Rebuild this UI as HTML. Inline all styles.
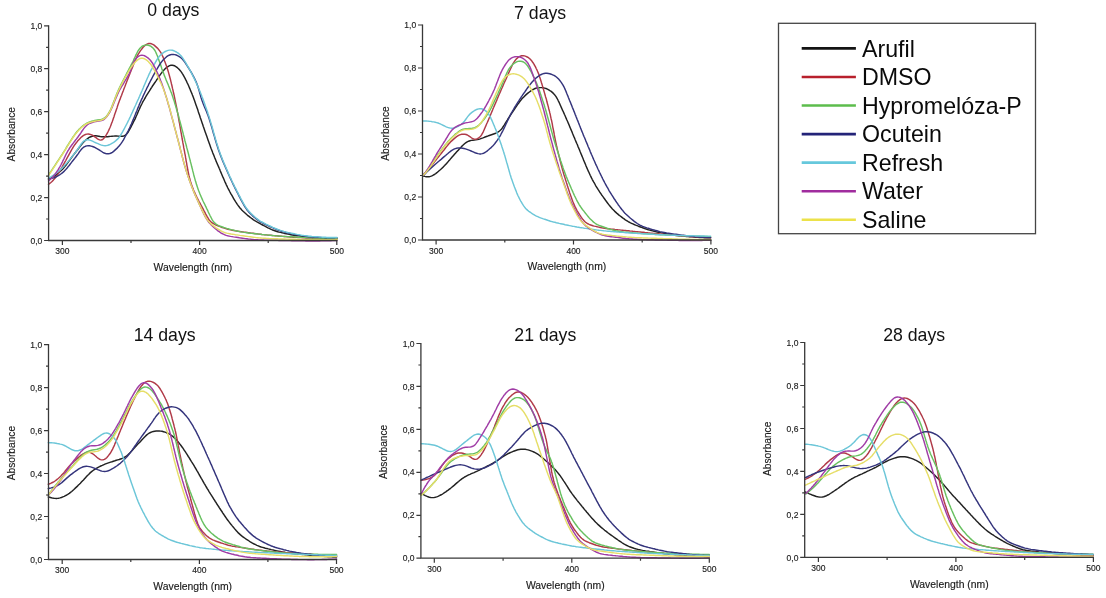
<!DOCTYPE html><html><head><meta charset="utf-8"><style>html,body{margin:0;padding:0;background:#fff;width:1106px;height:598px;overflow:hidden}svg{display:block;will-change:transform}text{font-family:"Liberation Sans", sans-serif}</style></head><body>
<svg width="1106" height="598" viewBox="0 0 1106 598">
<g><path d="M48.5,179.0 L49.9,178.4 L51.2,177.8 L52.6,177.1 L53.8,176.4 L55.1,175.5 L56.3,174.6 L57.5,173.7 L58.6,172.8 L59.8,171.8 L60.9,170.8 L62.0,169.7 L63.0,168.7 L64.0,167.6 L65.0,166.4 L65.9,165.2 L66.8,164.1 L67.7,162.9 L68.6,161.6 L69.5,160.4 L70.4,159.2 L71.2,158.0 L72.1,156.8 L73.0,155.6 L73.9,154.4 L74.8,153.2 L75.8,152.0 L76.7,150.8 L77.6,149.7 L78.5,148.5 L79.4,147.3 L80.4,146.1 L81.3,144.9 L82.2,143.7 L83.2,142.6 L84.2,141.5 L85.3,140.5 L86.4,139.5 L87.6,138.6 L88.8,137.7 L90.1,137.0 L91.5,136.5 L92.9,136.1 L94.3,135.8 L95.8,135.8 L97.2,136.0 L98.7,136.2 L100.2,136.5 L101.7,136.7 L103.1,136.8 L104.6,136.8 L106.1,136.8 L107.6,136.7 L109.1,136.5 L110.6,136.4 L112.1,136.2 L113.6,136.1 L115.1,136.0 L116.6,136.0 L118.1,136.1 L119.5,136.3 L121.0,136.3 L122.4,136.3 L123.8,136.0 L125.0,135.4 L126.1,134.6 L127.1,133.5 L128.0,132.3 L128.7,131.0 L129.5,129.7 L130.2,128.4 L130.9,127.1 L131.6,125.7 L132.3,124.4 L132.9,123.1 L133.6,121.7 L134.3,120.4 L135.0,119.1 L135.6,117.7 L136.2,116.3 L136.8,115.0 L137.4,113.6 L138.0,112.2 L138.6,110.8 L139.2,109.5 L139.8,108.1 L140.4,106.7 L141.1,105.4 L141.8,104.0 L142.4,102.7 L143.1,101.4 L143.9,100.1 L144.6,98.8 L145.4,97.5 L146.1,96.2 L146.9,94.9 L147.7,93.6 L148.5,92.3 L149.3,91.1 L150.1,89.8 L150.9,88.5 L151.7,87.3 L152.5,86.0 L153.4,84.8 L154.2,83.5 L155.1,82.3 L155.9,81.1 L156.7,79.8 L157.6,78.6 L158.4,77.3 L159.3,76.1 L160.1,74.9 L161.0,73.6 L161.9,72.5 L162.8,71.3 L163.8,70.2 L164.9,69.1 L165.9,68.1 L167.1,67.1 L168.3,66.3 L169.6,65.6 L170.9,65.3 L172.3,65.2 L173.7,65.5 L175.0,66.0 L176.2,66.8 L177.4,67.7 L178.5,68.7 L179.5,69.8 L180.5,70.9 L181.4,72.1 L182.2,73.4 L183.0,74.6 L183.7,75.9 L184.4,77.2 L185.2,78.6 L185.8,79.9 L186.5,81.2 L187.1,82.6 L187.8,84.0 L188.4,85.3 L189.0,86.7 L189.6,88.1 L190.2,89.5 L190.7,90.9 L191.3,92.2 L191.9,93.6 L192.4,95.0 L193.0,96.4 L193.5,97.8 L194.0,99.2 L194.5,100.6 L195.0,102.1 L195.5,103.5 L196.0,104.9 L196.5,106.3 L197.0,107.7 L197.5,109.1 L198.0,110.6 L198.4,112.0 L198.9,113.4 L199.4,114.8 L199.9,116.3 L200.3,117.7 L200.8,119.1 L201.3,120.5 L201.8,121.9 L202.3,123.4 L202.8,124.8 L203.2,126.2 L203.7,127.6 L204.2,129.0 L204.7,130.4 L205.2,131.9 L205.7,133.3 L206.2,134.7 L206.7,136.1 L207.2,137.5 L207.7,138.9 L208.2,140.4 L208.7,141.8 L209.2,143.2 L209.7,144.6 L210.2,146.0 L210.7,147.4 L211.2,148.8 L211.8,150.2 L212.3,151.6 L212.8,153.0 L213.4,154.4 L214.0,155.8 L214.5,157.2 L215.1,158.6 L215.7,160.0 L216.2,161.4 L216.8,162.7 L217.4,164.1 L218.0,165.5 L218.6,166.9 L219.2,168.3 L219.8,169.6 L220.3,171.0 L220.9,172.4 L221.5,173.8 L222.1,175.2 L222.7,176.6 L223.3,177.9 L223.9,179.3 L224.5,180.7 L225.1,182.1 L225.7,183.4 L226.3,184.8 L227.0,186.1 L227.6,187.5 L228.3,188.8 L229.0,190.1 L229.7,191.5 L230.4,192.8 L231.1,194.1 L231.9,195.4 L232.6,196.7 L233.3,198.0 L234.1,199.3 L234.9,200.6 L235.7,201.9 L236.5,203.1 L237.3,204.4 L238.2,205.6 L239.1,206.8 L240.0,208.0 L241.0,209.1 L242.0,210.2 L243.1,211.3 L244.2,212.3 L245.3,213.3 L246.4,214.3 L247.5,215.3 L248.7,216.2 L249.9,217.1 L251.1,218.0 L252.3,218.9 L253.5,219.8 L254.8,220.6 L256.1,221.3 L257.4,222.1 L258.7,222.8 L260.0,223.5 L261.3,224.3 L262.6,225.0 L263.9,225.7 L265.3,226.4 L266.6,227.1 L267.9,227.8 L269.3,228.4 L270.6,229.1 L272.0,229.7 L273.4,230.2 L274.8,230.7 L276.2,231.2 L277.7,231.7 L279.1,232.1 L280.6,232.4 L282.0,232.8 L283.5,233.1 L284.9,233.5 L286.4,233.8 L287.9,234.1 L289.3,234.4 L290.8,234.7 L292.3,235.0 L293.8,235.2 L295.2,235.5 L296.7,235.7 L298.2,235.9 L299.7,236.1 L301.2,236.3 L302.7,236.5 L304.2,236.6 L305.7,236.7 L307.2,236.9 L308.6,237.0 L310.1,237.1 L311.6,237.3 L313.1,237.4 L314.6,237.5 L316.1,237.6 L317.6,237.7 L319.1,237.8 L320.6,237.9 L322.1,238.0 L323.6,238.1 L325.1,238.2 L326.6,238.3 L328.1,238.4 L329.6,238.4 L331.1,238.5 L332.6,238.5 L334.1,238.6 L335.5,238.6 L337.0,238.6 L337.0,238.6" fill="none" stroke="#222222" stroke-width="1.45" stroke-linejoin="round" stroke-linecap="round"/><path d="M48.5,184.3 L49.7,183.4 L50.9,182.5 L52.0,181.5 L53.0,180.4 L54.0,179.3 L55.0,178.2 L55.9,177.0 L56.8,175.8 L57.6,174.6 L58.5,173.3 L59.2,172.0 L60.0,170.7 L60.7,169.4 L61.5,168.1 L62.2,166.8 L62.9,165.5 L63.7,164.2 L64.4,162.9 L65.1,161.6 L65.9,160.3 L66.6,158.9 L67.3,157.6 L68.0,156.3 L68.8,155.0 L69.5,153.7 L70.2,152.4 L70.9,151.1 L71.7,149.7 L72.4,148.5 L73.2,147.2 L74.0,145.9 L74.8,144.7 L75.7,143.5 L76.7,142.3 L77.6,141.1 L78.6,140.0 L79.6,138.9 L80.7,137.8 L81.7,136.8 L82.9,135.9 L84.1,135.1 L85.4,134.5 L86.8,134.1 L88.2,134.0 L89.6,134.2 L91.0,134.6 L92.3,135.2 L93.6,135.9 L94.8,136.8 L96.0,137.7 L97.2,138.6 L98.4,139.4 L99.6,139.9 L100.8,140.1 L102.0,139.8 L103.1,139.1 L104.1,138.1 L105.0,136.9 L105.8,135.7 L106.6,134.4 L107.3,133.1 L108.0,131.8 L108.7,130.4 L109.3,129.0 L109.9,127.7 L110.5,126.3 L111.0,124.9 L111.5,123.5 L112.1,122.1 L112.6,120.7 L113.1,119.3 L113.6,117.8 L114.1,116.4 L114.5,115.0 L115.0,113.6 L115.5,112.2 L116.0,110.7 L116.5,109.3 L117.0,107.9 L117.4,106.5 L117.9,105.1 L118.4,103.6 L118.9,102.2 L119.4,100.8 L120.0,99.4 L120.5,98.0 L121.0,96.6 L121.6,95.2 L122.1,93.8 L122.6,92.4 L123.2,91.0 L123.7,89.6 L124.2,88.2 L124.8,86.8 L125.3,85.4 L125.8,84.0 L126.4,82.6 L126.9,81.2 L127.5,79.8 L128.0,78.4 L128.6,77.0 L129.1,75.6 L129.7,74.2 L130.2,72.8 L130.8,71.4 L131.3,70.0 L131.9,68.7 L132.5,67.3 L133.0,65.9 L133.6,64.5 L134.1,63.1 L134.7,61.7 L135.3,60.3 L135.9,58.9 L136.5,57.6 L137.1,56.2 L137.8,54.9 L138.6,53.6 L139.4,52.3 L140.2,51.1 L141.1,49.9 L142.0,48.7 L142.9,47.5 L143.9,46.4 L145.0,45.4 L146.2,44.6 L147.5,43.9 L148.8,43.5 L150.2,43.5 L151.5,43.8 L152.8,44.4 L154.1,45.1 L155.2,46.1 L156.3,47.1 L157.4,48.1 L158.4,49.2 L159.3,50.4 L160.2,51.6 L161.0,52.9 L161.7,54.2 L162.3,55.5 L163.0,56.9 L163.5,58.3 L164.1,59.7 L164.6,61.1 L165.2,62.5 L165.7,63.9 L166.2,65.3 L166.7,66.7 L167.2,68.1 L167.6,69.6 L168.1,71.0 L168.5,72.4 L168.9,73.9 L169.3,75.3 L169.7,76.8 L170.1,78.2 L170.5,79.7 L170.8,81.1 L171.2,82.6 L171.5,84.0 L171.9,85.5 L172.2,87.0 L172.5,88.4 L172.9,89.9 L173.2,91.4 L173.5,92.8 L173.9,94.3 L174.2,95.7 L174.5,97.2 L174.8,98.7 L175.1,100.1 L175.4,101.6 L175.7,103.1 L176.0,104.6 L176.3,106.0 L176.6,107.5 L176.9,109.0 L177.2,110.4 L177.4,111.9 L177.7,113.4 L178.0,114.9 L178.3,116.3 L178.5,117.8 L178.8,119.3 L179.0,120.8 L179.3,122.3 L179.6,123.7 L179.8,125.2 L180.1,126.7 L180.3,128.2 L180.6,129.6 L180.8,131.1 L181.1,132.6 L181.4,134.1 L181.6,135.6 L181.9,137.0 L182.1,138.5 L182.4,140.0 L182.7,141.5 L182.9,142.9 L183.2,144.4 L183.5,145.9 L183.7,147.4 L184.0,148.8 L184.3,150.3 L184.6,151.8 L184.8,153.3 L185.1,154.7 L185.4,156.2 L185.6,157.7 L185.9,159.2 L186.1,160.6 L186.4,162.1 L186.7,163.6 L186.9,165.1 L187.2,166.6 L187.5,168.0 L187.7,169.5 L188.0,171.0 L188.3,172.4 L188.6,173.9 L188.9,175.4 L189.3,176.8 L189.6,178.3 L190.0,179.8 L190.4,181.2 L190.9,182.6 L191.3,184.1 L191.8,185.5 L192.3,186.9 L192.9,188.3 L193.4,189.7 L194.0,191.1 L194.6,192.4 L195.2,193.8 L195.8,195.2 L196.5,196.5 L197.1,197.9 L197.8,199.2 L198.5,200.5 L199.2,201.8 L200.0,203.2 L200.7,204.5 L201.4,205.8 L202.1,207.1 L202.8,208.4 L203.5,209.7 L204.2,211.1 L204.9,212.4 L205.6,213.8 L206.3,215.1 L207.0,216.4 L207.8,217.7 L208.5,219.0 L209.4,220.2 L210.4,221.3 L211.4,222.3 L212.6,223.2 L213.9,223.9 L215.2,224.6 L216.6,225.3 L217.9,225.8 L219.3,226.4 L220.7,226.9 L222.1,227.5 L223.6,227.9 L225.0,228.4 L226.4,228.8 L227.9,229.2 L229.3,229.6 L230.8,229.9 L232.2,230.3 L233.7,230.5 L235.2,230.8 L236.7,231.0 L238.2,231.3 L239.6,231.5 L241.1,231.7 L242.6,231.9 L244.1,232.1 L245.6,232.3 L247.1,232.5 L248.5,232.7 L250.0,232.9 L251.5,233.1 L253.0,233.3 L254.5,233.5 L256.0,233.7 L257.5,233.9 L259.0,234.1 L260.4,234.3 L261.9,234.5 L263.4,234.6 L264.9,234.8 L266.4,234.9 L267.9,235.1 L269.4,235.2 L270.9,235.3 L272.4,235.5 L273.9,235.6 L275.4,235.7 L276.9,235.9 L278.4,236.0 L279.9,236.1 L281.4,236.2 L282.9,236.4 L284.3,236.5 L285.8,236.6 L287.3,236.7 L288.8,236.8 L290.3,237.0 L291.8,237.1 L293.3,237.2 L294.8,237.3 L296.3,237.4 L297.8,237.5 L299.3,237.6 L300.8,237.6 L302.3,237.7 L303.8,237.8 L305.3,237.9 L306.8,237.9 L308.3,238.0 L309.8,238.1 L311.3,238.1 L312.8,238.2 L314.3,238.3 L315.8,238.3 L317.3,238.4 L318.8,238.5 L320.3,238.5 L321.8,238.6 L323.3,238.6 L324.8,238.7 L326.3,238.7 L327.8,238.8 L329.3,238.8 L330.8,238.9 L332.3,238.9 L333.7,238.9 L335.2,239.0 L336.5,239.0 L337.0,239.0" fill="none" stroke="#b03a48" stroke-width="1.45" stroke-linejoin="round" stroke-linecap="round"/><path d="M48.5,175.2 L49.3,173.9 L50.1,172.7 L51.0,171.4 L51.8,170.2 L52.6,168.9 L53.4,167.7 L54.3,166.4 L55.1,165.2 L55.9,163.9 L56.7,162.7 L57.5,161.4 L58.4,160.1 L59.2,158.9 L60.0,157.6 L60.8,156.4 L61.7,155.1 L62.5,153.9 L63.3,152.6 L64.1,151.3 L64.9,150.1 L65.7,148.8 L66.4,147.5 L67.2,146.2 L68.0,145.0 L68.8,143.7 L69.6,142.4 L70.4,141.1 L71.2,139.9 L72.0,138.6 L72.8,137.3 L73.7,136.1 L74.5,134.9 L75.4,133.7 L76.3,132.5 L77.3,131.3 L78.3,130.2 L79.3,129.1 L80.4,128.1 L81.5,127.0 L82.6,126.1 L83.8,125.1 L85.0,124.3 L86.3,123.5 L87.6,122.8 L89.0,122.2 L90.4,121.7 L91.8,121.3 L93.2,120.9 L94.7,120.5 L96.2,120.2 L97.6,120.0 L99.1,119.8 L100.6,119.6 L102.0,119.2 L103.3,118.7 L104.6,117.9 L105.7,117.0 L106.7,115.9 L107.6,114.7 L108.4,113.5 L109.2,112.2 L109.9,110.9 L110.6,109.6 L111.2,108.2 L111.8,106.8 L112.3,105.4 L112.9,104.0 L113.4,102.6 L113.9,101.2 L114.5,99.8 L115.0,98.4 L115.5,97.0 L116.1,95.6 L116.6,94.2 L117.2,92.8 L117.8,91.5 L118.4,90.1 L119.0,88.7 L119.7,87.4 L120.3,86.0 L121.0,84.7 L121.6,83.3 L122.3,82.0 L123.0,80.7 L123.7,79.3 L124.4,78.0 L125.1,76.7 L125.8,75.3 L126.4,74.0 L127.1,72.7 L127.8,71.3 L128.5,70.0 L129.2,68.7 L129.9,67.4 L130.6,66.0 L131.3,64.7 L132.0,63.4 L132.7,62.0 L133.3,60.7 L133.9,59.3 L134.6,57.9 L135.2,56.6 L135.8,55.2 L136.5,53.9 L137.2,52.5 L137.9,51.2 L138.7,50.0 L139.5,48.8 L140.5,47.7 L141.6,46.7 L142.8,45.9 L144.2,45.4 L145.6,45.1 L147.0,45.0 L148.4,45.3 L149.7,45.7 L151.0,46.4 L152.2,47.3 L153.2,48.3 L154.2,49.5 L155.0,50.7 L155.7,52.0 L156.3,53.4 L156.9,54.8 L157.5,56.1 L158.0,57.5 L158.5,59.0 L159.0,60.4 L159.5,61.8 L160.0,63.2 L160.5,64.6 L161.0,66.0 L161.5,67.5 L161.9,68.9 L162.4,70.3 L162.9,71.7 L163.5,73.1 L164.0,74.5 L164.5,75.9 L165.1,77.3 L165.7,78.7 L166.2,80.1 L166.8,81.5 L167.4,82.9 L168.0,84.2 L168.5,85.6 L169.1,87.0 L169.6,88.4 L170.2,89.8 L170.7,91.2 L171.3,92.6 L171.8,94.0 L172.3,95.4 L172.8,96.9 L173.2,98.3 L173.7,99.7 L174.2,101.1 L174.6,102.6 L175.0,104.0 L175.5,105.4 L175.9,106.9 L176.3,108.3 L176.7,109.8 L177.2,111.2 L177.6,112.6 L178.0,114.1 L178.4,115.5 L178.8,117.0 L179.1,118.4 L179.5,119.9 L179.9,121.3 L180.3,122.8 L180.7,124.2 L181.1,125.7 L181.5,127.1 L181.8,128.6 L182.2,130.0 L182.6,131.5 L183.0,132.9 L183.3,134.4 L183.7,135.8 L184.1,137.3 L184.5,138.7 L184.8,140.2 L185.2,141.6 L185.6,143.1 L186.0,144.5 L186.4,146.0 L186.7,147.4 L187.1,148.9 L187.5,150.3 L187.9,151.8 L188.3,153.2 L188.7,154.7 L189.0,156.1 L189.4,157.6 L189.8,159.1 L190.2,160.5 L190.5,162.0 L190.9,163.4 L191.3,164.9 L191.6,166.3 L192.0,167.8 L192.4,169.2 L192.7,170.7 L193.1,172.1 L193.5,173.6 L193.8,175.0 L194.2,176.5 L194.6,177.9 L195.0,179.4 L195.4,180.8 L195.9,182.3 L196.3,183.7 L196.7,185.1 L197.2,186.6 L197.7,188.0 L198.2,189.4 L198.7,190.8 L199.3,192.2 L199.8,193.6 L200.4,195.0 L201.0,196.4 L201.6,197.7 L202.2,199.1 L202.8,200.5 L203.4,201.8 L204.1,203.2 L204.8,204.5 L205.4,205.9 L206.1,207.2 L206.7,208.6 L207.4,209.9 L208.0,211.3 L208.6,212.6 L209.3,214.0 L209.9,215.3 L210.6,216.7 L211.3,218.0 L212.0,219.3 L212.8,220.6 L213.6,221.8 L214.6,222.9 L215.7,223.9 L216.9,224.7 L218.2,225.4 L219.6,226.0 L221.0,226.5 L222.4,227.0 L223.8,227.5 L225.2,227.9 L226.7,228.4 L228.1,228.8 L229.5,229.2 L231.0,229.6 L232.4,229.9 L233.9,230.3 L235.4,230.6 L236.8,231.0 L238.3,231.3 L239.8,231.6 L241.2,231.9 L242.7,232.1 L244.2,232.4 L245.7,232.6 L247.2,232.8 L248.6,233.0 L250.1,233.2 L251.6,233.4 L253.1,233.5 L254.6,233.7 L256.1,233.8 L257.6,234.0 L259.1,234.1 L260.6,234.3 L262.1,234.5 L263.6,234.6 L265.0,234.8 L266.5,234.9 L268.0,235.1 L269.5,235.2 L271.0,235.4 L272.5,235.5 L274.0,235.6 L275.5,235.8 L277.0,235.9 L278.5,236.0 L280.0,236.1 L281.5,236.3 L283.0,236.4 L284.5,236.5 L286.0,236.5 L287.5,236.6 L289.0,236.7 L290.5,236.8 L292.0,236.8 L293.5,236.9 L295.0,237.0 L296.5,237.1 L298.0,237.2 L299.5,237.2 L301.0,237.3 L302.5,237.4 L303.9,237.5 L305.4,237.5 L306.9,237.6 L308.4,237.7 L309.9,237.7 L311.4,237.8 L312.9,237.9 L314.4,237.9 L315.9,238.0 L317.4,238.1 L318.9,238.1 L320.4,238.2 L321.9,238.2 L323.4,238.3 L324.9,238.3 L326.4,238.4 L327.9,238.4 L329.4,238.5 L330.9,238.5 L332.4,238.5 L333.9,238.6 L335.2,238.6 L336.6,238.6 L337.0,238.6" fill="none" stroke="#68c060" stroke-width="1.45" stroke-linejoin="round" stroke-linecap="round"/><path d="M48.5,179.0 L50.0,178.7 L51.4,178.4 L52.9,178.1 L54.3,177.6 L55.7,177.0 L57.0,176.3 L58.3,175.6 L59.6,174.8 L60.8,174.0 L62.0,173.1 L63.2,172.1 L64.3,171.1 L65.3,170.1 L66.3,168.9 L67.3,167.8 L68.2,166.6 L69.2,165.5 L70.1,164.3 L71.0,163.1 L71.9,161.9 L72.8,160.7 L73.8,159.5 L74.7,158.4 L75.6,157.2 L76.5,156.0 L77.4,154.8 L78.3,153.6 L79.1,152.3 L80.0,151.1 L80.9,149.9 L81.9,148.8 L83.0,147.8 L84.1,146.9 L85.4,146.3 L86.7,145.9 L88.2,145.7 L89.6,145.8 L91.1,146.1 L92.5,146.5 L93.9,147.0 L95.2,147.6 L96.5,148.4 L97.8,149.1 L99.1,149.9 L100.3,150.7 L101.6,151.5 L102.9,152.3 L104.2,153.0 L105.6,153.5 L107.0,153.8 L108.4,153.8 L109.8,153.5 L111.1,153.0 L112.4,152.3 L113.6,151.4 L114.7,150.4 L115.8,149.4 L116.9,148.4 L117.9,147.3 L118.9,146.2 L119.9,145.1 L120.8,143.9 L121.7,142.6 L122.5,141.4 L123.3,140.1 L124.0,138.8 L124.7,137.5 L125.4,136.2 L126.1,134.8 L126.8,133.5 L127.5,132.2 L128.2,130.8 L128.8,129.5 L129.5,128.1 L130.1,126.8 L130.7,125.4 L131.4,124.0 L131.9,122.7 L132.5,121.3 L133.1,119.9 L133.7,118.5 L134.3,117.1 L134.8,115.7 L135.4,114.3 L135.9,112.9 L136.5,111.6 L137.1,110.2 L137.6,108.8 L138.2,107.4 L138.8,106.0 L139.3,104.6 L139.9,103.2 L140.5,101.9 L141.1,100.5 L141.7,99.1 L142.4,97.8 L143.0,96.4 L143.6,95.0 L144.3,93.7 L144.9,92.3 L145.5,91.0 L146.2,89.6 L146.8,88.3 L147.5,86.9 L148.2,85.6 L148.8,84.2 L149.5,82.9 L150.2,81.5 L150.9,80.2 L151.6,78.9 L152.3,77.5 L153.0,76.2 L153.7,74.9 L154.4,73.6 L155.1,72.3 L155.9,71.0 L156.6,69.7 L157.4,68.4 L158.1,67.1 L158.9,65.8 L159.7,64.5 L160.5,63.3 L161.4,62.1 L162.3,60.9 L163.3,59.8 L164.4,58.7 L165.5,57.7 L166.6,56.7 L167.8,55.9 L169.1,55.2 L170.5,54.7 L171.9,54.4 L173.3,54.4 L174.8,54.6 L176.2,55.0 L177.5,55.6 L178.8,56.3 L180.1,57.1 L181.2,58.0 L182.3,59.1 L183.3,60.2 L184.2,61.3 L185.1,62.6 L185.9,63.8 L186.7,65.1 L187.5,66.3 L188.3,67.6 L189.1,68.9 L189.9,70.2 L190.7,71.4 L191.4,72.7 L192.2,74.0 L192.9,75.3 L193.6,76.7 L194.3,78.0 L195.0,79.4 L195.6,80.7 L196.2,82.1 L196.8,83.5 L197.3,84.9 L197.8,86.3 L198.2,87.7 L198.7,89.2 L199.1,90.6 L199.5,92.0 L199.9,93.5 L200.3,94.9 L200.7,96.4 L201.1,97.8 L201.6,99.2 L202.1,100.7 L202.6,102.1 L203.1,103.5 L203.7,104.9 L204.2,106.2 L204.8,107.6 L205.4,109.0 L206.0,110.4 L206.6,111.8 L207.1,113.2 L207.7,114.6 L208.2,116.0 L208.7,117.4 L209.2,118.8 L209.6,120.2 L210.1,121.7 L210.5,123.1 L210.9,124.5 L211.4,126.0 L211.8,127.4 L212.2,128.9 L212.6,130.3 L213.0,131.7 L213.4,133.2 L213.8,134.6 L214.3,136.1 L214.7,137.5 L215.1,139.0 L215.5,140.4 L215.9,141.8 L216.4,143.3 L216.8,144.7 L217.3,146.1 L217.7,147.6 L218.2,149.0 L218.7,150.4 L219.2,151.8 L219.7,153.2 L220.2,154.6 L220.8,156.0 L221.3,157.4 L221.9,158.8 L222.4,160.2 L223.0,161.6 L223.6,163.0 L224.2,164.4 L224.8,165.7 L225.4,167.1 L226.0,168.5 L226.6,169.9 L227.2,171.2 L227.8,172.6 L228.4,174.0 L229.0,175.3 L229.6,176.7 L230.3,178.1 L230.9,179.4 L231.5,180.8 L232.2,182.2 L232.8,183.5 L233.4,184.9 L234.1,186.2 L234.8,187.6 L235.4,188.9 L236.1,190.2 L236.8,191.6 L237.5,192.9 L238.2,194.2 L238.8,195.6 L239.5,196.9 L240.2,198.2 L240.9,199.6 L241.6,200.9 L242.3,202.2 L243.0,203.5 L243.8,204.9 L244.5,206.1 L245.3,207.4 L246.2,208.7 L247.0,209.9 L248.0,211.0 L249.0,212.2 L250.0,213.3 L251.0,214.3 L252.1,215.3 L253.2,216.4 L254.4,217.3 L255.5,218.3 L256.7,219.2 L257.9,220.1 L259.1,221.0 L260.4,221.8 L261.7,222.5 L263.0,223.2 L264.3,223.9 L265.7,224.6 L267.0,225.2 L268.4,225.8 L269.8,226.5 L271.1,227.1 L272.5,227.7 L273.9,228.3 L275.3,228.9 L276.6,229.5 L278.0,230.0 L279.4,230.5 L280.9,231.0 L282.3,231.5 L283.7,231.9 L285.2,232.3 L286.6,232.7 L288.1,233.0 L289.5,233.3 L291.0,233.6 L292.5,234.0 L293.9,234.3 L295.4,234.6 L296.9,234.8 L298.4,235.1 L299.8,235.4 L301.3,235.6 L302.8,235.9 L304.3,236.1 L305.8,236.3 L307.3,236.5 L308.7,236.7 L310.2,236.8 L311.7,237.0 L313.2,237.1 L314.7,237.2 L316.2,237.3 L317.7,237.3 L319.2,237.4 L320.7,237.5 L322.2,237.6 L323.7,237.6 L325.2,237.7 L326.7,237.7 L328.2,237.8 L329.7,237.8 L331.2,237.8 L332.7,237.8 L334.2,237.8 L335.6,237.8 L337.0,237.8 L337.0,237.8" fill="none" stroke="#34347c" stroke-width="1.45" stroke-linejoin="round" stroke-linecap="round"/><path d="M48.5,178.0 L49.8,177.3 L51.2,176.6 L52.4,175.9 L53.7,175.0 L54.9,174.2 L56.1,173.3 L57.3,172.3 L58.4,171.4 L59.6,170.4 L60.7,169.4 L61.8,168.4 L62.8,167.3 L63.9,166.2 L64.9,165.1 L65.9,164.0 L66.9,162.9 L67.9,161.7 L68.8,160.6 L69.8,159.4 L70.7,158.3 L71.6,157.1 L72.6,155.9 L73.5,154.8 L74.5,153.6 L75.4,152.4 L76.3,151.2 L77.2,150.0 L78.0,148.8 L78.8,147.5 L79.7,146.3 L80.5,145.0 L81.4,143.8 L82.3,142.7 L83.3,141.6 L84.5,140.7 L85.7,140.1 L87.0,139.8 L88.4,139.8 L89.8,140.1 L91.2,140.6 L92.5,141.2 L93.9,141.9 L95.2,142.5 L96.6,143.1 L98.0,143.7 L99.4,144.3 L100.8,144.9 L102.2,145.3 L103.6,145.6 L105.1,145.7 L106.5,145.6 L107.9,145.3 L109.3,144.8 L110.6,144.2 L111.9,143.4 L113.2,142.6 L114.4,141.8 L115.6,140.9 L116.7,139.9 L117.8,138.9 L118.8,137.8 L119.7,136.6 L120.5,135.3 L121.3,134.0 L122.0,132.8 L122.8,131.4 L123.5,130.1 L124.2,128.8 L124.9,127.5 L125.6,126.2 L126.3,124.8 L127.0,123.5 L127.7,122.2 L128.3,120.8 L129.0,119.5 L129.6,118.1 L130.3,116.7 L130.9,115.4 L131.5,114.0 L132.2,112.7 L132.8,111.3 L133.4,109.9 L134.0,108.6 L134.6,107.2 L135.3,105.8 L135.9,104.5 L136.5,103.1 L137.1,101.7 L137.7,100.4 L138.4,99.0 L139.0,97.6 L139.6,96.3 L140.2,94.9 L140.8,93.5 L141.4,92.1 L142.0,90.8 L142.6,89.4 L143.2,88.0 L143.7,86.6 L144.3,85.2 L144.9,83.9 L145.5,82.5 L146.1,81.1 L146.7,79.7 L147.3,78.3 L147.9,77.0 L148.5,75.6 L149.1,74.2 L149.8,72.9 L150.4,71.5 L151.1,70.2 L151.8,68.9 L152.5,67.5 L153.2,66.2 L153.9,64.9 L154.7,63.6 L155.4,62.3 L156.2,61.0 L157.0,59.7 L157.8,58.5 L158.6,57.3 L159.6,56.1 L160.6,55.0 L161.7,54.0 L162.8,53.1 L164.1,52.2 L165.3,51.5 L166.7,50.9 L168.1,50.4 L169.5,50.1 L170.9,50.1 L172.4,50.3 L173.8,50.7 L175.1,51.3 L176.4,52.0 L177.7,52.8 L178.9,53.7 L179.9,54.7 L181.0,55.8 L181.9,56.9 L182.8,58.2 L183.6,59.4 L184.4,60.7 L185.2,61.9 L186.0,63.2 L186.7,64.5 L187.5,65.8 L188.3,67.1 L189.0,68.4 L189.7,69.7 L190.4,71.0 L191.1,72.4 L191.8,73.7 L192.5,75.1 L193.1,76.4 L193.8,77.7 L194.5,79.1 L195.1,80.4 L195.7,81.8 L196.4,83.2 L197.0,84.5 L197.6,85.9 L198.2,87.3 L198.8,88.6 L199.4,90.0 L199.9,91.4 L200.5,92.8 L201.1,94.2 L201.6,95.6 L202.1,97.0 L202.7,98.4 L203.2,99.8 L203.7,101.2 L204.2,102.6 L204.7,104.0 L205.2,105.4 L205.7,106.9 L206.2,108.3 L206.7,109.7 L207.2,111.1 L207.7,112.5 L208.1,114.0 L208.6,115.4 L209.1,116.8 L209.5,118.3 L210.0,119.7 L210.4,121.1 L210.8,122.6 L211.2,124.0 L211.7,125.4 L212.1,126.9 L212.5,128.3 L212.9,129.8 L213.3,131.2 L213.7,132.7 L214.1,134.1 L214.5,135.5 L214.9,137.0 L215.3,138.4 L215.8,139.9 L216.2,141.3 L216.6,142.7 L217.1,144.2 L217.5,145.6 L218.0,147.0 L218.4,148.5 L218.9,149.9 L219.4,151.3 L219.9,152.7 L220.4,154.1 L221.0,155.5 L221.5,156.9 L222.0,158.3 L222.6,159.7 L223.2,161.1 L223.7,162.5 L224.3,163.9 L224.9,165.3 L225.5,166.6 L226.1,168.0 L226.7,169.4 L227.3,170.8 L227.9,172.1 L228.5,173.5 L229.1,174.9 L229.7,176.2 L230.4,177.6 L231.0,179.0 L231.6,180.3 L232.3,181.7 L232.9,183.0 L233.6,184.4 L234.2,185.7 L234.9,187.1 L235.6,188.4 L236.3,189.7 L236.9,191.1 L237.6,192.4 L238.3,193.7 L239.0,195.1 L239.7,196.4 L240.4,197.7 L241.1,199.1 L241.8,200.4 L242.5,201.7 L243.2,203.0 L244.0,204.3 L244.8,205.6 L245.6,206.9 L246.4,208.1 L247.3,209.3 L248.2,210.5 L249.2,211.6 L250.3,212.7 L251.3,213.7 L252.4,214.8 L253.5,215.8 L254.6,216.8 L255.8,217.8 L256.9,218.7 L258.1,219.6 L259.4,220.5 L260.6,221.3 L261.9,222.0 L263.2,222.7 L264.6,223.4 L265.9,224.1 L267.2,224.7 L268.6,225.4 L270.0,226.0 L271.3,226.6 L272.7,227.3 L274.1,227.9 L275.4,228.5 L276.8,229.0 L278.2,229.6 L279.6,230.1 L281.0,230.6 L282.5,231.0 L283.9,231.5 L285.4,231.9 L286.8,232.2 L288.3,232.6 L289.7,232.9 L291.2,233.2 L292.7,233.5 L294.1,233.8 L295.6,234.1 L297.1,234.4 L298.6,234.6 L300.0,234.9 L301.5,235.2 L303.0,235.4 L304.5,235.6 L306.0,235.8 L307.5,236.0 L308.9,236.2 L310.4,236.3 L311.9,236.5 L313.4,236.6 L314.9,236.7 L316.4,236.8 L317.9,236.9 L319.4,237.0 L320.9,237.1 L322.4,237.2 L323.9,237.2 L325.4,237.3 L326.9,237.4 L328.4,237.4 L329.9,237.5 L331.4,237.5 L332.9,237.5 L334.3,237.5 L335.7,237.5 L337.0,237.5 L337.0,237.5" fill="none" stroke="#6cc6d8" stroke-width="1.45" stroke-linejoin="round" stroke-linecap="round"/><path d="M48.5,181.0 L49.6,180.0 L50.8,179.0 L51.8,178.0 L52.8,176.9 L53.8,175.7 L54.7,174.6 L55.6,173.4 L56.5,172.1 L57.3,170.9 L58.2,169.7 L58.9,168.4 L59.7,167.1 L60.4,165.8 L61.1,164.5 L61.8,163.1 L62.5,161.8 L63.1,160.4 L63.8,159.1 L64.4,157.7 L65.1,156.4 L65.7,155.0 L66.4,153.7 L67.1,152.4 L67.8,151.0 L68.6,149.8 L69.4,148.5 L70.2,147.2 L71.1,146.0 L72.0,144.8 L72.9,143.6 L73.8,142.4 L74.7,141.2 L75.6,140.0 L76.5,138.9 L77.4,137.7 L78.3,136.5 L79.2,135.2 L80.1,134.0 L80.9,132.8 L81.7,131.5 L82.6,130.3 L83.4,129.1 L84.3,127.9 L85.3,126.7 L86.3,125.7 L87.5,124.7 L88.7,123.9 L90.0,123.2 L91.4,122.7 L92.8,122.2 L94.2,121.8 L95.7,121.5 L97.2,121.3 L98.7,121.0 L100.1,120.8 L101.5,120.5 L102.9,120.0 L104.2,119.3 L105.3,118.3 L106.3,117.3 L107.2,116.1 L108.1,114.9 L108.9,113.7 L109.7,112.4 L110.4,111.0 L111.0,109.7 L111.7,108.3 L112.3,107.0 L112.8,105.6 L113.4,104.2 L114.0,102.8 L114.5,101.4 L115.1,100.0 L115.7,98.6 L116.3,97.3 L116.9,95.9 L117.5,94.5 L118.1,93.2 L118.7,91.8 L119.4,90.5 L120.1,89.2 L120.9,87.8 L121.6,86.5 L122.4,85.3 L123.2,84.0 L124.0,82.7 L124.7,81.4 L125.5,80.1 L126.3,78.9 L127.0,77.6 L127.8,76.2 L128.5,74.9 L129.2,73.6 L129.8,72.2 L130.4,70.9 L130.9,69.5 L131.4,68.0 L131.9,66.6 L132.4,65.2 L132.9,63.8 L133.5,62.4 L134.2,61.1 L135.0,59.9 L135.9,58.7 L136.9,57.6 L138.0,56.7 L139.2,55.9 L140.5,55.4 L141.9,55.2 L143.3,55.4 L144.6,55.8 L145.9,56.5 L147.1,57.3 L148.3,58.2 L149.4,59.3 L150.4,60.3 L151.3,61.5 L152.2,62.7 L153.0,64.0 L153.7,65.3 L154.4,66.6 L155.1,67.9 L155.8,69.3 L156.4,70.7 L157.0,72.0 L157.6,73.4 L158.2,74.8 L158.8,76.1 L159.4,77.5 L160.0,78.9 L160.5,80.3 L161.1,81.7 L161.6,83.1 L162.1,84.5 L162.6,85.9 L163.1,87.3 L163.6,88.8 L164.0,90.2 L164.5,91.6 L165.0,93.0 L165.4,94.5 L165.9,95.9 L166.3,97.3 L166.8,98.8 L167.2,100.2 L167.6,101.6 L168.0,103.1 L168.4,104.5 L168.9,106.0 L169.3,107.4 L169.7,108.9 L170.1,110.3 L170.5,111.8 L170.8,113.2 L171.2,114.6 L171.6,116.1 L172.0,117.5 L172.4,119.0 L172.8,120.4 L173.2,121.9 L173.6,123.3 L173.9,124.8 L174.3,126.2 L174.7,127.7 L175.1,129.1 L175.5,130.6 L175.9,132.0 L176.3,133.5 L176.6,134.9 L177.0,136.4 L177.4,137.8 L177.8,139.3 L178.2,140.7 L178.6,142.2 L179.0,143.6 L179.3,145.1 L179.7,146.5 L180.1,148.0 L180.4,149.5 L180.8,150.9 L181.2,152.4 L181.6,153.8 L181.9,155.3 L182.3,156.7 L182.7,158.2 L183.1,159.6 L183.4,161.1 L183.8,162.5 L184.2,164.0 L184.6,165.4 L185.1,166.8 L185.5,168.3 L185.9,169.7 L186.4,171.2 L186.8,172.6 L187.3,174.0 L187.8,175.4 L188.2,176.8 L188.7,178.3 L189.2,179.7 L189.7,181.1 L190.2,182.5 L190.8,183.9 L191.3,185.3 L191.8,186.7 L192.4,188.1 L192.9,189.5 L193.5,190.9 L194.0,192.3 L194.6,193.7 L195.2,195.1 L195.8,196.4 L196.4,197.8 L197.0,199.2 L197.7,200.5 L198.3,201.9 L198.9,203.3 L199.5,204.6 L200.1,206.0 L200.8,207.4 L201.4,208.7 L202.0,210.1 L202.6,211.5 L203.3,212.8 L203.9,214.2 L204.6,215.5 L205.3,216.8 L206.1,218.1 L206.8,219.4 L207.7,220.7 L208.5,221.9 L209.5,223.0 L210.5,224.1 L211.5,225.2 L212.6,226.2 L213.7,227.2 L214.8,228.2 L216.0,229.2 L217.2,230.1 L218.3,231.1 L219.6,231.9 L220.8,232.8 L222.1,233.5 L223.4,234.2 L224.8,234.8 L226.2,235.4 L227.6,235.8 L229.0,236.1 L230.5,236.4 L232.0,236.6 L233.5,236.9 L235.0,237.1 L236.4,237.3 L237.9,237.5 L239.4,237.8 L240.9,238.0 L242.4,238.2 L243.9,238.4 L245.3,238.6 L246.8,238.8 L248.3,239.0 L249.8,239.1 L251.3,239.3 L252.8,239.4 L254.3,239.6 L255.8,239.7 L257.3,239.8 L258.8,239.9 L260.3,239.9 L261.8,240.0 L263.3,240.0 L264.8,240.1 L266.3,240.1 L267.8,240.1 L269.3,240.2 L270.8,240.2 L272.3,240.2 L273.8,240.3 L275.3,240.3 L276.8,240.3 L278.3,240.4 L279.8,240.4 L281.3,240.5 L282.8,240.5 L284.3,240.5 L285.8,240.6 L287.3,240.6 L288.8,240.6 L290.3,240.6 L291.8,240.7 L293.3,240.7 L294.8,240.7 L296.3,240.8 L297.8,240.8 L299.3,240.8 L300.8,240.8 L302.3,240.8 L303.8,240.8 L305.3,240.9 L306.8,240.9 L308.3,240.9 L309.8,240.9 L311.3,240.9 L312.8,240.9 L314.3,240.9 L315.8,240.9 L317.3,240.9 L318.8,240.9 L320.3,240.9 L321.8,240.8 L323.3,240.8 L324.8,240.8 L326.3,240.8 L327.8,240.8 L329.3,240.7 L330.8,240.7 L332.3,240.6 L333.7,240.6 L335.2,240.6 L336.5,240.5 L337.0,240.5" fill="none" stroke="#a03ca6" stroke-width="1.45" stroke-linejoin="round" stroke-linecap="round"/><path d="M48.5,175.6 L49.3,174.3 L50.1,173.1 L51.0,171.8 L51.8,170.6 L52.6,169.3 L53.4,168.1 L54.2,166.8 L55.1,165.6 L55.9,164.3 L56.7,163.1 L57.5,161.8 L58.4,160.5 L59.2,159.3 L60.0,158.0 L60.8,156.8 L61.7,155.5 L62.5,154.3 L63.3,153.0 L64.1,151.7 L64.9,150.5 L65.7,149.2 L66.5,147.9 L67.2,146.6 L68.0,145.4 L68.8,144.1 L69.6,142.8 L70.4,141.5 L71.2,140.3 L72.0,139.0 L72.9,137.8 L73.7,136.5 L74.6,135.3 L75.5,134.1 L76.4,132.9 L77.4,131.8 L78.3,130.7 L79.4,129.6 L80.4,128.5 L81.5,127.5 L82.6,126.5 L83.8,125.6 L85.0,124.7 L86.3,124.0 L87.7,123.3 L89.0,122.8 L90.5,122.3 L91.9,121.9 L93.3,121.5 L94.8,121.2 L96.3,120.9 L97.8,120.7 L99.2,120.4 L100.7,120.2 L102.1,119.8 L103.4,119.2 L104.6,118.4 L105.7,117.5 L106.7,116.4 L107.6,115.2 L108.4,113.9 L109.2,112.7 L109.9,111.3 L110.6,110.0 L111.2,108.6 L111.8,107.2 L112.3,105.9 L112.9,104.5 L113.4,103.1 L114.0,101.7 L114.5,100.3 L115.0,98.9 L115.6,97.5 L116.1,96.1 L116.7,94.7 L117.3,93.3 L117.9,91.9 L118.5,90.6 L119.2,89.2 L119.8,87.9 L120.5,86.5 L121.2,85.2 L121.9,83.9 L122.5,82.5 L123.2,81.2 L123.9,79.9 L124.6,78.5 L125.3,77.2 L126.1,75.9 L126.8,74.6 L127.5,73.3 L128.3,72.0 L129.0,70.7 L129.8,69.4 L130.6,68.2 L131.5,66.9 L132.3,65.7 L133.2,64.5 L134.1,63.3 L135.1,62.2 L136.2,61.1 L137.3,60.1 L138.5,59.3 L139.7,58.6 L141.1,58.2 L142.4,58.2 L143.8,58.5 L145.1,59.1 L146.3,59.9 L147.4,60.8 L148.5,61.8 L149.5,62.9 L150.5,64.0 L151.4,65.2 L152.2,66.5 L153.0,67.8 L153.7,69.1 L154.5,70.4 L155.2,71.7 L155.9,73.0 L156.6,74.4 L157.3,75.7 L157.9,77.0 L158.6,78.4 L159.3,79.7 L159.9,81.1 L160.6,82.4 L161.2,83.8 L161.8,85.2 L162.4,86.5 L163.0,87.9 L163.5,89.3 L164.0,90.7 L164.6,92.1 L165.1,93.5 L165.6,95.0 L166.0,96.4 L166.5,97.8 L167.0,99.2 L167.4,100.7 L167.8,102.1 L168.3,103.5 L168.7,105.0 L169.1,106.4 L169.5,107.9 L169.9,109.3 L170.3,110.8 L170.7,112.2 L171.1,113.6 L171.5,115.1 L171.8,116.5 L172.2,118.0 L172.6,119.5 L173.0,120.9 L173.4,122.4 L173.7,123.8 L174.1,125.3 L174.5,126.7 L174.9,128.2 L175.2,129.6 L175.6,131.1 L176.0,132.5 L176.4,134.0 L176.8,135.4 L177.2,136.9 L177.5,138.3 L177.9,139.8 L178.3,141.2 L178.7,142.7 L179.1,144.1 L179.5,145.6 L179.8,147.0 L180.2,148.5 L180.6,149.9 L180.9,151.4 L181.3,152.8 L181.7,154.3 L182.1,155.7 L182.4,157.2 L182.8,158.6 L183.2,160.1 L183.6,161.5 L184.0,163.0 L184.4,164.4 L184.8,165.9 L185.2,167.3 L185.6,168.8 L186.1,170.2 L186.5,171.6 L187.0,173.0 L187.4,174.5 L187.9,175.9 L188.4,177.3 L188.9,178.7 L189.4,180.2 L189.9,181.6 L190.4,183.0 L190.9,184.4 L191.4,185.8 L192.0,187.2 L192.5,188.6 L193.1,190.0 L193.6,191.4 L194.2,192.8 L194.8,194.1 L195.4,195.5 L196.0,196.9 L196.6,198.2 L197.2,199.6 L197.9,201.0 L198.5,202.3 L199.1,203.7 L199.7,205.1 L200.4,206.4 L201.0,207.8 L201.6,209.2 L202.3,210.5 L202.9,211.9 L203.6,213.2 L204.3,214.5 L205.0,215.9 L205.7,217.2 L206.5,218.5 L207.3,219.7 L208.2,220.9 L209.2,222.0 L210.2,223.1 L211.3,224.1 L212.4,225.1 L213.6,226.0 L214.8,226.9 L216.0,227.8 L217.3,228.6 L218.5,229.4 L219.8,230.2 L221.1,230.9 L222.5,231.6 L223.9,232.2 L225.3,232.7 L226.7,233.1 L228.1,233.4 L229.6,233.7 L231.1,234.0 L232.6,234.2 L234.0,234.4 L235.5,234.7 L237.0,234.9 L238.5,235.1 L240.0,235.4 L241.5,235.6 L242.9,235.8 L244.4,236.0 L245.9,236.2 L247.4,236.4 L248.9,236.6 L250.4,236.8 L251.9,237.0 L253.3,237.2 L254.8,237.4 L256.3,237.6 L257.8,237.7 L259.3,237.9 L260.8,238.0 L262.3,238.1 L263.8,238.2 L265.3,238.3 L266.8,238.4 L268.3,238.5 L269.8,238.6 L271.3,238.6 L272.8,238.7 L274.3,238.7 L275.8,238.8 L277.3,238.8 L278.8,238.9 L280.3,238.9 L281.8,239.0 L283.3,239.0 L284.8,239.0 L286.3,239.1 L287.8,239.1 L289.3,239.2 L290.8,239.2 L292.3,239.3 L293.8,239.3 L295.3,239.3 L296.8,239.4 L298.3,239.4 L299.8,239.5 L301.3,239.5 L302.8,239.5 L304.3,239.6 L305.8,239.6 L307.3,239.6 L308.8,239.6 L310.3,239.7 L311.8,239.7 L313.3,239.7 L314.8,239.7 L316.3,239.7 L317.8,239.7 L319.3,239.7 L320.8,239.7 L322.3,239.7 L323.8,239.7 L325.3,239.7 L326.8,239.7 L328.3,239.7 L329.8,239.7 L331.3,239.6 L332.8,239.6 L334.3,239.6 L335.7,239.5 L337.2,239.5 L337.2,239.5" fill="none" stroke="#e6de68" stroke-width="1.45" stroke-linejoin="round" stroke-linecap="round"/><path d="M48.6,25.2 V240.5 H337.4" fill="none" stroke="#383838" stroke-width="1.3"/><path d="M44.1,240.5 h4.5 M46.1,219.0 h2.5 M44.1,197.6 h4.5 M46.1,176.1 h2.5 M44.1,154.6 h4.5 M46.1,133.2 h2.5 M44.1,111.7 h4.5 M46.1,90.2 h2.5 M44.1,68.7 h4.5 M46.1,47.3 h2.5 M44.1,25.8 h4.5 M62.4,240.5 v4.5 M131.0,240.5 v2.5 M199.6,240.5 v4.5 M268.2,240.5 v2.5 M336.8,240.5 v4.5" stroke="#383838" stroke-width="1.2" fill="none"/><text x="42.3" y="243.6" font-size="8.5" fill="#222" stroke="#222" stroke-width="0.15" text-anchor="end">0,0</text><text x="42.3" y="200.7" font-size="8.5" fill="#222" stroke="#222" stroke-width="0.15" text-anchor="end">0,2</text><text x="42.3" y="157.7" font-size="8.5" fill="#222" stroke="#222" stroke-width="0.15" text-anchor="end">0,4</text><text x="42.3" y="114.8" font-size="8.5" fill="#222" stroke="#222" stroke-width="0.15" text-anchor="end">0,6</text><text x="42.3" y="71.8" font-size="8.5" fill="#222" stroke="#222" stroke-width="0.15" text-anchor="end">0,8</text><text x="42.3" y="28.9" font-size="8.5" fill="#222" stroke="#222" stroke-width="0.15" text-anchor="end">1,0</text><text x="62.4" y="254.1" font-size="8.5" fill="#222" stroke="#222" stroke-width="0.15" text-anchor="middle">300</text><text x="199.6" y="254.1" font-size="8.5" fill="#222" stroke="#222" stroke-width="0.15" text-anchor="middle">400</text><text x="336.8" y="254.1" font-size="8.5" fill="#222" stroke="#222" stroke-width="0.15" text-anchor="middle">500</text><text x="192.9" y="270.8" font-size="10.4" fill="#1a1a1a" stroke="#1a1a1a" stroke-width="0.15" text-anchor="middle">Wavelength (nm)</text><text transform="translate(14.7,134.2) rotate(-90)" font-size="10.2" fill="#1a1a1a" stroke="#1a1a1a" stroke-width="0.15" text-anchor="middle">Absorbance</text></g>
<g><path d="M423.3,176.0 L424.7,176.4 L426.2,176.7 L427.6,176.8 L429.1,176.7 L430.5,176.4 L431.9,175.9 L433.2,175.2 L434.4,174.5 L435.7,173.6 L436.9,172.7 L438.0,171.7 L439.1,170.8 L440.3,169.8 L441.4,168.8 L442.5,167.7 L443.5,166.7 L444.6,165.6 L445.6,164.5 L446.6,163.4 L447.6,162.3 L448.6,161.1 L449.6,160.0 L450.5,158.9 L451.5,157.7 L452.5,156.6 L453.5,155.5 L454.5,154.3 L455.5,153.2 L456.5,152.1 L457.5,151.0 L458.5,149.9 L459.5,148.8 L460.6,147.7 L461.6,146.6 L462.6,145.5 L463.7,144.5 L464.8,143.5 L466.0,142.6 L467.2,141.8 L468.6,141.2 L470.0,140.7 L471.4,140.4 L472.9,140.2 L474.4,140.1 L475.8,139.9 L477.3,139.6 L478.8,139.3 L480.2,138.9 L481.6,138.4 L483.0,137.9 L484.4,137.3 L485.8,136.8 L487.2,136.3 L488.6,135.7 L490.0,135.2 L491.5,134.7 L492.9,134.2 L494.3,133.7 L495.7,133.2 L497.0,132.6 L498.3,131.9 L499.5,131.0 L500.6,130.0 L501.6,128.9 L502.5,127.7 L503.3,126.5 L504.2,125.2 L504.9,124.0 L505.7,122.7 L506.5,121.4 L507.3,120.1 L508.0,118.8 L508.8,117.6 L509.7,116.3 L510.5,115.0 L511.3,113.8 L512.2,112.6 L513.0,111.3 L513.9,110.1 L514.7,108.8 L515.5,107.6 L516.4,106.3 L517.2,105.1 L518.1,103.9 L519.0,102.7 L519.8,101.5 L520.8,100.3 L521.7,99.1 L522.7,98.0 L523.8,96.9 L524.8,95.9 L525.9,94.9 L527.0,93.9 L528.2,92.9 L529.4,92.0 L530.6,91.1 L531.8,90.2 L533.1,89.5 L534.4,88.8 L535.8,88.3 L537.2,87.9 L538.7,87.7 L540.2,87.6 L541.6,87.6 L543.1,87.8 L544.6,88.1 L546.0,88.5 L547.4,89.1 L548.7,89.8 L549.9,90.6 L551.2,91.4 L552.3,92.4 L553.4,93.4 L554.4,94.5 L555.3,95.6 L556.2,96.9 L556.9,98.1 L557.7,99.5 L558.3,100.8 L559.0,102.1 L559.6,103.5 L560.2,104.9 L560.8,106.2 L561.4,107.6 L562.0,109.0 L562.6,110.4 L563.3,111.7 L563.9,113.1 L564.5,114.5 L565.1,115.8 L565.7,117.2 L566.3,118.6 L566.9,120.0 L567.5,121.3 L568.1,122.7 L568.7,124.1 L569.3,125.5 L569.8,126.9 L570.4,128.2 L571.0,129.6 L571.6,131.0 L572.2,132.4 L572.7,133.8 L573.3,135.2 L573.9,136.6 L574.5,137.9 L575.0,139.3 L575.6,140.7 L576.2,142.1 L576.8,143.5 L577.4,144.8 L577.9,146.2 L578.5,147.6 L579.1,149.0 L579.7,150.4 L580.2,151.8 L580.8,153.2 L581.4,154.6 L581.9,155.9 L582.5,157.3 L583.1,158.7 L583.6,160.1 L584.2,161.5 L584.8,162.9 L585.4,164.3 L585.9,165.6 L586.5,167.0 L587.1,168.4 L587.7,169.8 L588.3,171.2 L589.0,172.5 L589.6,173.9 L590.2,175.2 L590.9,176.6 L591.5,177.9 L592.2,179.3 L592.9,180.6 L593.6,181.9 L594.4,183.2 L595.1,184.5 L595.8,185.8 L596.6,187.1 L597.4,188.4 L598.2,189.7 L599.0,190.9 L599.8,192.2 L600.7,193.4 L601.5,194.7 L602.4,195.9 L603.3,197.1 L604.1,198.3 L605.0,199.5 L605.9,200.8 L606.8,202.0 L607.7,203.2 L608.6,204.4 L609.5,205.5 L610.5,206.7 L611.4,207.8 L612.4,209.0 L613.5,210.0 L614.5,211.1 L615.6,212.1 L616.7,213.1 L617.9,214.1 L619.0,215.1 L620.2,216.0 L621.4,216.9 L622.6,217.9 L623.8,218.7 L625.0,219.6 L626.2,220.4 L627.5,221.2 L628.8,222.0 L630.1,222.7 L631.5,223.3 L632.9,223.9 L634.2,224.5 L635.6,225.1 L637.0,225.6 L638.4,226.2 L639.8,226.7 L641.2,227.2 L642.6,227.8 L644.0,228.3 L645.4,228.8 L646.9,229.2 L648.3,229.7 L649.7,230.1 L651.2,230.5 L652.6,230.9 L654.1,231.3 L655.5,231.6 L657.0,232.0 L658.5,232.3 L659.9,232.6 L661.4,232.9 L662.9,233.1 L664.4,233.4 L665.8,233.7 L667.3,234.0 L668.8,234.3 L670.3,234.5 L671.7,234.8 L673.2,235.0 L674.7,235.2 L676.2,235.4 L677.7,235.6 L679.2,235.8 L680.7,235.9 L682.1,236.1 L683.6,236.2 L685.1,236.3 L686.6,236.5 L688.1,236.6 L689.6,236.7 L691.1,236.8 L692.6,236.9 L694.1,237.1 L695.6,237.2 L697.1,237.3 L698.6,237.4 L700.1,237.4 L701.6,237.5 L703.1,237.6 L704.6,237.7 L706.1,237.7 L707.5,237.7 L708.9,237.8 L710.2,237.8 L710.6,237.8" fill="none" stroke="#222222" stroke-width="1.45" stroke-linejoin="round" stroke-linecap="round"/><path d="M423.3,175.2 L424.3,174.1 L425.3,173.0 L426.3,171.9 L427.3,170.8 L428.3,169.6 L429.3,168.5 L430.2,167.3 L431.2,166.1 L432.1,165.0 L433.0,163.8 L434.0,162.6 L434.9,161.4 L435.8,160.3 L436.7,159.1 L437.7,157.9 L438.6,156.7 L439.5,155.6 L440.5,154.4 L441.4,153.2 L442.3,152.0 L443.3,150.8 L444.2,149.7 L445.1,148.5 L446.0,147.3 L447.0,146.1 L447.9,145.0 L448.9,143.8 L449.9,142.7 L450.9,141.6 L452.0,140.6 L453.1,139.6 L454.2,138.6 L455.4,137.6 L456.6,136.7 L457.8,135.9 L459.1,135.2 L460.4,134.6 L461.8,134.2 L463.3,134.1 L464.7,134.2 L466.1,134.5 L467.4,135.0 L468.7,135.8 L469.9,136.6 L471.1,137.5 L472.3,138.3 L473.6,138.9 L474.9,139.2 L476.2,139.1 L477.5,138.7 L478.7,137.9 L479.8,137.0 L480.8,135.9 L481.7,134.7 L482.4,133.4 L483.1,132.1 L483.7,130.7 L484.3,129.4 L484.9,128.0 L485.5,126.6 L486.1,125.2 L486.7,123.8 L487.3,122.5 L487.9,121.1 L488.5,119.7 L489.1,118.3 L489.7,117.0 L490.3,115.6 L490.8,114.2 L491.4,112.8 L492.0,111.4 L492.6,110.0 L493.1,108.6 L493.7,107.3 L494.3,105.9 L494.9,104.5 L495.5,103.1 L496.1,101.7 L496.7,100.4 L497.2,99.0 L497.8,97.6 L498.4,96.2 L499.0,94.8 L499.6,93.5 L500.2,92.1 L500.8,90.7 L501.4,89.3 L502.0,88.0 L502.6,86.6 L503.2,85.2 L503.8,83.8 L504.4,82.5 L505.0,81.1 L505.7,79.7 L506.3,78.4 L506.9,77.0 L507.5,75.6 L508.1,74.3 L508.7,72.9 L509.3,71.5 L509.9,70.2 L510.6,68.8 L511.2,67.4 L511.8,66.1 L512.5,64.7 L513.2,63.4 L514.0,62.1 L514.8,60.9 L515.7,59.7 L516.7,58.6 L517.8,57.6 L519.0,56.8 L520.3,56.2 L521.6,55.8 L523.1,55.7 L524.5,55.9 L525.9,56.4 L527.2,57.0 L528.5,57.7 L529.6,58.6 L530.7,59.7 L531.7,60.8 L532.5,62.0 L533.4,63.2 L534.1,64.5 L534.9,65.8 L535.6,67.1 L536.2,68.5 L536.9,69.8 L537.5,71.2 L538.1,72.6 L538.7,74.0 L539.2,75.4 L539.6,76.8 L540.1,78.2 L540.6,79.7 L541.0,81.1 L541.4,82.5 L541.9,84.0 L542.3,85.4 L542.7,86.8 L543.1,88.3 L543.6,89.7 L544.0,91.2 L544.4,92.6 L544.8,94.0 L545.2,95.5 L545.6,96.9 L546.1,98.4 L546.5,99.8 L546.8,101.3 L547.2,102.7 L547.6,104.2 L548.0,105.6 L548.4,107.1 L548.7,108.5 L549.1,110.0 L549.5,111.4 L549.8,112.9 L550.2,114.3 L550.5,115.8 L550.8,117.3 L551.1,118.7 L551.5,120.2 L551.8,121.7 L552.1,123.1 L552.4,124.6 L552.6,126.1 L552.9,127.6 L553.2,129.0 L553.5,130.5 L553.8,132.0 L554.1,133.5 L554.3,134.9 L554.6,136.4 L554.9,137.9 L555.2,139.3 L555.5,140.8 L555.8,142.3 L556.1,143.7 L556.4,145.2 L556.8,146.7 L557.1,148.1 L557.4,149.6 L557.8,151.1 L558.1,152.5 L558.5,154.0 L558.8,155.4 L559.2,156.9 L559.6,158.3 L559.9,159.8 L560.3,161.3 L560.7,162.7 L561.0,164.2 L561.4,165.6 L561.8,167.1 L562.2,168.5 L562.6,170.0 L563.0,171.4 L563.4,172.8 L563.8,174.3 L564.3,175.7 L564.7,177.1 L565.2,178.6 L565.6,180.0 L566.1,181.4 L566.5,182.9 L567.0,184.3 L567.4,185.7 L567.9,187.2 L568.3,188.6 L568.8,190.0 L569.3,191.4 L569.7,192.9 L570.2,194.3 L570.7,195.7 L571.2,197.1 L571.7,198.5 L572.2,199.9 L572.7,201.3 L573.3,202.7 L573.9,204.1 L574.5,205.5 L575.1,206.9 L575.8,208.2 L576.5,209.5 L577.2,210.8 L578.0,212.1 L578.8,213.4 L579.6,214.7 L580.4,215.9 L581.2,217.2 L582.1,218.4 L583.0,219.6 L584.0,220.7 L585.0,221.8 L586.1,222.7 L587.3,223.5 L588.7,224.2 L590.0,224.8 L591.4,225.2 L592.9,225.7 L594.3,226.1 L595.8,226.4 L597.2,226.8 L598.7,227.1 L600.2,227.5 L601.6,227.8 L603.1,228.0 L604.6,228.3 L606.1,228.5 L607.6,228.7 L609.0,228.8 L610.5,229.0 L612.0,229.1 L613.5,229.3 L615.0,229.5 L616.5,229.6 L618.0,229.8 L619.5,229.9 L621.0,230.1 L622.5,230.2 L624.0,230.4 L625.5,230.5 L626.9,230.7 L628.4,230.8 L629.9,231.0 L631.4,231.1 L632.9,231.3 L634.4,231.4 L635.9,231.6 L637.4,231.7 L638.9,231.9 L640.4,232.0 L641.9,232.2 L643.4,232.3 L644.9,232.5 L646.4,232.6 L647.8,232.8 L649.3,232.9 L650.8,233.1 L652.3,233.2 L653.8,233.4 L655.3,233.5 L656.8,233.7 L658.3,233.8 L659.8,234.0 L661.3,234.1 L662.8,234.3 L664.3,234.4 L665.8,234.6 L667.2,234.7 L668.7,234.9 L670.2,235.0 L671.7,235.1 L673.2,235.2 L674.7,235.4 L676.2,235.5 L677.7,235.6 L679.2,235.7 L680.7,235.9 L682.2,236.0 L683.7,236.1 L685.2,236.2 L686.7,236.3 L688.2,236.4 L689.7,236.5 L691.2,236.6 L692.7,236.7 L694.2,236.8 L695.7,236.9 L697.2,237.0 L698.7,237.1 L700.1,237.2 L701.6,237.3 L703.1,237.4 L704.6,237.5 L706.1,237.6 L707.6,237.6 L709.1,237.7 L710.6,237.8 L710.6,237.8" fill="none" stroke="#b03a48" stroke-width="1.45" stroke-linejoin="round" stroke-linecap="round"/><path d="M423.3,175.0 L424.3,173.9 L425.3,172.8 L426.3,171.6 L427.2,170.5 L428.1,169.3 L429.0,168.1 L429.9,166.8 L430.7,165.6 L431.6,164.4 L432.4,163.1 L433.2,161.9 L434.0,160.6 L434.9,159.3 L435.7,158.1 L436.5,156.9 L437.4,155.6 L438.2,154.4 L439.1,153.2 L440.0,152.0 L440.9,150.7 L441.8,149.5 L442.7,148.3 L443.6,147.1 L444.5,145.9 L445.4,144.8 L446.4,143.6 L447.3,142.5 L448.3,141.3 L449.3,140.2 L450.4,139.1 L451.4,138.1 L452.5,137.0 L453.5,136.0 L454.6,134.9 L455.7,133.9 L456.9,133.0 L458.1,132.0 L459.3,131.2 L460.5,130.4 L461.9,129.7 L463.2,129.2 L464.7,128.9 L466.1,128.7 L467.6,128.6 L469.1,128.5 L470.6,128.5 L472.1,128.3 L473.5,128.0 L474.9,127.6 L476.2,127.0 L477.5,126.2 L478.7,125.3 L479.7,124.3 L480.8,123.2 L481.8,122.1 L482.7,120.9 L483.7,119.7 L484.6,118.5 L485.4,117.3 L486.3,116.1 L487.1,114.8 L488.0,113.6 L488.7,112.3 L489.5,111.0 L490.2,109.7 L490.9,108.4 L491.6,107.0 L492.3,105.7 L492.9,104.3 L493.6,103.0 L494.2,101.6 L494.8,100.3 L495.5,98.9 L496.1,97.6 L496.7,96.2 L497.4,94.8 L498.0,93.5 L498.6,92.1 L499.2,90.7 L499.9,89.4 L500.5,88.0 L501.1,86.7 L501.7,85.3 L502.3,83.9 L502.9,82.5 L503.4,81.1 L504.0,79.7 L504.6,78.3 L505.1,77.0 L505.7,75.6 L506.3,74.2 L506.9,72.8 L507.6,71.5 L508.3,70.2 L509.0,68.9 L509.9,67.6 L510.8,66.5 L511.8,65.4 L512.9,64.3 L514.0,63.4 L515.3,62.6 L516.6,61.9 L517.9,61.4 L519.3,61.2 L520.8,61.2 L522.2,61.5 L523.5,62.0 L524.7,62.8 L525.8,63.8 L526.8,64.9 L527.7,66.0 L528.5,67.3 L529.3,68.6 L530.0,69.9 L530.8,71.2 L531.5,72.5 L532.2,73.8 L532.8,75.2 L533.5,76.5 L534.2,77.8 L534.8,79.2 L535.4,80.6 L536.0,81.9 L536.6,83.3 L537.2,84.7 L537.7,86.1 L538.2,87.5 L538.8,88.9 L539.3,90.3 L539.8,91.8 L540.3,93.2 L540.7,94.6 L541.2,96.0 L541.7,97.4 L542.2,98.9 L542.6,100.3 L543.1,101.7 L543.6,103.1 L544.0,104.6 L544.5,106.0 L544.9,107.4 L545.4,108.9 L545.8,110.3 L546.2,111.7 L546.6,113.2 L547.0,114.6 L547.4,116.1 L547.8,117.5 L548.2,119.0 L548.6,120.4 L549.0,121.9 L549.4,123.3 L549.8,124.8 L550.2,126.2 L550.6,127.7 L551.0,129.1 L551.4,130.6 L551.8,132.0 L552.2,133.4 L552.6,134.9 L553.0,136.3 L553.4,137.8 L553.8,139.2 L554.2,140.6 L554.7,142.1 L555.1,143.5 L555.6,144.9 L556.0,146.4 L556.5,147.8 L556.9,149.2 L557.4,150.7 L557.8,152.1 L558.3,153.5 L558.8,155.0 L559.2,156.4 L559.7,157.8 L560.2,159.2 L560.6,160.7 L561.1,162.1 L561.6,163.5 L562.1,164.9 L562.6,166.3 L563.0,167.7 L563.5,169.2 L564.1,170.6 L564.6,172.0 L565.1,173.4 L565.6,174.8 L566.1,176.2 L566.7,177.6 L567.3,179.0 L567.8,180.4 L568.4,181.8 L569.0,183.1 L569.6,184.5 L570.2,185.9 L570.8,187.3 L571.4,188.7 L572.0,190.0 L572.6,191.4 L573.2,192.8 L573.8,194.1 L574.4,195.5 L575.1,196.8 L575.8,198.2 L576.4,199.5 L577.1,200.9 L577.8,202.2 L578.6,203.5 L579.3,204.8 L580.1,206.0 L581.0,207.3 L581.8,208.5 L582.7,209.7 L583.7,210.9 L584.6,212.1 L585.5,213.3 L586.4,214.4 L587.4,215.6 L588.3,216.7 L589.3,217.9 L590.3,219.0 L591.4,220.0 L592.5,221.1 L593.6,222.1 L594.8,223.0 L596.0,223.8 L597.3,224.6 L598.6,225.2 L600.0,225.8 L601.4,226.3 L602.8,226.8 L604.2,227.3 L605.6,227.8 L607.1,228.3 L608.5,228.7 L609.9,229.2 L611.4,229.6 L612.8,230.0 L614.3,230.3 L615.7,230.7 L617.2,231.0 L618.7,231.3 L620.2,231.5 L621.6,231.7 L623.1,231.9 L624.6,232.1 L626.1,232.2 L627.6,232.3 L629.1,232.5 L630.6,232.6 L632.1,232.7 L633.6,232.9 L635.1,233.0 L636.6,233.1 L638.1,233.2 L639.6,233.4 L641.1,233.5 L642.5,233.6 L644.0,233.7 L645.5,233.8 L647.0,233.9 L648.5,234.0 L650.0,234.1 L651.5,234.2 L653.0,234.3 L654.5,234.4 L656.0,234.4 L657.5,234.5 L659.0,234.6 L660.5,234.7 L662.0,234.7 L663.5,234.8 L665.0,234.9 L666.5,234.9 L668.0,235.0 L669.5,235.1 L671.0,235.1 L672.5,235.2 L674.0,235.3 L675.5,235.4 L677.0,235.4 L678.5,235.5 L680.0,235.6 L681.5,235.6 L683.0,235.7 L684.5,235.8 L686.0,235.8 L687.5,235.9 L689.0,236.0 L690.5,236.0 L692.0,236.1 L693.5,236.1 L695.0,236.2 L696.5,236.2 L698.0,236.3 L699.5,236.3 L701.0,236.4 L702.5,236.4 L704.0,236.5 L705.5,236.5 L706.9,236.5 L708.4,236.6 L709.7,236.6 L710.6,236.6" fill="none" stroke="#68c060" stroke-width="1.45" stroke-linejoin="round" stroke-linecap="round"/><path d="M423.3,175.5 L424.4,174.4 L425.4,173.4 L426.5,172.3 L427.6,171.3 L428.7,170.3 L429.8,169.2 L430.9,168.2 L432.0,167.2 L433.1,166.2 L434.2,165.2 L435.3,164.2 L436.5,163.2 L437.6,162.3 L438.8,161.3 L439.9,160.3 L441.1,159.4 L442.2,158.4 L443.3,157.4 L444.5,156.4 L445.6,155.5 L446.7,154.5 L447.9,153.5 L449.0,152.5 L450.2,151.6 L451.4,150.7 L452.7,149.9 L454.0,149.2 L455.3,148.6 L456.7,148.2 L458.2,147.9 L459.6,147.9 L461.1,148.0 L462.6,148.2 L464.0,148.5 L465.5,148.9 L466.9,149.4 L468.3,149.9 L469.7,150.4 L471.1,151.0 L472.5,151.6 L473.9,152.2 L475.2,152.7 L476.6,153.2 L478.1,153.6 L479.5,153.9 L480.9,153.9 L482.3,153.6 L483.7,153.2 L485.0,152.5 L486.2,151.7 L487.4,150.8 L488.6,149.8 L489.7,148.8 L490.8,147.9 L491.9,146.8 L493.0,145.8 L494.0,144.6 L494.9,143.5 L495.8,142.3 L496.7,141.1 L497.6,139.9 L498.4,138.6 L499.2,137.3 L500.0,136.1 L500.7,134.8 L501.4,133.4 L502.1,132.1 L502.8,130.8 L503.5,129.4 L504.1,128.1 L504.8,126.7 L505.4,125.4 L506.0,124.0 L506.7,122.6 L507.3,121.3 L508.0,119.9 L508.6,118.6 L509.3,117.2 L509.9,115.9 L510.6,114.6 L511.3,113.2 L512.1,111.9 L512.8,110.6 L513.6,109.3 L514.3,108.0 L515.1,106.7 L515.9,105.5 L516.7,104.2 L517.5,102.9 L518.3,101.6 L519.1,100.4 L519.9,99.1 L520.7,97.9 L521.5,96.6 L522.4,95.4 L523.2,94.2 L524.1,92.9 L525.0,91.7 L525.8,90.5 L526.7,89.2 L527.5,88.0 L528.4,86.8 L529.3,85.6 L530.2,84.4 L531.1,83.2 L532.1,82.0 L533.1,80.9 L534.1,79.8 L535.2,78.8 L536.3,77.8 L537.5,76.9 L538.7,76.0 L539.9,75.2 L541.3,74.5 L542.6,73.9 L544.0,73.5 L545.5,73.3 L546.9,73.3 L548.4,73.5 L549.8,73.8 L551.2,74.2 L552.6,74.8 L554.0,75.4 L555.2,76.2 L556.4,77.0 L557.5,78.0 L558.6,79.1 L559.6,80.2 L560.5,81.4 L561.4,82.6 L562.2,83.8 L563.0,85.1 L563.7,86.4 L564.4,87.8 L565.0,89.1 L565.6,90.5 L566.2,91.9 L566.7,93.3 L567.3,94.7 L567.9,96.1 L568.4,97.5 L569.0,98.9 L569.5,100.3 L570.1,101.6 L570.7,103.0 L571.2,104.4 L571.8,105.8 L572.3,107.2 L572.9,108.6 L573.5,110.0 L574.0,111.4 L574.6,112.8 L575.1,114.2 L575.7,115.6 L576.2,117.0 L576.8,118.4 L577.3,119.7 L577.9,121.1 L578.4,122.5 L579.0,123.9 L579.5,125.3 L580.1,126.7 L580.6,128.1 L581.2,129.5 L581.7,130.9 L582.3,132.3 L582.9,133.7 L583.4,135.1 L584.0,136.5 L584.6,137.8 L585.2,139.2 L585.7,140.6 L586.3,142.0 L586.9,143.4 L587.5,144.8 L588.0,146.2 L588.6,147.5 L589.2,148.9 L589.8,150.3 L590.3,151.7 L590.9,153.1 L591.5,154.5 L592.1,155.8 L592.7,157.2 L593.3,158.6 L593.9,160.0 L594.5,161.3 L595.1,162.7 L595.7,164.1 L596.3,165.4 L597.0,166.8 L597.6,168.2 L598.2,169.5 L598.9,170.9 L599.5,172.2 L600.2,173.6 L600.8,174.9 L601.5,176.3 L602.2,177.6 L602.8,179.0 L603.5,180.3 L604.2,181.6 L604.9,183.0 L605.6,184.3 L606.3,185.6 L607.0,186.9 L607.8,188.2 L608.5,189.5 L609.2,190.8 L610.0,192.1 L610.8,193.4 L611.6,194.7 L612.4,195.9 L613.2,197.2 L614.0,198.5 L614.9,199.7 L615.7,201.0 L616.5,202.2 L617.4,203.4 L618.2,204.7 L619.1,205.9 L620.0,207.1 L620.9,208.3 L621.8,209.5 L622.8,210.6 L623.7,211.8 L624.7,212.9 L625.8,214.0 L626.9,215.0 L628.0,216.0 L629.1,217.0 L630.2,218.0 L631.4,219.0 L632.5,219.9 L633.7,220.9 L634.9,221.8 L636.1,222.7 L637.3,223.5 L638.6,224.3 L639.9,225.1 L641.2,225.7 L642.6,226.4 L644.0,226.9 L645.4,227.4 L646.8,227.9 L648.2,228.3 L649.7,228.8 L651.1,229.2 L652.5,229.6 L654.0,230.0 L655.4,230.4 L656.9,230.8 L658.3,231.2 L659.8,231.6 L661.2,231.9 L662.7,232.2 L664.2,232.5 L665.6,232.8 L667.1,233.1 L668.6,233.3 L670.1,233.5 L671.6,233.7 L673.0,233.9 L674.5,234.1 L676.0,234.3 L677.5,234.5 L679.0,234.7 L680.5,234.9 L682.0,235.1 L683.5,235.3 L684.9,235.5 L686.4,235.7 L687.9,235.9 L689.4,236.1 L690.9,236.3 L692.4,236.4 L693.9,236.6 L695.4,236.8 L696.9,236.9 L698.4,237.0 L699.9,237.2 L701.3,237.3 L702.8,237.4 L704.3,237.5 L705.8,237.6 L707.3,237.7 L708.7,237.7 L710.1,237.8 L710.6,237.8" fill="none" stroke="#34347c" stroke-width="1.45" stroke-linejoin="round" stroke-linecap="round"/><path d="M423.3,120.9 L424.8,120.9 L426.3,121.0 L427.8,121.1 L429.3,121.3 L430.8,121.4 L432.2,121.7 L433.7,121.9 L435.2,122.2 L436.6,122.6 L438.1,123.0 L439.5,123.6 L440.8,124.2 L442.2,124.8 L443.5,125.5 L444.9,126.2 L446.2,126.8 L447.6,127.4 L449.0,127.8 L450.4,128.1 L451.9,128.2 L453.3,128.1 L454.7,127.8 L456.1,127.3 L457.5,126.7 L458.8,126.0 L460.1,125.2 L461.3,124.4 L462.4,123.4 L463.4,122.3 L464.4,121.2 L465.3,120.0 L466.2,118.8 L467.0,117.6 L467.9,116.4 L468.9,115.2 L469.9,114.1 L471.0,113.1 L472.2,112.2 L473.4,111.3 L474.6,110.5 L475.9,109.8 L477.3,109.3 L478.7,108.9 L480.1,108.7 L481.5,108.8 L482.9,109.2 L484.2,109.8 L485.4,110.6 L486.5,111.6 L487.5,112.7 L488.4,113.8 L489.2,115.1 L490.0,116.4 L490.7,117.7 L491.3,119.1 L491.9,120.4 L492.5,121.8 L493.1,123.2 L493.7,124.6 L494.3,125.9 L494.8,127.3 L495.4,128.7 L496.0,130.1 L496.5,131.5 L497.1,132.9 L497.6,134.3 L498.1,135.7 L498.6,137.1 L499.2,138.5 L499.6,139.9 L500.1,141.4 L500.6,142.8 L501.1,144.2 L501.6,145.6 L502.0,147.0 L502.5,148.5 L503.0,149.9 L503.4,151.3 L503.9,152.8 L504.3,154.2 L504.8,155.6 L505.2,157.1 L505.6,158.5 L506.0,159.9 L506.4,161.4 L506.8,162.8 L507.3,164.3 L507.7,165.7 L508.1,167.2 L508.5,168.6 L508.9,170.0 L509.3,171.5 L509.7,172.9 L510.1,174.4 L510.6,175.8 L511.0,177.2 L511.5,178.7 L512.0,180.1 L512.5,181.5 L513.0,182.9 L513.5,184.3 L514.0,185.7 L514.5,187.1 L515.1,188.5 L515.6,189.9 L516.2,191.3 L516.7,192.7 L517.3,194.1 L517.9,195.5 L518.6,196.8 L519.2,198.2 L519.9,199.5 L520.6,200.8 L521.4,202.1 L522.1,203.4 L522.9,204.7 L523.7,205.9 L524.6,207.1 L525.5,208.3 L526.6,209.4 L527.7,210.4 L528.8,211.3 L530.1,212.2 L531.3,213.0 L532.5,213.9 L533.8,214.6 L535.1,215.4 L536.4,216.1 L537.8,216.7 L539.2,217.3 L540.6,217.9 L542.0,218.4 L543.4,218.9 L544.8,219.3 L546.2,219.8 L547.7,220.3 L549.1,220.7 L550.5,221.2 L552.0,221.6 L553.4,222.0 L554.9,222.3 L556.3,222.7 L557.8,223.0 L559.3,223.4 L560.7,223.7 L562.2,224.0 L563.6,224.3 L565.1,224.7 L566.6,225.0 L568.0,225.3 L569.5,225.6 L571.0,225.9 L572.5,226.2 L573.9,226.4 L575.4,226.7 L576.9,227.0 L578.4,227.2 L579.8,227.5 L581.3,227.7 L582.8,227.9 L584.3,228.2 L585.8,228.4 L587.3,228.6 L588.7,228.8 L590.2,229.1 L591.7,229.3 L593.2,229.5 L594.7,229.7 L596.2,229.9 L597.7,230.1 L599.1,230.3 L600.6,230.4 L602.1,230.6 L603.6,230.8 L605.1,230.9 L606.6,231.1 L608.1,231.2 L609.6,231.3 L611.1,231.5 L612.6,231.6 L614.1,231.7 L615.6,231.8 L617.1,232.0 L618.6,232.1 L620.0,232.2 L621.5,232.3 L623.0,232.4 L624.5,232.6 L626.0,232.7 L627.5,232.8 L629.0,232.9 L630.5,233.0 L632.0,233.1 L633.5,233.2 L635.0,233.3 L636.5,233.4 L638.0,233.5 L639.5,233.6 L641.0,233.6 L642.5,233.7 L644.0,233.8 L645.5,233.9 L647.0,234.0 L648.5,234.1 L650.0,234.2 L651.5,234.3 L653.0,234.3 L654.5,234.4 L656.0,234.5 L657.5,234.6 L659.0,234.7 L660.5,234.7 L662.0,234.8 L663.5,234.9 L665.0,235.0 L666.5,235.0 L668.0,235.1 L669.5,235.1 L671.0,235.2 L672.5,235.3 L674.0,235.3 L675.5,235.3 L677.0,235.4 L678.5,235.4 L680.0,235.5 L681.5,235.5 L683.0,235.6 L684.4,235.6 L685.9,235.7 L687.4,235.7 L688.9,235.7 L690.4,235.8 L691.9,235.8 L693.4,235.8 L694.9,235.9 L696.4,235.9 L697.9,235.9 L699.4,236.0 L700.9,236.0 L702.4,236.0 L703.9,236.0 L705.4,236.1 L706.9,236.1 L708.3,236.1 L709.7,236.1 L710.6,236.1" fill="none" stroke="#6cc6d8" stroke-width="1.45" stroke-linejoin="round" stroke-linecap="round"/><path d="M423.3,175.0 L424.2,173.8 L425.2,172.7 L426.1,171.5 L426.9,170.2 L427.8,169.0 L428.6,167.7 L429.4,166.5 L430.1,165.2 L430.9,163.9 L431.6,162.6 L432.4,161.3 L433.1,160.0 L433.9,158.7 L434.6,157.4 L435.4,156.1 L436.1,154.8 L436.9,153.5 L437.7,152.2 L438.5,150.9 L439.3,149.7 L440.1,148.4 L440.9,147.1 L441.7,145.8 L442.5,144.6 L443.3,143.3 L444.1,142.0 L444.9,140.8 L445.7,139.5 L446.5,138.2 L447.3,137.0 L448.0,135.7 L448.8,134.4 L449.6,133.1 L450.5,131.9 L451.4,130.7 L452.4,129.6 L453.5,128.6 L454.6,127.7 L455.9,126.9 L457.2,126.2 L458.5,125.5 L459.9,124.9 L461.3,124.3 L462.7,123.8 L464.1,123.3 L465.5,122.9 L467.0,122.6 L468.5,122.4 L469.9,122.1 L471.4,121.8 L472.8,121.4 L474.1,120.8 L475.3,120.0 L476.5,119.0 L477.5,118.0 L478.5,116.8 L479.4,115.7 L480.3,114.5 L481.2,113.3 L482.1,112.1 L482.9,110.8 L483.7,109.6 L484.5,108.3 L485.3,107.0 L486.1,105.7 L486.8,104.4 L487.5,103.1 L488.2,101.8 L488.9,100.5 L489.6,99.1 L490.3,97.8 L491.0,96.5 L491.7,95.1 L492.3,93.8 L493.0,92.4 L493.6,91.0 L494.2,89.7 L494.8,88.3 L495.3,86.9 L495.9,85.5 L496.4,84.1 L496.9,82.7 L497.5,81.3 L498.0,79.9 L498.5,78.5 L499.1,77.1 L499.6,75.7 L500.2,74.3 L500.8,72.9 L501.4,71.6 L502.1,70.2 L502.8,68.9 L503.5,67.6 L504.3,66.3 L505.1,65.0 L505.9,63.8 L506.8,62.6 L507.7,61.4 L508.6,60.3 L509.7,59.3 L510.9,58.4 L512.2,57.7 L513.5,57.1 L515.0,56.8 L516.4,56.6 L517.9,56.6 L519.3,56.8 L520.7,57.3 L522.0,57.9 L523.3,58.7 L524.5,59.5 L525.6,60.5 L526.6,61.6 L527.6,62.7 L528.4,64.0 L529.1,65.3 L529.8,66.6 L530.4,68.0 L531.0,69.4 L531.5,70.7 L532.0,72.2 L532.5,73.6 L533.0,75.0 L533.5,76.4 L534.0,77.8 L534.5,79.2 L535.0,80.7 L535.5,82.1 L536.0,83.5 L536.4,84.9 L536.9,86.3 L537.4,87.8 L537.8,89.2 L538.2,90.6 L538.7,92.1 L539.1,93.5 L539.5,95.0 L539.9,96.4 L540.3,97.8 L540.7,99.3 L541.1,100.7 L541.5,102.2 L541.9,103.6 L542.3,105.1 L542.7,106.5 L543.1,108.0 L543.5,109.4 L543.9,110.9 L544.3,112.3 L544.6,113.8 L545.0,115.2 L545.4,116.7 L545.7,118.1 L546.1,119.6 L546.5,121.0 L546.8,122.5 L547.2,124.0 L547.5,125.4 L547.9,126.9 L548.3,128.3 L548.6,129.8 L549.0,131.2 L549.3,132.7 L549.7,134.2 L550.1,135.6 L550.4,137.1 L550.8,138.5 L551.2,140.0 L551.6,141.4 L552.0,142.9 L552.4,144.3 L552.7,145.8 L553.1,147.2 L553.5,148.7 L553.9,150.1 L554.3,151.5 L554.7,153.0 L555.1,154.4 L555.5,155.9 L555.9,157.3 L556.3,158.8 L556.7,160.2 L557.1,161.7 L557.6,163.1 L558.0,164.5 L558.4,166.0 L558.8,167.4 L559.2,168.9 L559.7,170.3 L560.1,171.7 L560.6,173.2 L561.0,174.6 L561.5,176.0 L561.9,177.4 L562.4,178.9 L562.9,180.3 L563.4,181.7 L563.9,183.1 L564.4,184.5 L564.9,186.0 L565.4,187.4 L565.9,188.8 L566.4,190.2 L566.9,191.6 L567.5,193.0 L568.0,194.4 L568.6,195.8 L569.1,197.2 L569.7,198.6 L570.2,200.0 L570.8,201.3 L571.4,202.7 L572.1,204.1 L572.7,205.4 L573.3,206.8 L574.0,208.1 L574.7,209.4 L575.4,210.8 L576.2,212.1 L576.9,213.4 L577.7,214.7 L578.4,216.0 L579.2,217.3 L580.0,218.5 L580.8,219.8 L581.6,221.1 L582.5,222.3 L583.4,223.4 L584.4,224.6 L585.4,225.6 L586.6,226.5 L587.8,227.4 L589.0,228.3 L590.3,229.1 L591.6,229.8 L592.9,230.6 L594.2,231.3 L595.5,232.0 L596.9,232.7 L598.2,233.3 L599.6,233.9 L601.0,234.5 L602.4,235.0 L603.8,235.4 L605.3,235.7 L606.8,236.0 L608.2,236.2 L609.7,236.5 L611.2,236.7 L612.7,236.9 L614.2,237.0 L615.7,237.2 L617.2,237.4 L618.6,237.6 L620.1,237.8 L621.6,238.0 L623.1,238.2 L624.6,238.3 L626.1,238.5 L627.6,238.6 L629.1,238.8 L630.6,238.9 L632.1,239.0 L633.6,239.2 L635.1,239.2 L636.6,239.3 L638.0,239.4 L639.5,239.5 L641.0,239.5 L642.5,239.6 L644.0,239.6 L645.5,239.6 L647.0,239.7 L648.5,239.7 L650.0,239.8 L651.5,239.8 L653.0,239.8 L654.5,239.9 L656.0,239.9 L657.5,239.9 L659.0,240.0 L660.5,240.0 L662.0,240.0 L663.5,240.1 L665.0,240.1 L666.5,240.1 L668.0,240.2 L669.5,240.2 L671.0,240.2 L672.5,240.3 L674.0,240.3 L675.5,240.3 L677.0,240.3 L678.5,240.4 L680.0,240.4 L681.5,240.4 L683.0,240.4 L684.5,240.4 L686.0,240.4 L687.5,240.4 L689.0,240.4 L690.5,240.4 L692.0,240.4 L693.5,240.4 L695.0,240.4 L696.5,240.4 L698.0,240.4 L699.5,240.4 L701.0,240.4 L702.5,240.4 L704.0,240.3 L705.5,240.3 L707.0,240.3 L708.4,240.3 L709.7,240.2 L710.6,240.2" fill="none" stroke="#a03ca6" stroke-width="1.45" stroke-linejoin="round" stroke-linecap="round"/><path d="M423.3,175.0 L424.4,174.0 L425.4,172.9 L426.4,171.8 L427.4,170.6 L428.3,169.5 L429.2,168.3 L430.1,167.1 L431.0,165.8 L431.8,164.6 L432.6,163.3 L433.5,162.1 L434.3,160.8 L435.1,159.6 L435.9,158.3 L436.7,157.1 L437.6,155.8 L438.5,154.6 L439.3,153.4 L440.2,152.2 L441.1,150.9 L442.0,149.7 L442.9,148.5 L443.8,147.3 L444.7,146.2 L445.6,145.0 L446.6,143.8 L447.6,142.7 L448.6,141.6 L449.6,140.5 L450.6,139.4 L451.7,138.3 L452.8,137.3 L453.9,136.3 L455.0,135.3 L456.1,134.3 L457.3,133.4 L458.5,132.5 L459.7,131.7 L461.0,130.9 L462.4,130.3 L463.8,129.9 L465.2,129.6 L466.7,129.5 L468.2,129.4 L469.7,129.4 L471.2,129.3 L472.6,129.1 L474.0,128.7 L475.4,128.1 L476.6,127.4 L477.8,126.5 L478.8,125.4 L479.8,124.3 L480.7,123.2 L481.6,121.9 L482.5,120.7 L483.3,119.5 L484.1,118.2 L484.9,116.9 L485.7,115.6 L486.4,114.3 L487.2,113.0 L487.9,111.7 L488.6,110.4 L489.2,109.0 L489.9,107.7 L490.5,106.3 L491.1,104.9 L491.7,103.6 L492.2,102.2 L492.8,100.8 L493.4,99.4 L494.0,98.0 L494.6,96.6 L495.2,95.3 L495.8,93.9 L496.4,92.5 L497.0,91.2 L497.7,89.8 L498.3,88.5 L499.0,87.1 L499.6,85.8 L500.3,84.4 L501.0,83.1 L501.7,81.8 L502.5,80.5 L503.3,79.3 L504.2,78.1 L505.3,77.1 L506.4,76.2 L507.7,75.4 L509.0,74.7 L510.4,74.2 L511.8,73.9 L513.3,73.8 L514.7,73.9 L516.2,74.2 L517.6,74.6 L519.0,75.2 L520.3,75.8 L521.6,76.6 L522.7,77.5 L523.8,78.5 L524.9,79.6 L525.8,80.7 L526.7,81.9 L527.6,83.2 L528.4,84.4 L529.2,85.7 L529.9,87.0 L530.7,88.3 L531.5,89.6 L532.2,90.9 L532.9,92.2 L533.6,93.5 L534.3,94.8 L535.0,96.2 L535.6,97.5 L536.2,98.9 L536.8,100.3 L537.4,101.7 L537.9,103.1 L538.5,104.5 L539.0,105.9 L539.5,107.3 L540.0,108.7 L540.5,110.1 L540.9,111.5 L541.4,113.0 L541.9,114.4 L542.3,115.8 L542.8,117.2 L543.3,118.7 L543.7,120.1 L544.1,121.5 L544.6,123.0 L545.0,124.4 L545.4,125.9 L545.8,127.3 L546.2,128.8 L546.5,130.2 L546.9,131.7 L547.3,133.1 L547.7,134.6 L548.0,136.0 L548.4,137.5 L548.8,138.9 L549.2,140.4 L549.6,141.8 L550.0,143.2 L550.5,144.7 L550.9,146.1 L551.3,147.6 L551.8,149.0 L552.2,150.4 L552.7,151.9 L553.1,153.3 L553.6,154.7 L554.1,156.1 L554.5,157.6 L555.0,159.0 L555.5,160.4 L555.9,161.8 L556.4,163.3 L556.9,164.7 L557.4,166.1 L557.9,167.5 L558.4,168.9 L558.8,170.4 L559.3,171.8 L559.8,173.2 L560.3,174.6 L560.8,176.0 L561.3,177.4 L561.9,178.8 L562.4,180.2 L562.9,181.7 L563.4,183.1 L563.9,184.5 L564.4,185.9 L564.9,187.3 L565.4,188.7 L565.9,190.1 L566.4,191.5 L566.9,193.0 L567.4,194.4 L568.0,195.8 L568.5,197.2 L569.0,198.6 L569.6,200.0 L570.2,201.4 L570.7,202.7 L571.3,204.1 L572.0,205.5 L572.6,206.8 L573.3,208.2 L574.0,209.5 L574.7,210.8 L575.4,212.2 L576.1,213.5 L576.8,214.8 L577.6,216.1 L578.4,217.3 L579.2,218.6 L580.1,219.8 L581.0,220.9 L582.0,222.0 L583.1,223.1 L584.2,224.1 L585.4,225.0 L586.6,225.9 L587.8,226.8 L589.1,227.6 L590.3,228.5 L591.5,229.3 L592.8,230.1 L594.1,230.9 L595.4,231.6 L596.7,232.3 L598.1,232.9 L599.5,233.4 L600.9,233.8 L602.4,234.2 L603.8,234.5 L605.3,234.7 L606.8,234.9 L608.3,235.1 L609.8,235.2 L611.3,235.4 L612.8,235.6 L614.3,235.7 L615.8,235.9 L617.2,236.1 L618.7,236.2 L620.2,236.4 L621.7,236.5 L623.2,236.7 L624.7,236.8 L626.2,236.9 L627.7,237.1 L629.2,237.2 L630.7,237.3 L632.2,237.4 L633.7,237.5 L635.2,237.6 L636.7,237.6 L638.2,237.7 L639.7,237.8 L641.2,237.8 L642.7,237.9 L644.2,237.9 L645.7,238.0 L647.2,238.0 L648.7,238.1 L650.2,238.1 L651.7,238.2 L653.2,238.2 L654.7,238.3 L656.2,238.3 L657.7,238.4 L659.2,238.4 L660.7,238.5 L662.2,238.5 L663.7,238.6 L665.2,238.6 L666.7,238.7 L668.2,238.7 L669.7,238.8 L671.2,238.8 L672.7,238.9 L674.2,238.9 L675.7,239.0 L677.2,239.0 L678.7,239.1 L680.2,239.1 L681.7,239.1 L683.2,239.2 L684.7,239.2 L686.2,239.3 L687.7,239.3 L689.2,239.3 L690.7,239.4 L692.2,239.4 L693.7,239.4 L695.2,239.4 L696.7,239.4 L698.2,239.5 L699.7,239.5 L701.2,239.5 L702.7,239.5 L704.2,239.5 L705.6,239.5 L707.1,239.5 L708.6,239.5 L710.1,239.5 L710.6,239.5" fill="none" stroke="#e6de68" stroke-width="1.45" stroke-linejoin="round" stroke-linecap="round"/><path d="M422.5,24.4 V240.0 H711.5" fill="none" stroke="#383838" stroke-width="1.3"/><path d="M418.0,240.0 h4.5 M420.0,218.5 h2.5 M418.0,197.0 h4.5 M420.0,175.5 h2.5 M418.0,154.0 h4.5 M420.0,132.5 h2.5 M418.0,111.0 h4.5 M420.0,89.5 h2.5 M418.0,68.0 h4.5 M420.0,46.5 h2.5 M418.0,25.0 h4.5 M436.1,240.0 v4.5 M504.8,240.0 v2.5 M573.5,240.0 v4.5 M642.2,240.0 v2.5 M710.9,240.0 v4.5" stroke="#383838" stroke-width="1.2" fill="none"/><text x="416.2" y="243.1" font-size="8.5" fill="#222" stroke="#222" stroke-width="0.15" text-anchor="end">0,0</text><text x="416.2" y="200.1" font-size="8.5" fill="#222" stroke="#222" stroke-width="0.15" text-anchor="end">0,2</text><text x="416.2" y="157.1" font-size="8.5" fill="#222" stroke="#222" stroke-width="0.15" text-anchor="end">0,4</text><text x="416.2" y="114.1" font-size="8.5" fill="#222" stroke="#222" stroke-width="0.15" text-anchor="end">0,6</text><text x="416.2" y="71.1" font-size="8.5" fill="#222" stroke="#222" stroke-width="0.15" text-anchor="end">0,8</text><text x="416.2" y="28.1" font-size="8.5" fill="#222" stroke="#222" stroke-width="0.15" text-anchor="end">1,0</text><text x="436.1" y="253.6" font-size="8.5" fill="#222" stroke="#222" stroke-width="0.15" text-anchor="middle">300</text><text x="573.5" y="253.6" font-size="8.5" fill="#222" stroke="#222" stroke-width="0.15" text-anchor="middle">400</text><text x="710.9" y="253.6" font-size="8.5" fill="#222" stroke="#222" stroke-width="0.15" text-anchor="middle">500</text><text x="566.9" y="270.3" font-size="10.4" fill="#1a1a1a" stroke="#1a1a1a" stroke-width="0.15" text-anchor="middle">Wavelength (nm)</text><text transform="translate(388.6,133.5) rotate(-90)" font-size="10.2" fill="#1a1a1a" stroke="#1a1a1a" stroke-width="0.15" text-anchor="middle">Absorbance</text></g>
<g><path d="M48.3,496.9 L49.7,497.3 L51.2,497.7 L52.6,498.1 L54.1,498.3 L55.6,498.4 L57.1,498.4 L58.5,498.2 L60.0,497.9 L61.4,497.5 L62.8,496.9 L64.2,496.4 L65.5,495.7 L66.8,495.0 L68.1,494.2 L69.3,493.4 L70.5,492.4 L71.7,491.5 L72.8,490.5 L73.9,489.5 L75.0,488.4 L76.1,487.4 L77.2,486.4 L78.2,485.3 L79.3,484.3 L80.4,483.2 L81.4,482.1 L82.4,481.0 L83.5,479.9 L84.5,478.8 L85.5,477.7 L86.5,476.6 L87.5,475.5 L88.6,474.5 L89.6,473.4 L90.7,472.4 L91.9,471.4 L93.1,470.5 L94.3,469.7 L95.6,468.9 L96.8,468.1 L98.1,467.4 L99.5,466.7 L100.8,466.0 L102.2,465.4 L103.5,464.8 L104.9,464.2 L106.3,463.6 L107.7,463.1 L109.2,462.6 L110.6,462.1 L112.0,461.7 L113.4,461.2 L114.9,460.8 L116.3,460.3 L117.7,459.9 L119.2,459.5 L120.6,459.0 L122.0,458.5 L123.3,457.9 L124.6,457.2 L125.9,456.4 L127.1,455.5 L128.2,454.5 L129.3,453.4 L130.3,452.4 L131.4,451.3 L132.4,450.2 L133.4,449.1 L134.4,447.9 L135.4,446.8 L136.4,445.7 L137.4,444.6 L138.4,443.6 L139.5,442.5 L140.5,441.4 L141.5,440.3 L142.5,439.2 L143.6,438.1 L144.6,437.0 L145.7,435.9 L146.8,434.9 L147.9,434.0 L149.2,433.2 L150.5,432.5 L151.9,431.9 L153.3,431.5 L154.7,431.2 L156.2,431.0 L157.7,430.9 L159.2,430.9 L160.6,431.1 L162.1,431.3 L163.5,431.7 L165.0,432.1 L166.4,432.7 L167.7,433.2 L169.1,433.9 L170.4,434.7 L171.6,435.5 L172.8,436.4 L173.9,437.4 L175.0,438.4 L176.1,439.5 L177.1,440.6 L178.0,441.7 L179.0,442.9 L179.9,444.1 L180.8,445.3 L181.7,446.5 L182.6,447.7 L183.4,448.9 L184.2,450.2 L185.1,451.4 L185.9,452.7 L186.7,453.9 L187.5,455.2 L188.3,456.5 L189.1,457.7 L189.9,459.0 L190.7,460.3 L191.5,461.6 L192.3,462.8 L193.1,464.1 L193.9,465.4 L194.6,466.7 L195.4,468.0 L196.2,469.3 L196.9,470.6 L197.7,471.9 L198.4,473.2 L199.1,474.5 L199.9,475.8 L200.6,477.1 L201.3,478.4 L202.1,479.7 L202.8,481.0 L203.6,482.3 L204.3,483.6 L205.1,484.9 L205.8,486.2 L206.6,487.5 L207.4,488.8 L208.2,490.0 L208.9,491.3 L209.7,492.6 L210.5,493.9 L211.3,495.1 L212.1,496.4 L212.9,497.7 L213.7,499.0 L214.5,500.2 L215.3,501.5 L216.1,502.7 L216.9,504.0 L217.8,505.3 L218.6,506.5 L219.4,507.8 L220.2,509.0 L221.0,510.3 L221.9,511.5 L222.7,512.8 L223.5,514.0 L224.4,515.3 L225.2,516.5 L226.1,517.8 L226.9,519.0 L227.8,520.2 L228.7,521.4 L229.6,522.6 L230.5,523.8 L231.5,524.9 L232.4,526.1 L233.4,527.3 L234.3,528.4 L235.3,529.6 L236.3,530.7 L237.3,531.8 L238.3,532.9 L239.4,533.9 L240.5,534.9 L241.7,535.9 L242.9,536.8 L244.1,537.7 L245.3,538.5 L246.5,539.4 L247.8,540.2 L249.1,541.0 L250.3,541.8 L251.6,542.6 L252.9,543.3 L254.2,544.0 L255.6,544.7 L256.9,545.3 L258.3,545.9 L259.7,546.5 L261.1,547.0 L262.5,547.4 L264.0,547.8 L265.4,548.2 L266.9,548.5 L268.4,548.9 L269.8,549.2 L271.3,549.6 L272.7,549.9 L274.2,550.3 L275.7,550.6 L277.1,550.9 L278.6,551.2 L280.1,551.5 L281.5,551.8 L283.0,552.1 L284.5,552.3 L286.0,552.6 L287.4,552.8 L288.9,553.0 L290.4,553.2 L291.9,553.4 L293.4,553.5 L294.9,553.7 L296.4,553.9 L297.9,554.0 L299.4,554.2 L300.9,554.3 L302.4,554.5 L303.8,554.6 L305.3,554.8 L306.8,554.9 L308.3,555.1 L309.8,555.2 L311.3,555.4 L312.8,555.5 L314.3,555.7 L315.8,555.8 L317.3,555.9 L318.8,556.1 L320.3,556.2 L321.8,556.3 L323.3,556.4 L324.8,556.5 L326.3,556.6 L327.8,556.7 L329.3,556.7 L330.7,556.8 L332.2,556.9 L333.7,556.9 L335.2,557.0 L336.6,557.0 L336.6,557.0" fill="none" stroke="#222222" stroke-width="1.45" stroke-linejoin="round" stroke-linecap="round"/><path d="M48.3,484.3 L49.7,483.8 L51.1,483.2 L52.4,482.5 L53.7,481.8 L55.0,481.0 L56.2,480.1 L57.4,479.2 L58.5,478.3 L59.6,477.3 L60.7,476.2 L61.7,475.1 L62.7,474.0 L63.7,472.9 L64.7,471.7 L65.6,470.5 L66.5,469.4 L67.5,468.2 L68.5,467.1 L69.4,465.9 L70.5,464.8 L71.5,463.8 L72.6,462.7 L73.7,461.7 L74.8,460.6 L75.9,459.6 L77.0,458.6 L78.1,457.6 L79.2,456.7 L80.4,455.7 L81.6,454.8 L82.9,454.0 L84.2,453.3 L85.5,452.7 L86.9,452.3 L88.3,452.2 L89.7,452.3 L91.0,452.8 L92.3,453.5 L93.5,454.3 L94.6,455.3 L95.8,456.3 L96.9,457.3 L98.0,458.2 L99.2,459.0 L100.5,459.6 L101.8,459.9 L103.1,459.8 L104.4,459.4 L105.6,458.6 L106.7,457.7 L107.7,456.6 L108.6,455.4 L109.5,454.2 L110.4,453.0 L111.2,451.7 L111.9,450.4 L112.6,449.1 L113.2,447.7 L113.9,446.4 L114.5,445.0 L115.0,443.6 L115.6,442.2 L116.2,440.8 L116.8,439.5 L117.3,438.1 L117.9,436.7 L118.5,435.3 L119.0,433.9 L119.6,432.5 L120.2,431.1 L120.7,429.7 L121.3,428.4 L121.9,427.0 L122.5,425.6 L123.0,424.2 L123.6,422.8 L124.2,421.4 L124.8,420.0 L125.4,418.7 L125.9,417.3 L126.5,415.9 L127.1,414.5 L127.7,413.1 L128.3,411.8 L128.9,410.4 L129.5,409.0 L130.1,407.6 L130.7,406.3 L131.3,404.9 L132.0,403.5 L132.6,402.2 L133.3,400.8 L133.9,399.5 L134.6,398.1 L135.2,396.8 L135.9,395.5 L136.6,394.1 L137.3,392.8 L138.0,391.5 L138.7,390.2 L139.5,388.9 L140.3,387.6 L141.1,386.4 L142.1,385.2 L143.1,384.1 L144.1,383.1 L145.3,382.2 L146.6,381.6 L147.9,381.2 L149.3,381.2 L150.7,381.4 L152.1,381.9 L153.5,382.5 L154.7,383.2 L155.9,384.1 L157.0,385.0 L158.1,386.1 L159.0,387.3 L159.9,388.5 L160.7,389.8 L161.4,391.0 L162.2,392.3 L162.9,393.7 L163.6,395.0 L164.3,396.3 L165.0,397.7 L165.6,399.0 L166.3,400.4 L166.8,401.7 L167.4,403.1 L167.9,404.5 L168.4,406.0 L168.9,407.4 L169.3,408.8 L169.8,410.2 L170.2,411.7 L170.6,413.1 L171.1,414.6 L171.5,416.0 L171.9,417.5 L172.2,418.9 L172.6,420.4 L173.0,421.8 L173.4,423.3 L173.8,424.7 L174.1,426.2 L174.5,427.6 L174.9,429.1 L175.2,430.5 L175.6,432.0 L175.9,433.5 L176.2,434.9 L176.5,436.4 L176.8,437.9 L177.1,439.3 L177.4,440.8 L177.7,442.3 L178.0,443.7 L178.2,445.2 L178.5,446.7 L178.8,448.2 L179.1,449.6 L179.3,451.1 L179.6,452.6 L179.9,454.1 L180.2,455.5 L180.5,457.0 L180.8,458.5 L181.1,459.9 L181.4,461.4 L181.7,462.9 L182.0,464.3 L182.4,465.8 L182.7,467.3 L183.0,468.7 L183.4,470.2 L183.7,471.7 L184.0,473.1 L184.4,474.6 L184.7,476.0 L185.1,477.5 L185.4,479.0 L185.8,480.4 L186.1,481.9 L186.5,483.3 L186.9,484.8 L187.2,486.2 L187.6,487.7 L188.0,489.1 L188.4,490.6 L188.8,492.0 L189.2,493.5 L189.6,494.9 L190.0,496.4 L190.4,497.8 L190.7,499.3 L191.1,500.7 L191.5,502.2 L191.9,503.6 L192.3,505.1 L192.7,506.5 L193.1,508.0 L193.5,509.4 L193.9,510.9 L194.2,512.3 L194.6,513.8 L195.1,515.2 L195.5,516.6 L195.9,518.1 L196.3,519.5 L196.8,520.9 L197.3,522.3 L197.8,523.7 L198.4,525.1 L199.1,526.5 L199.8,527.8 L200.6,529.0 L201.5,530.2 L202.4,531.4 L203.4,532.5 L204.4,533.6 L205.5,534.7 L206.6,535.7 L207.7,536.7 L208.9,537.6 L210.1,538.4 L211.4,539.2 L212.7,539.8 L214.1,540.4 L215.5,541.0 L216.9,541.5 L218.3,542.0 L219.8,542.5 L221.2,543.0 L222.6,543.4 L224.0,543.9 L225.5,544.3 L226.9,544.8 L228.3,545.2 L229.8,545.5 L231.3,545.9 L232.7,546.2 L234.2,546.4 L235.7,546.7 L237.2,546.9 L238.6,547.1 L240.1,547.4 L241.6,547.6 L243.1,547.8 L244.6,548.0 L246.1,548.3 L247.5,548.5 L249.0,548.7 L250.5,548.9 L252.0,549.1 L253.5,549.3 L255.0,549.6 L256.4,549.8 L257.9,549.9 L259.4,550.1 L260.9,550.3 L262.4,550.5 L263.9,550.7 L265.4,550.8 L266.9,551.0 L268.4,551.1 L269.9,551.3 L271.4,551.4 L272.9,551.5 L274.3,551.6 L275.8,551.8 L277.3,551.9 L278.8,552.0 L280.3,552.1 L281.8,552.2 L283.3,552.3 L284.8,552.5 L286.3,552.6 L287.8,552.7 L289.3,552.8 L290.8,552.9 L292.3,553.0 L293.8,553.2 L295.3,553.3 L296.8,553.4 L298.3,553.5 L299.8,553.6 L301.3,553.7 L302.8,553.8 L304.3,553.9 L305.8,554.0 L307.3,554.1 L308.7,554.2 L310.2,554.3 L311.7,554.4 L313.2,554.5 L314.7,554.6 L316.2,554.7 L317.7,554.8 L319.2,554.8 L320.7,554.9 L322.2,555.0 L323.7,555.1 L325.2,555.1 L326.7,555.2 L328.2,555.2 L329.7,555.3 L331.2,555.4 L332.7,555.4 L334.2,555.4 L335.6,555.5 L336.6,555.5" fill="none" stroke="#b03a48" stroke-width="1.45" stroke-linejoin="round" stroke-linecap="round"/><path d="M48.3,495.2 L49.2,494.0 L50.0,492.8 L50.9,491.5 L51.8,490.3 L52.7,489.1 L53.6,487.9 L54.5,486.7 L55.4,485.5 L56.3,484.4 L57.3,483.2 L58.2,482.0 L59.2,480.9 L60.2,479.7 L61.1,478.6 L62.1,477.5 L63.1,476.3 L64.1,475.2 L65.1,474.1 L66.1,473.0 L67.1,471.9 L68.1,470.8 L69.1,469.7 L70.2,468.6 L71.2,467.5 L72.2,466.4 L73.2,465.2 L74.2,464.1 L75.2,463.0 L76.2,461.9 L77.2,460.8 L78.2,459.7 L79.2,458.5 L80.3,457.5 L81.3,456.4 L82.4,455.3 L83.5,454.3 L84.6,453.4 L85.9,452.5 L87.1,451.8 L88.5,451.1 L89.8,450.6 L91.3,450.3 L92.7,450.0 L94.2,449.7 L95.7,449.5 L97.2,449.2 L98.6,448.8 L100.0,448.3 L101.3,447.6 L102.6,446.9 L103.8,446.0 L105.0,445.1 L106.1,444.1 L107.2,443.1 L108.3,442.0 L109.3,440.9 L110.3,439.8 L111.2,438.6 L112.1,437.4 L112.9,436.2 L113.8,434.9 L114.5,433.7 L115.3,432.4 L116.1,431.1 L116.8,429.8 L117.5,428.5 L118.3,427.2 L119.0,425.8 L119.7,424.5 L120.4,423.2 L121.2,421.9 L121.9,420.6 L122.6,419.3 L123.3,417.9 L123.9,416.6 L124.6,415.2 L125.3,413.9 L126.0,412.6 L126.6,411.2 L127.3,409.9 L128.0,408.5 L128.6,407.2 L129.3,405.9 L130.0,404.5 L130.8,403.2 L131.5,401.9 L132.3,400.6 L133.0,399.3 L133.8,398.1 L134.7,396.8 L135.5,395.6 L136.4,394.4 L137.2,393.1 L138.1,391.9 L139.1,390.8 L140.1,389.7 L141.2,388.7 L142.4,387.9 L143.6,387.3 L145.0,387.0 L146.3,387.1 L147.7,387.5 L148.9,388.1 L150.1,389.0 L151.2,390.0 L152.2,391.1 L153.2,392.2 L154.1,393.4 L155.0,394.6 L155.8,395.8 L156.7,397.1 L157.5,398.3 L158.3,399.6 L159.2,400.8 L159.9,402.1 L160.7,403.4 L161.5,404.7 L162.2,406.0 L162.9,407.3 L163.6,408.7 L164.3,410.0 L164.9,411.3 L165.6,412.7 L166.2,414.1 L166.8,415.4 L167.4,416.8 L168.0,418.2 L168.6,419.6 L169.2,421.0 L169.7,422.4 L170.3,423.8 L170.8,425.2 L171.3,426.6 L171.8,428.0 L172.3,429.4 L172.8,430.8 L173.3,432.2 L173.7,433.6 L174.2,435.1 L174.6,436.5 L175.0,438.0 L175.4,439.4 L175.7,440.9 L176.1,442.3 L176.5,443.8 L176.8,445.2 L177.2,446.7 L177.5,448.2 L177.8,449.6 L178.2,451.1 L178.5,452.5 L178.9,454.0 L179.2,455.5 L179.5,456.9 L179.9,458.4 L180.2,459.8 L180.6,461.3 L181.0,462.8 L181.3,464.2 L181.7,465.7 L182.1,467.1 L182.5,468.6 L182.9,470.0 L183.3,471.4 L183.8,472.9 L184.2,474.3 L184.6,475.7 L185.1,477.2 L185.6,478.6 L186.0,480.0 L186.5,481.4 L187.0,482.9 L187.5,484.3 L188.0,485.7 L188.5,487.1 L189.0,488.5 L189.5,489.9 L190.0,491.3 L190.6,492.7 L191.1,494.1 L191.6,495.5 L192.2,496.9 L192.7,498.3 L193.3,499.7 L193.9,501.1 L194.4,502.5 L195.0,503.9 L195.6,505.3 L196.1,506.7 L196.7,508.1 L197.2,509.5 L197.8,510.9 L198.4,512.2 L198.9,513.6 L199.5,515.0 L200.1,516.4 L200.7,517.8 L201.3,519.1 L201.9,520.5 L202.6,521.8 L203.3,523.2 L204.0,524.5 L204.8,525.7 L205.7,527.0 L206.6,528.1 L207.6,529.3 L208.6,530.4 L209.7,531.4 L210.7,532.5 L211.8,533.5 L213.0,534.4 L214.1,535.4 L215.3,536.3 L216.5,537.2 L217.7,538.1 L219.0,538.9 L220.3,539.7 L221.6,540.4 L222.9,541.1 L224.3,541.7 L225.7,542.2 L227.1,542.7 L228.5,543.2 L229.9,543.6 L231.4,544.1 L232.8,544.6 L234.2,545.0 L235.7,545.5 L237.1,545.9 L238.5,546.3 L240.0,546.8 L241.4,547.2 L242.9,547.5 L244.3,547.9 L245.8,548.2 L247.3,548.5 L248.7,548.8 L250.2,549.1 L251.7,549.3 L253.2,549.5 L254.7,549.7 L256.1,549.9 L257.6,550.1 L259.1,550.3 L260.6,550.4 L262.1,550.6 L263.6,550.8 L265.1,551.0 L266.6,551.2 L268.1,551.4 L269.5,551.5 L271.0,551.7 L272.5,551.9 L274.0,552.0 L275.5,552.2 L277.0,552.3 L278.5,552.5 L280.0,552.6 L281.5,552.8 L283.0,552.9 L284.5,553.0 L286.0,553.1 L287.5,553.2 L289.0,553.3 L290.5,553.4 L292.0,553.4 L293.5,553.5 L295.0,553.6 L296.5,553.6 L298.0,553.7 L299.5,553.8 L301.0,553.8 L302.4,553.9 L303.9,553.9 L305.4,554.0 L306.9,554.0 L308.4,554.1 L309.9,554.1 L311.4,554.2 L312.9,554.2 L314.4,554.3 L315.9,554.3 L317.4,554.3 L318.9,554.4 L320.4,554.4 L321.9,554.4 L323.4,554.5 L324.9,554.5 L326.4,554.5 L327.9,554.5 L329.4,554.5 L330.9,554.5 L332.4,554.5 L333.9,554.5 L335.3,554.5 L336.6,554.5 L336.6,554.5" fill="none" stroke="#68c060" stroke-width="1.45" stroke-linejoin="round" stroke-linecap="round"/><path d="M48.3,488.5 L49.8,488.2 L51.2,487.9 L52.7,487.5 L54.1,487.1 L55.5,486.5 L56.8,485.9 L58.1,485.2 L59.4,484.4 L60.6,483.5 L61.8,482.6 L62.9,481.6 L64.0,480.6 L65.1,479.6 L66.2,478.6 L67.3,477.6 L68.5,476.6 L69.6,475.6 L70.8,474.7 L72.0,473.8 L73.2,472.9 L74.4,472.0 L75.6,471.1 L76.8,470.3 L78.1,469.4 L79.3,468.6 L80.7,467.9 L82.0,467.3 L83.4,466.8 L84.8,466.5 L86.3,466.3 L87.7,466.4 L89.2,466.6 L90.6,466.9 L92.1,467.4 L93.5,467.9 L94.9,468.4 L96.3,469.0 L97.6,469.6 L99.0,470.1 L100.4,470.7 L101.8,471.1 L103.2,471.4 L104.7,471.5 L106.1,471.4 L107.6,471.0 L108.9,470.5 L110.3,469.8 L111.6,469.1 L112.9,468.4 L114.2,467.6 L115.4,466.8 L116.7,466.0 L117.9,465.1 L119.1,464.2 L120.3,463.3 L121.4,462.3 L122.5,461.3 L123.6,460.2 L124.6,459.2 L125.7,458.1 L126.7,457.0 L127.7,455.9 L128.6,454.7 L129.6,453.5 L130.5,452.4 L131.4,451.1 L132.3,449.9 L133.1,448.7 L134.0,447.5 L134.8,446.2 L135.7,445.0 L136.5,443.8 L137.4,442.5 L138.2,441.3 L139.1,440.1 L140.0,438.9 L140.9,437.6 L141.7,436.4 L142.6,435.2 L143.5,434.0 L144.4,432.8 L145.3,431.6 L146.1,430.4 L147.0,429.2 L147.9,427.9 L148.8,426.7 L149.7,425.5 L150.5,424.3 L151.4,423.1 L152.3,421.8 L153.1,420.6 L153.9,419.3 L154.8,418.1 L155.6,416.9 L156.5,415.7 L157.5,414.5 L158.5,413.4 L159.5,412.3 L160.6,411.4 L161.8,410.5 L163.1,409.6 L164.4,408.9 L165.7,408.2 L167.1,407.7 L168.5,407.2 L169.9,407.0 L171.4,406.8 L172.9,406.9 L174.3,407.1 L175.8,407.4 L177.1,407.9 L178.5,408.6 L179.7,409.4 L180.8,410.4 L181.9,411.4 L183.0,412.4 L184.0,413.5 L185.0,414.7 L186.0,415.8 L186.9,416.9 L187.9,418.1 L188.8,419.3 L189.6,420.6 L190.4,421.8 L191.2,423.1 L192.0,424.4 L192.8,425.7 L193.5,427.0 L194.2,428.3 L195.0,429.6 L195.7,430.9 L196.4,432.2 L197.1,433.6 L197.7,434.9 L198.4,436.2 L199.1,437.6 L199.7,439.0 L200.3,440.3 L201.0,441.7 L201.6,443.0 L202.2,444.4 L202.8,445.8 L203.5,447.1 L204.1,448.5 L204.7,449.9 L205.3,451.2 L205.9,452.6 L206.5,454.0 L207.1,455.3 L207.7,456.7 L208.4,458.1 L209.0,459.5 L209.6,460.8 L210.2,462.2 L210.8,463.6 L211.4,464.9 L212.0,466.3 L212.6,467.7 L213.2,469.1 L213.8,470.4 L214.4,471.8 L215.0,473.2 L215.6,474.6 L216.2,475.9 L216.8,477.3 L217.4,478.7 L218.0,480.1 L218.6,481.5 L219.2,482.8 L219.8,484.2 L220.4,485.6 L221.0,487.0 L221.5,488.3 L222.1,489.7 L222.7,491.1 L223.3,492.5 L223.9,493.9 L224.5,495.2 L225.1,496.6 L225.7,498.0 L226.3,499.4 L226.9,500.7 L227.5,502.1 L228.2,503.4 L228.8,504.8 L229.5,506.1 L230.2,507.4 L231.0,508.7 L231.7,510.0 L232.5,511.3 L233.3,512.6 L234.1,513.9 L234.9,515.1 L235.7,516.4 L236.6,517.6 L237.5,518.8 L238.4,520.0 L239.3,521.2 L240.3,522.3 L241.3,523.5 L242.2,524.6 L243.2,525.7 L244.2,526.9 L245.2,528.0 L246.2,529.1 L247.2,530.2 L248.2,531.3 L249.3,532.4 L250.4,533.4 L251.5,534.4 L252.6,535.4 L253.8,536.3 L255.0,537.2 L256.2,538.1 L257.5,538.9 L258.8,539.6 L260.1,540.4 L261.4,541.1 L262.7,541.8 L264.0,542.5 L265.4,543.2 L266.7,543.8 L268.1,544.5 L269.5,545.1 L270.8,545.7 L272.2,546.2 L273.6,546.8 L275.0,547.3 L276.5,547.7 L277.9,548.1 L279.3,548.5 L280.8,548.9 L282.3,549.3 L283.7,549.7 L285.2,550.0 L286.6,550.4 L288.1,550.7 L289.5,551.1 L291.0,551.4 L292.5,551.7 L293.9,552.0 L295.4,552.3 L296.9,552.6 L298.4,552.8 L299.8,553.0 L301.3,553.3 L302.8,553.4 L304.3,553.6 L305.8,553.8 L307.3,554.0 L308.8,554.2 L310.3,554.3 L311.8,554.5 L313.2,554.7 L314.7,554.8 L316.2,555.0 L317.7,555.2 L319.2,555.3 L320.7,555.5 L322.2,555.6 L323.7,555.7 L325.2,555.9 L326.7,556.0 L328.2,556.1 L329.7,556.2 L331.2,556.3 L332.7,556.3 L334.1,556.4 L335.6,556.5 L336.6,556.5" fill="none" stroke="#34347c" stroke-width="1.45" stroke-linejoin="round" stroke-linecap="round"/><path d="M48.3,442.6 L49.8,442.7 L51.3,442.7 L52.8,442.9 L54.3,443.0 L55.8,443.2 L57.2,443.5 L58.7,443.7 L60.2,444.1 L61.6,444.4 L63.0,444.9 L64.4,445.5 L65.7,446.1 L67.0,446.9 L68.3,447.6 L69.6,448.4 L70.9,449.1 L72.2,449.8 L73.6,450.3 L75.0,450.7 L76.5,450.8 L77.9,450.7 L79.3,450.3 L80.7,449.8 L82.0,449.1 L83.2,448.3 L84.4,447.4 L85.6,446.5 L86.8,445.6 L88.0,444.7 L89.2,443.8 L90.4,442.9 L91.6,442.0 L92.8,441.1 L94.0,440.2 L95.2,439.3 L96.4,438.4 L97.6,437.5 L98.8,436.6 L100.0,435.8 L101.3,434.9 L102.6,434.2 L103.9,433.5 L105.2,433.1 L106.6,433.0 L107.9,433.2 L109.2,433.7 L110.5,434.5 L111.6,435.4 L112.7,436.4 L113.7,437.5 L114.6,438.7 L115.5,439.9 L116.2,441.2 L116.9,442.5 L117.6,443.9 L118.2,445.2 L118.8,446.6 L119.4,448.0 L120.0,449.4 L120.6,450.8 L121.2,452.1 L121.7,453.5 L122.2,454.9 L122.7,456.4 L123.2,457.8 L123.7,459.2 L124.2,460.6 L124.7,462.0 L125.1,463.5 L125.6,464.9 L126.0,466.3 L126.5,467.8 L126.9,469.2 L127.4,470.6 L127.8,472.1 L128.3,473.5 L128.7,474.9 L129.2,476.3 L129.7,477.8 L130.2,479.2 L130.6,480.6 L131.1,482.0 L131.6,483.4 L132.1,484.8 L132.6,486.3 L133.1,487.7 L133.6,489.1 L134.1,490.5 L134.6,491.9 L135.1,493.3 L135.6,494.8 L136.1,496.2 L136.6,497.6 L137.1,499.0 L137.7,500.4 L138.2,501.8 L138.8,503.1 L139.4,504.5 L140.1,505.9 L140.7,507.2 L141.4,508.6 L142.0,509.9 L142.7,511.3 L143.4,512.6 L144.1,513.9 L144.8,515.3 L145.5,516.6 L146.2,517.9 L146.9,519.2 L147.6,520.5 L148.4,521.8 L149.2,523.1 L150.0,524.4 L150.8,525.6 L151.7,526.8 L152.6,528.0 L153.6,529.1 L154.6,530.2 L155.7,531.2 L156.9,532.2 L158.1,533.0 L159.3,533.9 L160.6,534.7 L161.9,535.5 L163.2,536.2 L164.5,537.0 L165.8,537.7 L167.1,538.4 L168.4,539.1 L169.8,539.7 L171.2,540.3 L172.6,540.8 L174.0,541.3 L175.4,541.8 L176.8,542.2 L178.3,542.6 L179.7,543.0 L181.2,543.4 L182.7,543.7 L184.1,544.1 L185.6,544.5 L187.0,544.8 L188.5,545.2 L189.9,545.6 L191.4,545.9 L192.8,546.2 L194.3,546.5 L195.8,546.9 L197.3,547.1 L198.7,547.4 L200.2,547.7 L201.7,547.9 L203.2,548.1 L204.7,548.3 L206.2,548.5 L207.6,548.6 L209.1,548.8 L210.6,548.9 L212.1,549.1 L213.6,549.2 L215.1,549.4 L216.6,549.5 L218.1,549.7 L219.6,549.8 L221.1,549.9 L222.6,550.1 L224.1,550.2 L225.6,550.3 L227.1,550.4 L228.6,550.6 L230.0,550.7 L231.5,550.8 L233.0,550.9 L234.5,551.0 L236.0,551.1 L237.5,551.2 L239.0,551.3 L240.5,551.4 L242.0,551.5 L243.5,551.6 L245.0,551.7 L246.5,551.7 L248.0,551.8 L249.5,551.9 L251.0,552.0 L252.5,552.1 L254.0,552.1 L255.5,552.2 L257.0,552.3 L258.5,552.4 L260.0,552.5 L261.5,552.5 L263.0,552.6 L264.5,552.7 L266.0,552.8 L267.5,552.8 L269.0,552.9 L270.5,553.0 L272.0,553.0 L273.5,553.1 L275.0,553.2 L276.5,553.2 L278.0,553.3 L279.5,553.4 L281.0,553.4 L282.5,553.5 L284.0,553.6 L285.5,553.6 L287.0,553.7 L288.5,553.7 L290.0,553.8 L291.5,553.9 L293.0,553.9 L294.5,554.0 L296.0,554.0 L297.5,554.1 L299.0,554.2 L300.5,554.2 L302.0,554.3 L303.5,554.3 L305.0,554.4 L306.5,554.5 L308.0,554.5 L309.4,554.6 L310.9,554.6 L312.4,554.7 L313.9,554.7 L315.4,554.8 L316.9,554.8 L318.4,554.9 L319.9,555.0 L321.4,555.0 L322.9,555.1 L324.4,555.1 L325.9,555.2 L327.4,555.2 L328.9,555.3 L330.4,555.3 L331.9,555.4 L333.4,555.4 L334.8,555.4 L336.2,555.5 L336.6,555.5" fill="none" stroke="#6cc6d8" stroke-width="1.45" stroke-linejoin="round" stroke-linecap="round"/><path d="M48.3,495.2 L49.4,494.1 L50.4,493.0 L51.4,492.0 L52.4,490.8 L53.4,489.7 L54.4,488.6 L55.3,487.4 L56.3,486.2 L57.2,485.0 L58.1,483.9 L59.0,482.7 L59.9,481.4 L60.7,480.2 L61.6,479.0 L62.4,477.7 L63.2,476.4 L64.0,475.2 L64.8,473.9 L65.6,472.6 L66.4,471.4 L67.2,470.1 L68.0,468.9 L68.9,467.6 L69.7,466.4 L70.6,465.1 L71.4,463.9 L72.3,462.7 L73.2,461.5 L74.1,460.3 L75.0,459.1 L75.9,457.9 L76.8,456.7 L77.8,455.5 L78.7,454.4 L79.7,453.2 L80.6,452.1 L81.7,451.0 L82.7,449.9 L83.8,449.0 L85.0,448.1 L86.3,447.3 L87.6,446.7 L89.0,446.2 L90.4,445.9 L91.9,445.8 L93.4,445.7 L94.9,445.7 L96.4,445.6 L97.8,445.4 L99.3,445.0 L100.7,444.5 L102.0,443.9 L103.2,443.1 L104.4,442.2 L105.6,441.3 L106.7,440.3 L107.8,439.2 L108.8,438.1 L109.8,437.0 L110.7,435.8 L111.6,434.6 L112.5,433.4 L113.3,432.2 L114.1,430.9 L114.9,429.6 L115.7,428.3 L116.4,427.0 L117.2,425.7 L117.9,424.4 L118.7,423.1 L119.4,421.8 L120.1,420.5 L120.8,419.2 L121.5,417.9 L122.2,416.5 L122.9,415.2 L123.6,413.8 L124.2,412.5 L124.9,411.1 L125.5,409.8 L126.2,408.4 L126.8,407.1 L127.5,405.7 L128.1,404.4 L128.8,403.0 L129.4,401.7 L130.1,400.4 L130.8,399.0 L131.5,397.7 L132.3,396.4 L133.0,395.1 L133.7,393.8 L134.5,392.5 L135.3,391.2 L136.1,389.9 L136.9,388.7 L137.7,387.5 L138.7,386.3 L139.6,385.2 L140.7,384.2 L141.8,383.4 L143.1,382.8 L144.4,382.7 L145.7,383.0 L147.0,383.6 L148.1,384.4 L149.2,385.4 L150.3,386.5 L151.2,387.6 L152.2,388.8 L153.0,390.0 L153.8,391.3 L154.5,392.6 L155.2,393.9 L155.9,395.3 L156.5,396.6 L157.1,398.0 L157.7,399.4 L158.3,400.8 L158.9,402.1 L159.4,403.5 L160.0,404.9 L160.6,406.3 L161.1,407.7 L161.7,409.1 L162.3,410.5 L162.8,411.9 L163.4,413.3 L163.9,414.7 L164.5,416.1 L165.0,417.5 L165.5,418.9 L166.0,420.3 L166.5,421.7 L167.0,423.1 L167.5,424.5 L167.9,426.0 L168.4,427.4 L168.8,428.8 L169.3,430.3 L169.7,431.7 L170.1,433.2 L170.5,434.6 L170.9,436.0 L171.2,437.5 L171.6,439.0 L172.0,440.4 L172.3,441.9 L172.7,443.3 L173.0,444.8 L173.4,446.2 L173.7,447.7 L174.1,449.2 L174.4,450.6 L174.8,452.1 L175.1,453.5 L175.5,455.0 L175.8,456.5 L176.2,457.9 L176.5,459.4 L176.9,460.8 L177.3,462.3 L177.7,463.7 L178.1,465.2 L178.5,466.6 L178.9,468.1 L179.3,469.5 L179.7,470.9 L180.1,472.4 L180.5,473.8 L181.0,475.3 L181.4,476.7 L181.8,478.1 L182.2,479.6 L182.6,481.0 L183.1,482.5 L183.5,483.9 L183.9,485.3 L184.4,486.8 L184.8,488.2 L185.3,489.6 L185.7,491.1 L186.2,492.5 L186.6,493.9 L187.1,495.3 L187.6,496.8 L188.0,498.2 L188.5,499.6 L189.0,501.1 L189.4,502.5 L189.9,503.9 L190.3,505.3 L190.8,506.8 L191.3,508.2 L191.7,509.6 L192.2,511.0 L192.7,512.5 L193.2,513.9 L193.7,515.3 L194.2,516.7 L194.7,518.1 L195.2,519.5 L195.8,520.9 L196.3,522.3 L196.9,523.7 L197.6,525.0 L198.2,526.4 L198.9,527.7 L199.6,529.0 L200.4,530.3 L201.2,531.6 L201.9,532.9 L202.7,534.2 L203.6,535.4 L204.4,536.6 L205.3,537.8 L206.3,539.0 L207.3,540.1 L208.3,541.1 L209.5,542.1 L210.6,543.1 L211.8,544.1 L212.9,545.0 L214.1,545.9 L215.3,546.8 L216.6,547.6 L217.8,548.5 L219.1,549.3 L220.3,550.1 L221.7,550.8 L223.0,551.4 L224.4,551.9 L225.8,552.4 L227.3,552.8 L228.7,553.2 L230.2,553.6 L231.6,554.0 L233.1,554.3 L234.5,554.7 L236.0,555.0 L237.5,555.3 L238.9,555.7 L240.4,556.0 L241.9,556.2 L243.3,556.5 L244.8,556.8 L246.3,557.0 L247.8,557.2 L249.3,557.3 L250.8,557.5 L252.3,557.6 L253.8,557.7 L255.3,557.8 L256.8,557.9 L258.3,557.9 L259.8,558.0 L261.3,558.1 L262.8,558.2 L264.3,558.3 L265.7,558.3 L267.2,558.4 L268.7,558.5 L270.2,558.6 L271.7,558.6 L273.2,558.7 L274.7,558.8 L276.2,558.8 L277.7,558.9 L279.2,559.0 L280.7,559.0 L282.2,559.1 L283.7,559.1 L285.2,559.2 L286.7,559.2 L288.2,559.3 L289.7,559.3 L291.2,559.4 L292.7,559.4 L294.2,559.5 L295.7,559.5 L297.2,559.5 L298.7,559.6 L300.2,559.6 L301.7,559.6 L303.2,559.6 L304.7,559.6 L306.2,559.6 L307.7,559.7 L309.2,559.7 L310.7,559.7 L312.2,559.7 L313.7,559.7 L315.2,559.6 L316.7,559.6 L318.2,559.6 L319.7,559.6 L321.2,559.6 L322.7,559.5 L324.2,559.5 L325.7,559.4 L327.2,559.4 L328.7,559.3 L330.2,559.3 L331.7,559.2 L333.2,559.2 L334.7,559.1 L336.1,559.0 L336.6,559.0" fill="none" stroke="#a03ca6" stroke-width="1.45" stroke-linejoin="round" stroke-linecap="round"/><path d="M48.3,495.2 L49.2,494.0 L50.1,492.8 L51.0,491.6 L52.0,490.4 L52.9,489.3 L53.8,488.1 L54.8,486.9 L55.7,485.8 L56.7,484.6 L57.6,483.4 L58.6,482.3 L59.6,481.2 L60.5,480.0 L61.5,478.9 L62.5,477.7 L63.5,476.6 L64.5,475.5 L65.5,474.4 L66.5,473.3 L67.5,472.1 L68.5,471.0 L69.5,469.9 L70.5,468.8 L71.6,467.7 L72.6,466.6 L73.6,465.5 L74.6,464.4 L75.6,463.3 L76.6,462.2 L77.6,461.1 L78.7,460.0 L79.7,458.9 L80.8,457.9 L81.9,456.8 L83.0,455.9 L84.1,454.9 L85.4,454.1 L86.7,453.4 L88.0,452.8 L89.4,452.4 L90.9,452.1 L92.3,451.9 L93.8,451.8 L95.3,451.6 L96.8,451.4 L98.2,451.0 L99.6,450.4 L100.9,449.7 L102.1,448.9 L103.4,448.1 L104.5,447.2 L105.7,446.2 L106.8,445.2 L107.9,444.1 L108.9,443.1 L109.9,441.9 L110.8,440.8 L111.7,439.6 L112.6,438.3 L113.4,437.1 L114.2,435.8 L115.0,434.5 L115.7,433.2 L116.5,431.9 L117.2,430.6 L118.0,429.3 L118.7,428.0 L119.4,426.7 L120.2,425.4 L120.9,424.1 L121.6,422.8 L122.3,421.4 L122.9,420.1 L123.6,418.7 L124.2,417.4 L124.9,416.0 L125.5,414.7 L126.2,413.3 L126.8,412.0 L127.4,410.6 L128.1,409.3 L128.7,407.9 L129.4,406.6 L130.1,405.2 L130.8,403.9 L131.6,402.6 L132.3,401.3 L133.1,400.0 L133.9,398.7 L134.7,397.5 L135.5,396.2 L136.4,395.0 L137.3,393.9 L138.3,392.8 L139.4,392.0 L140.7,391.4 L142.0,391.2 L143.4,391.3 L144.7,391.8 L146.0,392.4 L147.2,393.3 L148.3,394.3 L149.3,395.4 L150.3,396.5 L151.2,397.6 L152.2,398.8 L153.0,400.0 L153.9,401.3 L154.7,402.5 L155.6,403.8 L156.4,405.0 L157.1,406.3 L157.8,407.6 L158.5,409.0 L159.2,410.3 L159.8,411.7 L160.4,413.1 L161.0,414.4 L161.6,415.8 L162.1,417.2 L162.7,418.6 L163.2,420.0 L163.7,421.4 L164.2,422.8 L164.7,424.2 L165.2,425.7 L165.7,427.1 L166.2,428.5 L166.6,429.9 L167.1,431.4 L167.5,432.8 L167.9,434.2 L168.3,435.7 L168.7,437.1 L169.1,438.6 L169.5,440.0 L169.8,441.5 L170.2,443.0 L170.5,444.4 L170.9,445.9 L171.2,447.3 L171.5,448.8 L171.9,450.3 L172.2,451.7 L172.6,453.2 L172.9,454.6 L173.3,456.1 L173.6,457.6 L174.0,459.0 L174.3,460.5 L174.7,461.9 L175.1,463.4 L175.5,464.8 L175.9,466.3 L176.3,467.7 L176.7,469.2 L177.1,470.6 L177.5,472.0 L177.9,473.5 L178.3,474.9 L178.8,476.4 L179.2,477.8 L179.6,479.2 L180.0,480.7 L180.4,482.1 L180.9,483.6 L181.3,485.0 L181.7,486.4 L182.2,487.9 L182.6,489.3 L183.1,490.7 L183.5,492.2 L184.0,493.6 L184.5,495.0 L184.9,496.4 L185.4,497.9 L185.9,499.3 L186.4,500.7 L186.9,502.1 L187.3,503.5 L187.8,505.0 L188.3,506.4 L188.8,507.8 L189.3,509.2 L189.8,510.6 L190.3,512.0 L190.8,513.5 L191.3,514.9 L191.9,516.3 L192.4,517.6 L193.0,519.0 L193.6,520.4 L194.3,521.7 L195.0,523.1 L195.7,524.4 L196.4,525.7 L197.2,527.0 L197.9,528.3 L198.7,529.6 L199.5,530.8 L200.3,532.1 L201.2,533.3 L202.0,534.5 L203.0,535.7 L203.9,536.9 L205.0,538.0 L206.0,539.0 L207.2,539.9 L208.4,540.8 L209.7,541.6 L210.9,542.4 L212.2,543.2 L213.5,543.9 L214.8,544.6 L216.2,545.3 L217.6,545.9 L218.9,546.4 L220.4,546.9 L221.8,547.4 L223.2,547.8 L224.7,548.1 L226.1,548.5 L227.6,548.8 L229.1,549.2 L230.5,549.6 L232.0,549.9 L233.4,550.3 L234.9,550.6 L236.4,550.9 L237.8,551.3 L239.3,551.6 L240.8,551.9 L242.2,552.1 L243.7,552.4 L245.2,552.6 L246.7,552.9 L248.2,553.1 L249.6,553.2 L251.1,553.4 L252.6,553.5 L254.1,553.6 L255.6,553.8 L257.1,553.9 L258.6,554.0 L260.1,554.1 L261.6,554.2 L263.1,554.3 L264.6,554.4 L266.1,554.5 L267.6,554.6 L269.1,554.7 L270.6,554.8 L272.1,554.9 L273.6,555.0 L275.1,555.1 L276.6,555.2 L278.1,555.3 L279.6,555.4 L281.1,555.5 L282.6,555.6 L284.1,555.7 L285.6,555.7 L287.1,555.8 L288.6,555.9 L290.1,556.0 L291.6,556.0 L293.0,556.1 L294.5,556.2 L296.0,556.2 L297.5,556.3 L299.0,556.4 L300.5,556.4 L302.0,556.5 L303.5,556.5 L305.0,556.5 L306.5,556.6 L308.0,556.6 L309.5,556.7 L311.0,556.7 L312.5,556.7 L314.0,556.7 L315.5,556.7 L317.0,556.8 L318.5,556.8 L320.0,556.8 L321.5,556.8 L323.0,556.8 L324.5,556.7 L326.0,556.7 L327.5,556.7 L329.0,556.7 L330.5,556.7 L332.0,556.6 L333.5,556.6 L334.9,556.6 L336.2,556.5 L336.6,556.5" fill="none" stroke="#e6de68" stroke-width="1.45" stroke-linejoin="round" stroke-linecap="round"/><path d="M48.5,344.0 V559.5 H337.1" fill="none" stroke="#383838" stroke-width="1.3"/><path d="M44.0,559.5 h4.5 M46.0,538.0 h2.5 M44.0,516.5 h4.5 M46.0,495.0 h2.5 M44.0,473.5 h4.5 M46.0,452.1 h2.5 M44.0,430.6 h4.5 M46.0,409.1 h2.5 M44.0,387.6 h4.5 M46.0,366.1 h2.5 M44.0,344.6 h4.5 M62.2,559.5 v4.5 M130.8,559.5 v2.5 M199.4,559.5 v4.5 M267.9,559.5 v2.5 M336.5,559.5 v4.5" stroke="#383838" stroke-width="1.2" fill="none"/><text x="42.2" y="562.6" font-size="8.5" fill="#222" stroke="#222" stroke-width="0.15" text-anchor="end">0,0</text><text x="42.2" y="519.6" font-size="8.5" fill="#222" stroke="#222" stroke-width="0.15" text-anchor="end">0,2</text><text x="42.2" y="476.6" font-size="8.5" fill="#222" stroke="#222" stroke-width="0.15" text-anchor="end">0,4</text><text x="42.2" y="433.7" font-size="8.5" fill="#222" stroke="#222" stroke-width="0.15" text-anchor="end">0,6</text><text x="42.2" y="390.7" font-size="8.5" fill="#222" stroke="#222" stroke-width="0.15" text-anchor="end">0,8</text><text x="42.2" y="347.7" font-size="8.5" fill="#222" stroke="#222" stroke-width="0.15" text-anchor="end">1,0</text><text x="62.2" y="573.1" font-size="8.5" fill="#222" stroke="#222" stroke-width="0.15" text-anchor="middle">300</text><text x="199.4" y="573.1" font-size="8.5" fill="#222" stroke="#222" stroke-width="0.15" text-anchor="middle">400</text><text x="336.5" y="573.1" font-size="8.5" fill="#222" stroke="#222" stroke-width="0.15" text-anchor="middle">500</text><text x="192.7" y="589.8" font-size="10.4" fill="#1a1a1a" stroke="#1a1a1a" stroke-width="0.15" text-anchor="middle">Wavelength (nm)</text><text transform="translate(14.6,453.1) rotate(-90)" font-size="10.2" fill="#1a1a1a" stroke="#1a1a1a" stroke-width="0.15" text-anchor="middle">Absorbance</text></g>
<g><path d="M421.3,493.5 L422.6,494.2 L423.9,494.9 L425.3,495.6 L426.6,496.2 L428.0,496.8 L429.4,497.2 L430.9,497.5 L432.3,497.6 L433.8,497.6 L435.2,497.3 L436.7,496.9 L438.0,496.4 L439.4,495.7 L440.7,495.0 L442.0,494.3 L443.3,493.5 L444.5,492.6 L445.8,491.8 L447.0,490.9 L448.2,490.1 L449.4,489.2 L450.6,488.3 L451.8,487.3 L452.9,486.4 L454.1,485.4 L455.2,484.4 L456.3,483.4 L457.5,482.4 L458.6,481.5 L459.7,480.5 L460.9,479.6 L462.1,478.7 L463.4,477.8 L464.6,477.0 L465.9,476.3 L467.2,475.6 L468.6,474.9 L470.0,474.3 L471.3,473.7 L472.7,473.1 L474.1,472.6 L475.5,471.9 L476.8,471.3 L478.2,470.7 L479.5,470.0 L480.9,469.4 L482.2,468.7 L483.6,468.1 L484.9,467.4 L486.3,466.7 L487.6,466.0 L488.9,465.3 L490.3,464.6 L491.6,463.9 L492.9,463.2 L494.2,462.4 L495.5,461.7 L496.7,460.8 L498.0,460.0 L499.2,459.2 L500.5,458.3 L501.7,457.5 L503.0,456.7 L504.2,455.9 L505.5,455.1 L506.8,454.4 L508.1,453.7 L509.5,453.0 L510.8,452.4 L512.2,451.8 L513.6,451.2 L515.0,450.7 L516.4,450.2 L517.8,449.8 L519.3,449.5 L520.8,449.3 L522.3,449.2 L523.7,449.2 L525.2,449.3 L526.7,449.6 L528.1,449.9 L529.6,450.4 L531.0,450.9 L532.4,451.4 L533.8,452.0 L535.1,452.6 L536.4,453.3 L537.7,454.1 L538.9,455.0 L540.1,455.9 L541.3,456.8 L542.4,457.8 L543.6,458.8 L544.7,459.7 L545.8,460.7 L547.0,461.7 L548.1,462.7 L549.2,463.7 L550.3,464.8 L551.3,465.8 L552.4,466.9 L553.5,467.9 L554.5,469.0 L555.5,470.1 L556.5,471.2 L557.5,472.4 L558.4,473.5 L559.4,474.7 L560.3,475.9 L561.1,477.1 L562.0,478.4 L562.8,479.6 L563.6,480.9 L564.5,482.1 L565.3,483.4 L566.1,484.7 L566.9,485.9 L567.7,487.2 L568.5,488.5 L569.3,489.7 L570.1,491.0 L571.0,492.2 L571.8,493.4 L572.7,494.6 L573.6,495.8 L574.5,497.0 L575.5,498.2 L576.4,499.4 L577.3,500.6 L578.2,501.7 L579.2,502.9 L580.1,504.1 L581.1,505.2 L582.0,506.4 L583.0,507.5 L583.9,508.7 L584.9,509.9 L585.9,511.0 L586.8,512.2 L587.8,513.3 L588.7,514.5 L589.7,515.6 L590.7,516.8 L591.7,517.9 L592.7,519.0 L593.7,520.1 L594.7,521.2 L595.7,522.3 L596.8,523.3 L597.9,524.4 L599.0,525.4 L600.1,526.4 L601.2,527.4 L602.4,528.3 L603.5,529.3 L604.7,530.3 L605.9,531.2 L607.1,532.1 L608.2,533.0 L609.4,533.9 L610.7,534.8 L611.9,535.7 L613.1,536.5 L614.3,537.4 L615.6,538.3 L616.8,539.1 L618.0,540.0 L619.2,540.8 L620.5,541.7 L621.7,542.5 L623.0,543.3 L624.3,544.1 L625.6,544.8 L626.9,545.5 L628.3,546.2 L629.6,546.8 L631.0,547.3 L632.4,547.8 L633.9,548.3 L635.3,548.7 L636.8,549.1 L638.2,549.5 L639.7,549.8 L641.1,550.1 L642.6,550.4 L644.1,550.6 L645.6,550.9 L647.0,551.1 L648.5,551.3 L650.0,551.6 L651.5,551.8 L653.0,552.0 L654.5,552.3 L655.9,552.5 L657.4,552.7 L658.9,552.9 L660.4,553.1 L661.9,553.3 L663.4,553.5 L664.9,553.7 L666.3,553.9 L667.8,554.0 L669.3,554.2 L670.8,554.3 L672.3,554.4 L673.8,554.5 L675.3,554.7 L676.8,554.8 L678.3,554.9 L679.8,555.0 L681.3,555.1 L682.8,555.2 L684.3,555.3 L685.8,555.4 L687.3,555.5 L688.8,555.6 L690.3,555.7 L691.8,555.8 L693.3,555.9 L694.8,556.0 L696.3,556.1 L697.8,556.1 L699.3,556.2 L700.8,556.3 L702.3,556.3 L703.8,556.4 L705.2,556.4 L706.7,556.4 L708.0,556.5 L709.3,556.5 L709.3,556.5" fill="none" stroke="#222222" stroke-width="1.45" stroke-linejoin="round" stroke-linecap="round"/><path d="M421.3,480.3 L422.8,480.1 L424.3,479.9 L425.7,479.5 L427.1,479.1 L428.6,478.7 L430.0,478.1 L431.3,477.5 L432.6,476.7 L433.8,475.9 L434.9,474.9 L436.0,473.9 L437.0,472.7 L437.9,471.6 L438.8,470.4 L439.7,469.2 L440.5,467.9 L441.4,466.7 L442.2,465.4 L443.1,464.2 L444.0,463.0 L444.9,461.9 L446.0,460.8 L447.0,459.8 L448.2,458.8 L449.3,457.8 L450.5,456.9 L451.7,456.0 L452.9,455.2 L454.2,454.5 L455.6,453.8 L457.0,453.3 L458.4,453.0 L459.8,452.9 L461.3,453.0 L462.8,453.3 L464.2,453.7 L465.6,454.2 L466.9,454.8 L468.2,455.5 L469.5,456.3 L470.7,457.2 L471.9,458.1 L473.1,458.8 L474.4,459.3 L475.6,459.4 L476.8,459.1 L478.0,458.3 L479.0,457.4 L480.0,456.3 L480.9,455.1 L481.7,453.8 L482.6,452.6 L483.3,451.3 L484.1,450.0 L484.8,448.7 L485.4,447.3 L486.1,446.0 L486.7,444.6 L487.3,443.2 L487.9,441.9 L488.5,440.5 L489.1,439.1 L489.7,437.8 L490.3,436.4 L490.9,435.0 L491.5,433.6 L492.1,432.3 L492.7,430.9 L493.3,429.5 L493.8,428.1 L494.4,426.7 L494.9,425.3 L495.5,423.9 L496.0,422.5 L496.6,421.1 L497.1,419.7 L497.7,418.3 L498.2,416.9 L498.8,415.5 L499.4,414.1 L500.0,412.8 L500.6,411.4 L501.2,410.0 L501.9,408.7 L502.6,407.4 L503.3,406.1 L504.1,404.8 L504.8,403.5 L505.7,402.2 L506.5,401.0 L507.4,399.8 L508.3,398.6 L509.3,397.5 L510.4,396.5 L511.5,395.4 L512.6,394.5 L513.8,393.6 L515.0,392.8 L516.4,392.3 L517.7,392.0 L519.1,392.0 L520.5,392.3 L521.8,392.8 L523.1,393.5 L524.4,394.4 L525.6,395.3 L526.7,396.2 L527.8,397.3 L528.8,398.4 L529.7,399.5 L530.6,400.7 L531.5,401.9 L532.3,403.2 L533.1,404.5 L533.9,405.7 L534.7,407.0 L535.4,408.3 L536.1,409.6 L536.8,411.0 L537.4,412.3 L538.1,413.7 L538.6,415.1 L539.2,416.5 L539.7,417.9 L540.2,419.3 L540.7,420.7 L541.2,422.1 L541.7,423.5 L542.1,425.0 L542.6,426.4 L543.0,427.8 L543.4,429.3 L543.8,430.7 L544.2,432.2 L544.6,433.6 L545.0,435.1 L545.4,436.5 L545.7,438.0 L546.1,439.4 L546.4,440.9 L546.7,442.4 L547.0,443.9 L547.2,445.3 L547.5,446.8 L547.7,448.3 L548.0,449.8 L548.2,451.2 L548.5,452.7 L548.7,454.2 L549.0,455.7 L549.2,457.2 L549.5,458.6 L549.7,460.1 L549.9,461.6 L550.2,463.1 L550.4,464.6 L550.7,466.0 L550.9,467.5 L551.2,469.0 L551.5,470.5 L551.7,471.9 L552.0,473.4 L552.3,474.9 L552.7,476.4 L553.0,477.8 L553.4,479.3 L553.7,480.7 L554.1,482.2 L554.6,483.6 L555.0,485.0 L555.5,486.5 L555.9,487.9 L556.4,489.3 L556.9,490.7 L557.4,492.1 L557.9,493.5 L558.5,494.9 L559.0,496.3 L559.6,497.7 L560.2,499.1 L560.7,500.5 L561.3,501.9 L561.9,503.3 L562.5,504.6 L563.0,506.0 L563.6,507.4 L564.2,508.8 L564.8,510.2 L565.3,511.6 L565.9,513.0 L566.5,514.3 L567.1,515.7 L567.7,517.1 L568.3,518.5 L568.9,519.8 L569.6,521.2 L570.2,522.5 L570.9,523.9 L571.7,525.2 L572.4,526.5 L573.2,527.7 L574.0,529.0 L574.9,530.2 L575.8,531.4 L576.7,532.6 L577.6,533.8 L578.5,535.0 L579.5,536.1 L580.5,537.2 L581.6,538.3 L582.7,539.2 L583.9,540.1 L585.2,540.9 L586.5,541.5 L587.9,542.1 L589.2,542.7 L590.7,543.2 L592.1,543.7 L593.5,544.2 L594.9,544.7 L596.3,545.2 L597.8,545.6 L599.2,546.0 L600.7,546.4 L602.1,546.7 L603.6,547.0 L605.1,547.2 L606.6,547.4 L608.0,547.7 L609.5,547.8 L611.0,548.0 L612.5,548.2 L614.0,548.4 L615.5,548.6 L617.0,548.8 L618.5,549.0 L619.9,549.1 L621.4,549.3 L622.9,549.5 L624.4,549.7 L625.9,549.8 L627.4,550.0 L628.9,550.2 L630.4,550.3 L631.9,550.5 L633.4,550.6 L634.9,550.8 L636.4,550.9 L637.8,551.1 L639.3,551.2 L640.8,551.3 L642.3,551.5 L643.8,551.6 L645.3,551.7 L646.8,551.8 L648.3,552.0 L649.8,552.1 L651.3,552.2 L652.8,552.4 L654.3,552.5 L655.8,552.6 L657.3,552.7 L658.8,552.9 L660.3,553.0 L661.8,553.1 L663.3,553.2 L664.7,553.4 L666.2,553.5 L667.7,553.6 L669.2,553.7 L670.7,553.9 L672.2,554.0 L673.7,554.1 L675.2,554.2 L676.7,554.3 L678.2,554.5 L679.7,554.6 L681.2,554.7 L682.7,554.8 L684.2,554.9 L685.7,555.0 L687.2,555.1 L688.7,555.2 L690.2,555.3 L691.7,555.4 L693.2,555.5 L694.7,555.6 L696.2,555.7 L697.7,555.8 L699.2,555.9 L700.6,556.0 L702.1,556.1 L703.6,556.2 L705.1,556.3 L706.6,556.4 L708.0,556.4 L709.3,556.5 L709.3,556.5" fill="none" stroke="#b03a48" stroke-width="1.45" stroke-linejoin="round" stroke-linecap="round"/><path d="M421.3,495.2 L422.4,494.2 L423.5,493.2 L424.6,492.2 L425.7,491.1 L426.8,490.1 L427.9,489.0 L428.9,488.0 L429.9,486.9 L431.0,485.8 L432.0,484.7 L433.0,483.6 L434.0,482.5 L435.0,481.4 L436.0,480.2 L436.9,479.1 L437.8,477.9 L438.7,476.7 L439.6,475.5 L440.5,474.2 L441.4,473.0 L442.2,471.8 L443.1,470.6 L444.0,469.4 L444.9,468.2 L445.8,467.0 L446.7,465.8 L447.7,464.7 L448.7,463.6 L449.8,462.5 L450.9,461.5 L452.1,460.6 L453.3,459.8 L454.6,458.9 L455.9,458.2 L457.2,457.5 L458.5,456.8 L459.9,456.2 L461.3,455.7 L462.7,455.2 L464.2,454.8 L465.6,454.5 L467.1,454.3 L468.6,454.1 L470.1,454.0 L471.6,453.9 L473.0,453.7 L474.5,453.4 L475.8,452.9 L477.1,452.3 L478.4,451.5 L479.5,450.5 L480.6,449.5 L481.7,448.5 L482.7,447.3 L483.7,446.2 L484.6,445.0 L485.5,443.8 L486.3,442.6 L487.1,441.3 L487.8,440.0 L488.6,438.7 L489.3,437.4 L490.1,436.1 L490.8,434.8 L491.5,433.5 L492.2,432.1 L492.9,430.8 L493.7,429.5 L494.4,428.2 L495.1,426.9 L495.8,425.5 L496.5,424.2 L497.1,422.9 L497.8,421.5 L498.5,420.2 L499.2,418.8 L499.8,417.5 L500.5,416.2 L501.2,414.8 L501.9,413.5 L502.7,412.2 L503.4,410.9 L504.2,409.7 L505.1,408.4 L505.9,407.2 L506.8,405.9 L507.7,404.7 L508.6,403.6 L509.5,402.4 L510.5,401.3 L511.6,400.2 L512.7,399.3 L514.0,398.5 L515.3,397.9 L516.6,397.6 L518.1,397.6 L519.5,397.8 L520.9,398.2 L522.2,398.8 L523.5,399.5 L524.7,400.4 L525.8,401.4 L526.8,402.5 L527.7,403.7 L528.6,404.9 L529.4,406.2 L530.2,407.4 L530.9,408.7 L531.6,410.0 L532.3,411.4 L533.0,412.7 L533.6,414.1 L534.2,415.4 L534.8,416.8 L535.3,418.2 L535.8,419.6 L536.3,421.1 L536.8,422.5 L537.2,423.9 L537.7,425.4 L538.1,426.8 L538.6,428.2 L539.0,429.7 L539.4,431.1 L539.8,432.5 L540.3,434.0 L540.7,435.4 L541.2,436.8 L541.6,438.3 L542.1,439.7 L542.6,441.1 L543.1,442.5 L543.6,443.9 L544.2,445.3 L544.8,446.7 L545.4,448.1 L546.0,449.4 L546.6,450.8 L547.3,452.1 L548.0,453.5 L548.6,454.8 L549.2,456.2 L549.9,457.5 L550.5,458.9 L551.0,460.3 L551.5,461.7 L552.1,463.1 L552.5,464.5 L553.0,466.0 L553.4,467.4 L553.9,468.8 L554.3,470.3 L554.7,471.7 L555.1,473.2 L555.5,474.6 L555.9,476.1 L556.3,477.5 L556.7,479.0 L557.1,480.4 L557.4,481.9 L557.8,483.3 L558.2,484.8 L558.6,486.2 L559.0,487.7 L559.4,489.1 L559.8,490.5 L560.2,492.0 L560.6,493.4 L561.1,494.9 L561.5,496.3 L562.0,497.7 L562.5,499.1 L563.0,500.6 L563.5,502.0 L564.1,503.3 L564.6,504.7 L565.2,506.1 L565.9,507.5 L566.5,508.8 L567.2,510.2 L567.8,511.5 L568.5,512.8 L569.2,514.2 L570.0,515.5 L570.8,516.7 L571.5,518.0 L572.3,519.3 L573.1,520.6 L573.9,521.8 L574.8,523.1 L575.6,524.3 L576.5,525.5 L577.4,526.7 L578.3,527.9 L579.3,529.1 L580.3,530.2 L581.3,531.3 L582.3,532.3 L583.4,533.4 L584.5,534.5 L585.5,535.5 L586.6,536.5 L587.7,537.6 L588.9,538.5 L590.0,539.5 L591.2,540.4 L592.4,541.3 L593.7,542.0 L595.0,542.7 L596.4,543.3 L597.8,543.8 L599.2,544.2 L600.7,544.7 L602.1,545.1 L603.6,545.5 L605.0,545.9 L606.5,546.2 L607.9,546.6 L609.4,547.0 L610.8,547.3 L612.3,547.7 L613.8,548.0 L615.2,548.3 L616.7,548.6 L618.2,548.9 L619.6,549.1 L621.1,549.4 L622.6,549.6 L624.1,549.8 L625.6,550.0 L627.1,550.2 L628.6,550.3 L630.0,550.5 L631.5,550.6 L633.0,550.7 L634.5,550.9 L636.0,551.0 L637.5,551.1 L639.0,551.2 L640.5,551.4 L642.0,551.5 L643.5,551.6 L645.0,551.7 L646.5,551.9 L648.0,552.0 L649.5,552.1 L651.0,552.2 L652.5,552.3 L654.0,552.4 L655.5,552.5 L657.0,552.6 L658.5,552.7 L660.0,552.8 L661.5,552.9 L662.9,553.0 L664.4,553.1 L665.9,553.2 L667.4,553.3 L668.9,553.3 L670.4,553.4 L671.9,553.5 L673.4,553.5 L674.9,553.6 L676.4,553.6 L677.9,553.7 L679.4,553.7 L680.9,553.8 L682.4,553.8 L683.9,553.9 L685.4,553.9 L686.9,554.0 L688.4,554.0 L689.9,554.1 L691.4,554.1 L692.9,554.2 L694.4,554.2 L695.9,554.3 L697.4,554.3 L698.9,554.3 L700.4,554.4 L701.9,554.4 L703.4,554.4 L704.9,554.5 L706.4,554.5 L707.9,554.5 L709.3,554.5 L709.3,554.5" fill="none" stroke="#68c060" stroke-width="1.45" stroke-linejoin="round" stroke-linecap="round"/><path d="M421.3,480.1 L422.7,479.4 L424.0,478.8 L425.4,478.2 L426.7,477.5 L428.1,476.9 L429.4,476.3 L430.8,475.6 L432.2,475.0 L433.5,474.4 L434.9,473.8 L436.3,473.2 L437.7,472.6 L439.1,472.1 L440.4,471.5 L441.8,470.9 L443.2,470.3 L444.6,469.7 L445.9,469.1 L447.3,468.5 L448.7,467.9 L450.1,467.3 L451.5,466.8 L452.9,466.3 L454.3,465.8 L455.8,465.4 L457.2,465.1 L458.7,464.9 L460.2,464.8 L461.6,464.9 L463.1,465.1 L464.5,465.4 L466.0,465.9 L467.4,466.4 L468.8,467.0 L470.1,467.5 L471.5,468.1 L473.0,468.5 L474.4,468.9 L475.9,469.1 L477.3,469.2 L478.8,469.1 L480.3,469.0 L481.7,468.6 L483.2,468.2 L484.6,467.7 L486.0,467.2 L487.3,466.6 L488.7,465.9 L490.0,465.2 L491.4,464.5 L492.7,463.8 L493.9,463.0 L495.2,462.2 L496.4,461.4 L497.6,460.5 L498.8,459.5 L499.9,458.5 L501.0,457.5 L502.1,456.5 L503.2,455.5 L504.3,454.4 L505.3,453.3 L506.4,452.3 L507.4,451.2 L508.5,450.1 L509.5,449.0 L510.5,448.0 L511.6,446.9 L512.6,445.8 L513.6,444.7 L514.6,443.6 L515.6,442.4 L516.6,441.3 L517.6,440.2 L518.5,439.0 L519.5,437.9 L520.5,436.7 L521.5,435.6 L522.5,434.5 L523.5,433.4 L524.5,432.3 L525.6,431.3 L526.8,430.3 L528.0,429.4 L529.2,428.6 L530.5,427.8 L531.8,427.1 L533.1,426.4 L534.5,425.7 L535.8,425.1 L537.2,424.5 L538.6,424.0 L540.0,423.6 L541.5,423.3 L542.9,423.2 L544.4,423.2 L545.8,423.5 L547.3,423.8 L548.7,424.3 L550.1,424.8 L551.4,425.5 L552.7,426.2 L554.0,427.0 L555.2,427.9 L556.3,428.9 L557.4,429.9 L558.4,431.0 L559.4,432.1 L560.3,433.3 L561.3,434.5 L562.1,435.7 L563.0,436.9 L563.8,438.2 L564.6,439.4 L565.3,440.7 L566.1,442.0 L566.8,443.4 L567.5,444.7 L568.2,446.0 L568.9,447.4 L569.5,448.7 L570.2,450.0 L570.9,451.4 L571.5,452.7 L572.2,454.1 L572.9,455.4 L573.5,456.8 L574.2,458.1 L574.9,459.4 L575.6,460.8 L576.3,462.1 L577.0,463.4 L577.7,464.7 L578.4,466.1 L579.1,467.4 L579.8,468.7 L580.5,470.0 L581.2,471.4 L581.9,472.7 L582.6,474.0 L583.3,475.4 L584.0,476.7 L584.7,478.0 L585.4,479.3 L586.1,480.7 L586.8,482.0 L587.5,483.3 L588.2,484.6 L588.9,485.9 L589.7,487.3 L590.4,488.6 L591.1,489.9 L591.7,491.2 L592.4,492.6 L593.1,493.9 L593.8,495.2 L594.5,496.6 L595.2,497.9 L595.9,499.2 L596.6,500.6 L597.3,501.9 L598.0,503.2 L598.7,504.5 L599.5,505.8 L600.2,507.1 L601.0,508.4 L601.7,509.7 L602.5,511.0 L603.3,512.2 L604.2,513.5 L605.0,514.7 L605.9,515.9 L606.8,517.2 L607.7,518.3 L608.6,519.5 L609.6,520.7 L610.6,521.8 L611.5,522.9 L612.5,524.1 L613.6,525.2 L614.6,526.3 L615.6,527.3 L616.7,528.4 L617.8,529.5 L618.8,530.5 L619.9,531.5 L621.0,532.6 L622.1,533.6 L623.2,534.6 L624.3,535.6 L625.5,536.6 L626.6,537.5 L627.8,538.4 L629.0,539.3 L630.3,540.1 L631.6,540.8 L632.9,541.5 L634.2,542.2 L635.6,542.9 L637.0,543.5 L638.3,544.1 L639.7,544.7 L641.1,545.2 L642.5,545.7 L644.0,546.2 L645.4,546.6 L646.8,547.0 L648.3,547.4 L649.7,547.7 L651.2,548.1 L652.7,548.5 L654.1,548.8 L655.6,549.2 L657.0,549.5 L658.5,549.9 L659.9,550.2 L661.4,550.5 L662.9,550.8 L664.4,551.1 L665.8,551.4 L667.3,551.7 L668.8,551.9 L670.3,552.1 L671.8,552.3 L673.2,552.5 L674.7,552.7 L676.2,552.8 L677.7,553.0 L679.2,553.2 L680.7,553.3 L682.2,553.5 L683.7,553.7 L685.2,553.8 L686.7,554.0 L688.2,554.1 L689.6,554.3 L691.1,554.4 L692.6,554.6 L694.1,554.7 L695.6,554.8 L697.1,554.9 L698.6,555.0 L700.1,555.1 L701.6,555.2 L703.1,555.3 L704.6,555.4 L706.1,555.4 L707.5,555.5 L708.8,555.5 L709.3,555.5" fill="none" stroke="#34347c" stroke-width="1.45" stroke-linejoin="round" stroke-linecap="round"/><path d="M421.3,443.8 L422.8,443.8 L424.3,443.9 L425.8,444.0 L427.3,444.1 L428.8,444.3 L430.3,444.5 L431.7,444.7 L433.2,445.0 L434.7,445.3 L436.1,445.7 L437.5,446.2 L438.9,446.8 L440.2,447.5 L441.6,448.2 L442.9,448.9 L444.2,449.5 L445.6,450.2 L446.9,450.7 L448.3,451.2 L449.8,451.4 L451.2,451.4 L452.6,451.1 L454.0,450.6 L455.3,450.0 L456.5,449.1 L457.7,448.2 L458.8,447.2 L459.9,446.3 L461.1,445.3 L462.2,444.3 L463.4,443.4 L464.6,442.4 L465.7,441.5 L466.9,440.6 L468.1,439.6 L469.2,438.7 L470.4,437.8 L471.6,436.9 L472.8,436.0 L474.1,435.2 L475.4,434.6 L476.8,434.2 L478.2,434.0 L479.6,434.2 L480.9,434.7 L482.2,435.3 L483.5,436.1 L484.7,437.0 L485.8,438.0 L486.8,439.1 L487.7,440.2 L488.5,441.5 L489.2,442.8 L490.0,444.1 L490.6,445.4 L491.2,446.8 L491.8,448.2 L492.4,449.6 L492.9,451.0 L493.4,452.4 L493.9,453.8 L494.4,455.2 L494.9,456.6 L495.4,458.1 L495.8,459.5 L496.3,460.9 L496.8,462.3 L497.3,463.7 L497.7,465.2 L498.2,466.6 L498.6,468.0 L499.1,469.5 L499.5,470.9 L500.0,472.3 L500.4,473.8 L500.9,475.2 L501.4,476.6 L501.8,478.0 L502.3,479.4 L502.8,480.9 L503.4,482.3 L503.9,483.7 L504.4,485.1 L505.0,486.5 L505.5,487.9 L506.1,489.2 L506.7,490.6 L507.2,492.0 L507.8,493.4 L508.3,494.8 L508.9,496.2 L509.4,497.6 L510.0,499.0 L510.5,500.4 L511.1,501.8 L511.7,503.2 L512.3,504.5 L512.9,505.9 L513.6,507.3 L514.2,508.6 L514.9,509.9 L515.6,511.3 L516.3,512.6 L517.1,513.9 L517.8,515.2 L518.6,516.4 L519.4,517.7 L520.2,519.0 L521.0,520.2 L521.9,521.5 L522.8,522.7 L523.8,523.8 L524.7,524.9 L525.8,526.0 L526.9,527.0 L528.0,528.0 L529.2,528.9 L530.4,529.9 L531.6,530.7 L532.8,531.6 L534.0,532.4 L535.3,533.3 L536.6,534.1 L537.9,534.8 L539.2,535.6 L540.5,536.3 L541.8,537.0 L543.1,537.7 L544.4,538.4 L545.8,539.1 L547.1,539.7 L548.5,540.3 L549.9,540.8 L551.3,541.3 L552.8,541.7 L554.2,542.1 L555.7,542.5 L557.1,542.8 L558.6,543.2 L560.0,543.5 L561.5,543.9 L563.0,544.2 L564.4,544.5 L565.9,544.8 L567.4,545.1 L568.8,545.4 L570.3,545.7 L571.8,546.0 L573.3,546.2 L574.8,546.4 L576.2,546.7 L577.7,546.9 L579.2,547.1 L580.7,547.3 L582.2,547.5 L583.7,547.7 L585.2,547.8 L586.7,548.0 L588.1,548.2 L589.6,548.3 L591.1,548.5 L592.6,548.7 L594.1,548.9 L595.6,549.0 L597.1,549.2 L598.6,549.3 L600.1,549.5 L601.6,549.7 L603.1,549.8 L604.5,550.0 L606.0,550.1 L607.5,550.3 L609.0,550.4 L610.5,550.6 L612.0,550.7 L613.5,550.8 L615.0,550.9 L616.5,551.1 L618.0,551.2 L619.5,551.3 L621.0,551.4 L622.5,551.5 L624.0,551.6 L625.5,551.7 L627.0,551.8 L628.5,551.9 L630.0,552.0 L631.5,552.1 L633.0,552.2 L634.5,552.3 L635.9,552.4 L637.4,552.5 L638.9,552.6 L640.4,552.7 L641.9,552.8 L643.4,552.9 L644.9,553.0 L646.4,553.1 L647.9,553.2 L649.4,553.2 L650.9,553.3 L652.4,553.4 L653.9,553.5 L655.4,553.6 L656.9,553.6 L658.4,553.7 L659.9,553.8 L661.4,553.8 L662.9,553.9 L664.4,554.0 L665.9,554.0 L667.4,554.1 L668.9,554.1 L670.4,554.2 L671.9,554.3 L673.4,554.3 L674.9,554.4 L676.4,554.5 L677.9,554.5 L679.4,554.6 L680.9,554.6 L682.4,554.7 L683.9,554.8 L685.4,554.8 L686.9,554.9 L688.4,554.9 L689.9,555.0 L691.4,555.0 L692.9,555.1 L694.4,555.1 L695.9,555.2 L697.4,555.2 L698.9,555.3 L700.4,555.3 L701.9,555.3 L703.4,555.4 L704.9,555.4 L706.4,555.4 L707.8,555.5 L709.3,555.5 L709.3,555.5" fill="none" stroke="#6cc6d8" stroke-width="1.45" stroke-linejoin="round" stroke-linecap="round"/><path d="M421.3,494.0 L422.0,492.7 L422.6,491.3 L423.3,490.0 L424.0,488.7 L424.7,487.3 L425.5,486.0 L426.3,484.8 L427.1,483.5 L427.9,482.3 L428.8,481.1 L429.8,479.9 L430.7,478.8 L431.8,477.7 L432.8,476.6 L433.8,475.5 L434.8,474.3 L435.8,473.2 L436.7,472.0 L437.7,470.9 L438.6,469.7 L439.5,468.5 L440.4,467.3 L441.3,466.1 L442.2,464.9 L443.2,463.8 L444.1,462.6 L445.1,461.4 L446.1,460.3 L447.1,459.2 L448.1,458.1 L449.2,457.1 L450.3,456.1 L451.4,455.1 L452.6,454.2 L453.8,453.2 L455.0,452.4 L456.2,451.5 L457.5,450.7 L458.7,449.9 L460.0,449.2 L461.4,448.5 L462.7,447.9 L464.2,447.5 L465.6,447.3 L467.1,447.2 L468.5,447.1 L470.0,447.1 L471.4,446.8 L472.8,446.3 L474.0,445.6 L475.1,444.7 L476.0,443.6 L476.9,442.4 L477.8,441.2 L478.6,439.9 L479.4,438.6 L480.2,437.4 L481.0,436.1 L481.8,434.8 L482.6,433.6 L483.4,432.3 L484.2,431.0 L484.9,429.7 L485.7,428.4 L486.4,427.1 L487.2,425.8 L487.9,424.5 L488.7,423.2 L489.4,421.9 L490.1,420.6 L490.9,419.3 L491.6,418.0 L492.3,416.6 L493.0,415.3 L493.7,414.0 L494.4,412.6 L495.0,411.3 L495.7,410.0 L496.4,408.6 L497.0,407.3 L497.7,405.9 L498.4,404.6 L499.1,403.3 L499.8,402.0 L500.5,400.7 L501.3,399.4 L502.1,398.1 L503.0,396.9 L503.8,395.6 L504.8,394.5 L505.7,393.3 L506.7,392.2 L507.8,391.2 L508.9,390.3 L510.2,389.6 L511.5,389.2 L512.9,389.0 L514.3,389.2 L515.7,389.6 L517.0,390.2 L518.3,390.9 L519.5,391.8 L520.6,392.8 L521.7,393.8 L522.7,394.9 L523.6,396.1 L524.5,397.3 L525.3,398.6 L526.1,399.8 L526.9,401.1 L527.6,402.4 L528.4,403.7 L529.2,405.0 L529.9,406.3 L530.6,407.6 L531.3,408.9 L532.0,410.3 L532.7,411.6 L533.3,413.0 L534.0,414.3 L534.6,415.7 L535.2,417.1 L535.7,418.5 L536.3,419.8 L536.9,421.2 L537.4,422.6 L537.9,424.1 L538.4,425.5 L538.9,426.9 L539.4,428.3 L539.9,429.7 L540.4,431.1 L540.8,432.6 L541.3,434.0 L541.7,435.4 L542.2,436.9 L542.6,438.3 L542.9,439.8 L543.3,441.2 L543.6,442.7 L544.0,444.1 L544.3,445.6 L544.6,447.1 L544.9,448.5 L545.2,450.0 L545.5,451.5 L545.8,452.9 L546.1,454.4 L546.4,455.9 L546.7,457.4 L547.0,458.8 L547.3,460.3 L547.6,461.8 L547.9,463.2 L548.2,464.7 L548.5,466.2 L548.8,467.6 L549.1,469.1 L549.4,470.6 L549.8,472.0 L550.1,473.5 L550.5,475.0 L550.8,476.4 L551.2,477.9 L551.6,479.3 L552.1,480.7 L552.5,482.2 L553.0,483.6 L553.5,485.0 L554.0,486.4 L554.5,487.8 L555.0,489.2 L555.6,490.6 L556.1,492.0 L556.7,493.4 L557.2,494.8 L557.8,496.2 L558.4,497.6 L558.9,499.0 L559.5,500.4 L560.1,501.8 L560.6,503.1 L561.2,504.5 L561.7,505.9 L562.3,507.3 L562.8,508.7 L563.4,510.1 L563.9,511.5 L564.5,512.9 L565.0,514.3 L565.6,515.7 L566.2,517.1 L566.8,518.5 L567.4,519.8 L568.0,521.2 L568.6,522.6 L569.2,523.9 L569.9,525.3 L570.6,526.6 L571.3,527.9 L572.1,529.2 L572.8,530.5 L573.6,531.8 L574.4,533.1 L575.2,534.3 L576.0,535.6 L576.9,536.8 L577.7,538.0 L578.7,539.2 L579.6,540.4 L580.6,541.5 L581.7,542.5 L582.8,543.5 L584.0,544.4 L585.2,545.3 L586.4,546.2 L587.7,547.0 L588.9,547.8 L590.2,548.6 L591.4,549.4 L592.7,550.2 L594.0,550.9 L595.4,551.6 L596.7,552.3 L598.1,552.8 L599.5,553.4 L600.9,553.8 L602.4,554.1 L603.9,554.4 L605.3,554.6 L606.8,554.8 L608.3,555.0 L609.8,555.1 L611.3,555.3 L612.8,555.5 L614.3,555.6 L615.8,555.8 L617.3,555.9 L618.8,556.1 L620.2,556.2 L621.7,556.3 L623.2,556.5 L624.7,556.6 L626.2,556.7 L627.7,556.9 L629.2,557.0 L630.7,557.1 L632.2,557.2 L633.7,557.3 L635.2,557.3 L636.7,557.4 L638.2,557.5 L639.7,557.5 L641.2,557.6 L642.7,557.6 L644.2,557.6 L645.7,557.6 L647.2,557.7 L648.7,557.7 L650.2,557.7 L651.7,557.8 L653.2,557.8 L654.7,557.8 L656.2,557.8 L657.7,557.9 L659.2,557.9 L660.7,557.9 L662.2,557.9 L663.7,558.0 L665.2,558.0 L666.7,558.0 L668.2,558.0 L669.7,558.0 L671.2,558.1 L672.7,558.1 L674.2,558.1 L675.7,558.1 L677.2,558.1 L678.7,558.1 L680.2,558.2 L681.7,558.2 L683.2,558.2 L684.7,558.2 L686.2,558.2 L687.7,558.2 L689.2,558.2 L690.7,558.2 L692.2,558.2 L693.7,558.2 L695.2,558.2 L696.7,558.2 L698.2,558.2 L699.7,558.2 L701.2,558.1 L702.7,558.1 L704.2,558.1 L705.7,558.1 L707.1,558.0 L708.4,558.0 L709.3,558.0" fill="none" stroke="#a03ca6" stroke-width="1.45" stroke-linejoin="round" stroke-linecap="round"/><path d="M421.3,495.2 L422.4,494.2 L423.6,493.2 L424.7,492.2 L425.8,491.2 L426.9,490.2 L427.9,489.1 L429.0,488.0 L430.0,487.0 L431.0,485.9 L432.0,484.8 L433.0,483.6 L434.0,482.5 L435.0,481.4 L435.9,480.2 L436.8,479.0 L437.7,477.8 L438.5,476.5 L439.4,475.3 L440.2,474.0 L441.0,472.7 L441.8,471.5 L442.6,470.2 L443.4,468.9 L444.2,467.7 L445.0,466.4 L445.9,465.2 L446.8,464.0 L447.8,462.9 L448.8,461.8 L449.9,460.8 L451.1,460.0 L452.4,459.2 L453.7,458.5 L455.1,457.9 L456.5,457.4 L457.9,457.0 L459.3,456.6 L460.8,456.2 L462.3,456.0 L463.7,455.7 L465.2,455.6 L466.7,455.5 L468.2,455.4 L469.7,455.4 L471.2,455.4 L472.7,455.3 L474.2,455.1 L475.6,454.7 L476.9,454.2 L478.1,453.4 L479.3,452.5 L480.4,451.5 L481.5,450.5 L482.5,449.3 L483.4,448.2 L484.3,447.0 L485.2,445.8 L486.1,444.6 L486.9,443.3 L487.6,442.0 L488.4,440.7 L489.1,439.4 L489.8,438.1 L490.6,436.8 L491.3,435.5 L492.0,434.1 L492.7,432.8 L493.4,431.5 L494.2,430.2 L494.9,428.9 L495.5,427.5 L496.2,426.2 L496.9,424.8 L497.6,423.5 L498.2,422.2 L498.9,420.8 L499.6,419.5 L500.3,418.2 L501.1,416.9 L501.9,415.6 L502.7,414.4 L503.6,413.2 L504.5,412.0 L505.5,410.9 L506.5,409.8 L507.6,408.7 L508.7,407.8 L509.9,406.9 L511.2,406.2 L512.6,405.7 L514.0,405.5 L515.4,405.6 L516.7,406.0 L518.0,406.6 L519.3,407.3 L520.5,408.2 L521.5,409.3 L522.5,410.4 L523.4,411.6 L524.3,412.8 L525.1,414.1 L525.8,415.3 L526.6,416.7 L527.3,418.0 L528.0,419.3 L528.6,420.7 L529.3,422.0 L529.9,423.4 L530.5,424.7 L531.1,426.1 L531.7,427.5 L532.2,428.9 L532.8,430.3 L533.3,431.7 L533.8,433.1 L534.3,434.5 L534.7,436.0 L535.2,437.4 L535.7,438.8 L536.2,440.2 L536.6,441.7 L537.1,443.1 L537.6,444.5 L538.1,445.9 L538.5,447.3 L539.0,448.8 L539.5,450.2 L540.0,451.6 L540.5,453.0 L541.0,454.4 L541.5,455.9 L542.0,457.3 L542.5,458.7 L543.0,460.1 L543.4,461.5 L543.9,462.9 L544.4,464.4 L544.9,465.8 L545.4,467.2 L545.9,468.6 L546.4,470.0 L546.9,471.4 L547.4,472.8 L547.9,474.3 L548.5,475.7 L549.0,477.1 L549.5,478.5 L550.1,479.9 L550.6,481.2 L551.2,482.6 L551.8,484.0 L552.5,485.4 L553.1,486.7 L553.7,488.1 L554.4,489.4 L555.0,490.8 L555.6,492.2 L556.2,493.5 L556.8,494.9 L557.4,496.3 L557.9,497.7 L558.4,499.1 L558.9,500.5 L559.4,501.9 L559.9,503.4 L560.4,504.8 L560.8,506.2 L561.3,507.6 L561.8,509.1 L562.2,510.5 L562.7,511.9 L563.2,513.3 L563.7,514.8 L564.2,516.2 L564.7,517.6 L565.2,519.0 L565.8,520.4 L566.3,521.8 L566.9,523.1 L567.6,524.5 L568.2,525.8 L568.9,527.2 L569.6,528.5 L570.3,529.8 L571.0,531.1 L571.8,532.4 L572.5,533.7 L573.3,535.0 L574.2,536.3 L575.0,537.5 L575.9,538.7 L576.9,539.8 L578.0,540.8 L579.1,541.8 L580.3,542.7 L581.5,543.6 L582.8,544.4 L584.0,545.2 L585.3,546.0 L586.6,546.8 L587.9,547.5 L589.2,548.1 L590.6,548.7 L592.0,549.3 L593.4,549.7 L594.9,550.1 L596.3,550.4 L597.8,550.7 L599.3,550.9 L600.8,551.1 L602.3,551.3 L603.7,551.5 L605.2,551.7 L606.7,551.9 L608.2,552.1 L609.7,552.3 L611.2,552.5 L612.7,552.7 L614.2,552.9 L615.6,553.1 L617.1,553.3 L618.6,553.4 L620.1,553.6 L621.6,553.7 L623.1,553.9 L624.6,554.0 L626.1,554.1 L627.6,554.2 L629.1,554.3 L630.6,554.4 L632.1,554.5 L633.6,554.5 L635.1,554.6 L636.6,554.7 L638.1,554.7 L639.6,554.8 L641.1,554.8 L642.6,554.9 L644.1,555.0 L645.6,555.0 L647.1,555.1 L648.6,555.1 L650.1,555.2 L651.6,555.3 L653.1,555.3 L654.6,555.4 L656.1,555.4 L657.6,555.5 L659.1,555.6 L660.6,555.6 L662.1,555.7 L663.6,555.7 L665.1,555.8 L666.6,555.8 L668.1,555.9 L669.6,555.9 L671.1,556.0 L672.6,556.0 L674.0,556.1 L675.5,556.1 L677.0,556.2 L678.5,556.2 L680.0,556.2 L681.5,556.3 L683.0,556.3 L684.5,556.4 L686.0,556.4 L687.5,556.4 L689.0,556.4 L690.5,556.5 L692.0,556.5 L693.5,556.5 L695.0,556.5 L696.5,556.5 L698.0,556.5 L699.5,556.5 L701.0,556.5 L702.5,556.5 L704.0,556.5 L705.5,556.5 L707.0,556.5 L708.4,556.5 L709.3,556.5" fill="none" stroke="#e6de68" stroke-width="1.45" stroke-linejoin="round" stroke-linecap="round"/><path d="M420.9,342.9 V558.2 H709.9" fill="none" stroke="#383838" stroke-width="1.3"/><path d="M416.4,558.2 h4.5 M418.4,536.7 h2.5 M416.4,515.3 h4.5 M418.4,493.8 h2.5 M416.4,472.3 h4.5 M418.4,450.9 h2.5 M416.4,429.4 h4.5 M418.4,407.9 h2.5 M416.4,386.4 h4.5 M418.4,365.0 h2.5 M416.4,343.5 h4.5 M434.3,558.2 v4.5 M503.1,558.2 v2.5 M571.8,558.2 v4.5 M640.5,558.2 v2.5 M709.3,558.2 v4.5" stroke="#383838" stroke-width="1.2" fill="none"/><text x="414.6" y="561.3" font-size="8.5" fill="#222" stroke="#222" stroke-width="0.15" text-anchor="end">0,0</text><text x="414.6" y="518.4" font-size="8.5" fill="#222" stroke="#222" stroke-width="0.15" text-anchor="end">0,2</text><text x="414.6" y="475.4" font-size="8.5" fill="#222" stroke="#222" stroke-width="0.15" text-anchor="end">0,4</text><text x="414.6" y="432.5" font-size="8.5" fill="#222" stroke="#222" stroke-width="0.15" text-anchor="end">0,6</text><text x="414.6" y="389.5" font-size="8.5" fill="#222" stroke="#222" stroke-width="0.15" text-anchor="end">0,8</text><text x="414.6" y="346.6" font-size="8.5" fill="#222" stroke="#222" stroke-width="0.15" text-anchor="end">1,0</text><text x="434.3" y="571.8" font-size="8.5" fill="#222" stroke="#222" stroke-width="0.15" text-anchor="middle">300</text><text x="571.8" y="571.8" font-size="8.5" fill="#222" stroke="#222" stroke-width="0.15" text-anchor="middle">400</text><text x="709.3" y="571.8" font-size="8.5" fill="#222" stroke="#222" stroke-width="0.15" text-anchor="middle">500</text><text x="565.3" y="588.5" font-size="10.4" fill="#1a1a1a" stroke="#1a1a1a" stroke-width="0.15" text-anchor="middle">Wavelength (nm)</text><text transform="translate(387.0,451.9) rotate(-90)" font-size="10.2" fill="#1a1a1a" stroke="#1a1a1a" stroke-width="0.15" text-anchor="middle">Absorbance</text></g>
<g><path d="M805.3,492.0 L806.7,492.6 L808.1,493.2 L809.4,493.8 L810.8,494.4 L812.2,495.0 L813.6,495.5 L815.0,496.0 L816.4,496.5 L817.9,496.8 L819.3,497.0 L820.8,497.1 L822.3,497.0 L823.7,496.7 L825.1,496.2 L826.5,495.7 L827.8,495.0 L829.1,494.3 L830.4,493.5 L831.7,492.7 L832.9,491.9 L834.2,491.0 L835.4,490.2 L836.6,489.3 L837.9,488.5 L839.1,487.6 L840.3,486.7 L841.5,485.8 L842.7,484.9 L843.9,484.1 L845.1,483.2 L846.3,482.3 L847.6,481.5 L848.8,480.6 L850.1,479.8 L851.4,479.0 L852.7,478.3 L854.0,477.6 L855.3,476.9 L856.7,476.3 L858.1,475.6 L859.4,475.0 L860.8,474.4 L862.2,473.8 L863.5,473.2 L864.9,472.5 L866.2,471.9 L867.6,471.2 L868.9,470.6 L870.3,469.9 L871.6,469.3 L873.0,468.6 L874.3,468.0 L875.7,467.3 L877.0,466.6 L878.3,465.9 L879.6,465.2 L880.9,464.4 L882.2,463.7 L883.5,462.9 L884.9,462.2 L886.2,461.5 L887.5,460.8 L888.9,460.2 L890.3,459.6 L891.7,459.1 L893.1,458.6 L894.5,458.1 L895.9,457.7 L897.4,457.3 L898.8,457.0 L900.3,456.8 L901.8,456.7 L903.3,456.7 L904.8,456.8 L906.3,457.0 L907.7,457.3 L909.2,457.7 L910.6,458.1 L912.0,458.6 L913.4,459.2 L914.8,459.8 L916.1,460.4 L917.4,461.1 L918.7,461.8 L920.0,462.6 L921.2,463.5 L922.4,464.4 L923.6,465.3 L924.7,466.3 L925.9,467.3 L927.0,468.2 L928.2,469.2 L929.3,470.2 L930.4,471.2 L931.5,472.2 L932.6,473.2 L933.7,474.3 L934.8,475.3 L935.9,476.4 L936.9,477.4 L937.9,478.5 L939.0,479.6 L940.0,480.7 L941.0,481.8 L942.0,482.9 L943.0,484.0 L944.0,485.1 L945.0,486.3 L946.0,487.4 L946.9,488.6 L947.9,489.7 L948.9,490.9 L949.8,492.0 L950.8,493.1 L951.8,494.3 L952.8,495.4 L953.8,496.5 L954.9,497.6 L955.9,498.7 L956.9,499.8 L957.9,500.9 L959.0,502.0 L960.0,503.1 L961.0,504.2 L962.0,505.3 L963.0,506.4 L964.0,507.5 L965.0,508.6 L966.0,509.7 L967.1,510.8 L968.1,511.9 L969.1,513.0 L970.1,514.1 L971.1,515.2 L972.2,516.3 L973.2,517.4 L974.2,518.5 L975.3,519.6 L976.3,520.7 L977.3,521.7 L978.4,522.8 L979.4,523.9 L980.5,524.9 L981.6,526.0 L982.7,527.0 L983.8,528.0 L984.9,529.0 L986.1,530.0 L987.2,530.9 L988.4,531.8 L989.6,532.7 L990.9,533.6 L992.1,534.4 L993.4,535.2 L994.6,536.0 L995.9,536.8 L997.2,537.6 L998.4,538.4 L999.7,539.2 L1001.0,540.0 L1002.3,540.7 L1003.6,541.5 L1004.9,542.2 L1006.2,542.9 L1007.6,543.6 L1008.9,544.2 L1010.3,544.8 L1011.7,545.4 L1013.0,546.0 L1014.4,546.6 L1015.8,547.2 L1017.2,547.7 L1018.6,548.3 L1020.0,548.8 L1021.4,549.2 L1022.9,549.7 L1024.3,550.0 L1025.8,550.3 L1027.3,550.6 L1028.8,550.8 L1030.2,551.0 L1031.7,551.2 L1033.2,551.3 L1034.7,551.5 L1036.2,551.7 L1037.7,551.8 L1039.2,552.0 L1040.7,552.1 L1042.2,552.3 L1043.7,552.4 L1045.2,552.5 L1046.7,552.7 L1048.2,552.8 L1049.6,552.9 L1051.1,553.0 L1052.6,553.1 L1054.1,553.2 L1055.6,553.3 L1057.1,553.4 L1058.6,553.5 L1060.1,553.6 L1061.6,553.7 L1063.1,553.8 L1064.6,553.9 L1066.1,554.0 L1067.6,554.1 L1069.1,554.2 L1070.6,554.3 L1072.1,554.4 L1073.6,554.5 L1075.1,554.6 L1076.6,554.7 L1078.1,554.8 L1079.6,554.9 L1081.1,555.0 L1082.6,555.0 L1084.1,555.1 L1085.6,555.2 L1087.1,555.3 L1088.5,555.3 L1090.0,555.4 L1091.4,555.4 L1092.7,555.5 L1093.1,555.5" fill="none" stroke="#222222" stroke-width="1.45" stroke-linejoin="round" stroke-linecap="round"/><path d="M805.3,479.3 L806.7,478.7 L808.0,478.0 L809.3,477.3 L810.6,476.6 L811.9,475.8 L813.1,474.9 L814.4,474.1 L815.6,473.2 L816.8,472.3 L817.9,471.3 L819.1,470.3 L820.2,469.3 L821.3,468.3 L822.3,467.3 L823.4,466.2 L824.5,465.2 L825.5,464.1 L826.6,463.1 L827.7,462.1 L828.9,461.1 L830.0,460.1 L831.2,459.2 L832.4,458.3 L833.6,457.4 L834.8,456.5 L836.0,455.6 L837.3,454.8 L838.6,454.1 L839.9,453.5 L841.3,453.1 L842.7,452.9 L844.2,453.0 L845.6,453.3 L846.9,453.8 L848.3,454.4 L849.6,455.1 L850.9,455.9 L852.1,456.7 L853.4,457.5 L854.6,458.4 L855.9,459.1 L857.2,459.8 L858.5,460.3 L859.8,460.4 L861.1,460.1 L862.3,459.5 L863.5,458.6 L864.6,457.6 L865.6,456.5 L866.6,455.4 L867.5,454.2 L868.4,453.0 L869.2,451.7 L870.0,450.5 L870.7,449.2 L871.5,447.9 L872.2,446.5 L872.9,445.2 L873.6,443.9 L874.3,442.6 L875.0,441.3 L875.7,439.9 L876.4,438.6 L877.1,437.3 L877.8,435.9 L878.5,434.6 L879.1,433.3 L879.8,431.9 L880.4,430.5 L881.1,429.2 L881.7,427.8 L882.4,426.5 L883.0,425.1 L883.7,423.8 L884.3,422.4 L885.0,421.1 L885.7,419.8 L886.4,418.5 L887.1,417.1 L887.9,415.8 L888.6,414.5 L889.4,413.2 L890.1,411.9 L890.9,410.6 L891.6,409.4 L892.4,408.1 L893.3,406.8 L894.1,405.6 L895.0,404.4 L896.0,403.3 L897.0,402.2 L898.1,401.1 L899.2,400.2 L900.4,399.3 L901.7,398.6 L903.0,398.2 L904.4,398.0 L905.8,398.1 L907.2,398.5 L908.5,399.2 L909.8,399.9 L911.0,400.8 L912.2,401.7 L913.3,402.7 L914.3,403.8 L915.3,404.9 L916.2,406.1 L917.0,407.3 L917.8,408.6 L918.6,409.9 L919.4,411.2 L920.1,412.5 L920.8,413.8 L921.5,415.1 L922.2,416.5 L922.8,417.8 L923.5,419.2 L924.1,420.5 L924.6,421.9 L925.2,423.3 L925.7,424.7 L926.2,426.1 L926.7,427.6 L927.2,429.0 L927.6,430.4 L928.1,431.8 L928.5,433.3 L928.9,434.7 L929.4,436.2 L929.8,437.6 L930.2,439.0 L930.6,440.5 L931.0,441.9 L931.4,443.4 L931.8,444.8 L932.2,446.3 L932.6,447.7 L933.0,449.2 L933.3,450.6 L933.7,452.1 L934.0,453.5 L934.3,455.0 L934.7,456.5 L935.0,457.9 L935.3,459.4 L935.6,460.9 L935.9,462.3 L936.2,463.8 L936.4,465.3 L936.7,466.8 L937.0,468.2 L937.3,469.7 L937.6,471.2 L937.9,472.7 L938.1,474.1 L938.4,475.6 L938.7,477.1 L939.0,478.5 L939.3,480.0 L939.6,481.5 L939.9,483.0 L940.1,484.4 L940.4,485.9 L940.7,487.4 L941.1,488.8 L941.4,490.3 L941.7,491.8 L942.0,493.2 L942.4,494.7 L942.7,496.2 L943.1,497.6 L943.5,499.1 L943.9,500.5 L944.3,501.9 L944.8,503.4 L945.2,504.8 L945.7,506.2 L946.2,507.6 L946.6,509.1 L947.1,510.5 L947.6,511.9 L948.1,513.3 L948.6,514.7 L949.2,516.1 L949.7,517.5 L950.3,518.9 L950.9,520.3 L951.5,521.7 L952.1,523.0 L952.8,524.4 L953.5,525.7 L954.2,527.0 L955.1,528.2 L956.0,529.4 L956.9,530.6 L957.9,531.7 L958.9,532.8 L960.0,533.9 L961.0,534.9 L962.1,536.0 L963.2,537.0 L964.3,538.0 L965.4,539.0 L966.6,539.9 L967.8,540.8 L969.1,541.6 L970.4,542.3 L971.7,542.9 L973.2,543.3 L974.6,543.8 L976.0,544.2 L977.5,544.5 L978.9,544.9 L980.4,545.3 L981.9,545.6 L983.3,545.9 L984.8,546.3 L986.2,546.6 L987.7,546.9 L989.2,547.2 L990.7,547.4 L992.1,547.7 L993.6,547.9 L995.1,548.1 L996.6,548.3 L998.1,548.5 L999.6,548.7 L1001.1,548.9 L1002.6,549.0 L1004.0,549.2 L1005.5,549.4 L1007.0,549.5 L1008.5,549.7 L1010.0,549.9 L1011.5,550.0 L1013.0,550.2 L1014.5,550.4 L1016.0,550.5 L1017.5,550.7 L1019.0,550.9 L1020.4,551.0 L1021.9,551.2 L1023.4,551.3 L1024.9,551.5 L1026.4,551.6 L1027.9,551.7 L1029.4,551.9 L1030.9,552.0 L1032.4,552.1 L1033.9,552.2 L1035.4,552.3 L1036.9,552.4 L1038.4,552.5 L1039.9,552.6 L1041.4,552.7 L1042.9,552.8 L1044.4,552.9 L1045.9,553.0 L1047.4,553.1 L1048.9,553.2 L1050.4,553.3 L1051.9,553.4 L1053.3,553.5 L1054.8,553.6 L1056.3,553.7 L1057.8,553.8 L1059.3,553.9 L1060.8,554.0 L1062.3,554.1 L1063.8,554.2 L1065.3,554.3 L1066.8,554.4 L1068.3,554.5 L1069.8,554.5 L1071.3,554.6 L1072.8,554.7 L1074.3,554.8 L1075.8,554.9 L1077.3,554.9 L1078.8,555.0 L1080.3,555.1 L1081.8,555.1 L1083.3,555.2 L1084.8,555.2 L1086.3,555.3 L1087.8,555.3 L1089.3,555.4 L1090.7,555.4 L1092.2,555.5 L1093.1,555.5" fill="none" stroke="#b03a48" stroke-width="1.45" stroke-linejoin="round" stroke-linecap="round"/><path d="M805.8,494.0 L807.0,493.1 L808.1,492.1 L809.3,491.2 L810.4,490.2 L811.6,489.2 L812.7,488.2 L813.8,487.2 L814.8,486.1 L815.9,485.1 L816.9,484.0 L818.0,482.9 L819.0,481.8 L820.0,480.6 L820.9,479.5 L821.9,478.4 L822.9,477.2 L823.9,476.1 L824.8,475.0 L825.8,473.8 L826.8,472.7 L827.8,471.5 L828.8,470.4 L829.8,469.3 L830.8,468.2 L831.9,467.2 L833.0,466.2 L834.2,465.3 L835.4,464.4 L836.6,463.5 L837.8,462.7 L839.1,461.9 L840.4,461.1 L841.7,460.4 L843.0,459.7 L844.4,459.0 L845.7,458.4 L847.1,457.8 L848.5,457.3 L849.9,456.9 L851.4,456.5 L852.9,456.3 L854.3,456.1 L855.8,455.9 L857.3,455.6 L858.7,455.3 L860.1,454.7 L861.4,454.1 L862.6,453.2 L863.7,452.3 L864.8,451.2 L865.8,450.1 L866.8,449.0 L867.7,447.8 L868.6,446.6 L869.5,445.4 L870.4,444.2 L871.2,442.9 L871.9,441.6 L872.7,440.3 L873.4,439.0 L874.1,437.7 L874.8,436.3 L875.5,435.0 L876.1,433.7 L876.8,432.3 L877.5,431.0 L878.2,429.7 L878.9,428.4 L879.6,427.0 L880.4,425.7 L881.2,424.5 L881.9,423.2 L882.7,421.9 L883.5,420.6 L884.3,419.4 L885.1,418.1 L886.0,416.8 L886.8,415.6 L887.6,414.4 L888.5,413.1 L889.4,411.9 L890.3,410.8 L891.3,409.6 L892.3,408.5 L893.3,407.4 L894.4,406.3 L895.4,405.3 L896.6,404.3 L897.8,403.5 L899.0,402.8 L900.4,402.3 L901.8,402.1 L903.2,402.2 L904.5,402.6 L905.9,403.2 L907.1,403.9 L908.4,404.8 L909.5,405.7 L910.6,406.7 L911.6,407.8 L912.6,409.0 L913.5,410.2 L914.3,411.4 L915.1,412.7 L915.9,414.0 L916.6,415.3 L917.3,416.6 L918.0,417.9 L918.7,419.3 L919.3,420.6 L919.9,422.0 L920.4,423.4 L921.0,424.8 L921.5,426.2 L922.0,427.6 L922.4,429.1 L922.9,430.5 L923.3,431.9 L923.8,433.4 L924.2,434.8 L924.6,436.2 L925.1,437.7 L925.5,439.1 L925.9,440.5 L926.4,442.0 L926.8,443.4 L927.3,444.8 L927.7,446.3 L928.2,447.7 L928.7,449.1 L929.2,450.5 L929.8,451.9 L930.3,453.3 L930.9,454.7 L931.5,456.0 L932.1,457.4 L932.7,458.8 L933.4,460.2 L934.0,461.5 L934.6,462.9 L935.2,464.2 L935.9,465.6 L936.5,467.0 L937.1,468.4 L937.6,469.7 L938.2,471.1 L938.7,472.5 L939.3,473.9 L939.8,475.4 L940.2,476.8 L940.7,478.2 L941.2,479.6 L941.6,481.1 L942.1,482.5 L942.5,483.9 L942.9,485.4 L943.4,486.8 L943.8,488.2 L944.2,489.7 L944.7,491.1 L945.1,492.5 L945.6,494.0 L946.0,495.4 L946.5,496.8 L947.0,498.2 L947.5,499.6 L948.0,501.0 L948.6,502.4 L949.1,503.8 L949.7,505.2 L950.3,506.6 L950.8,508.0 L951.4,509.4 L952.0,510.8 L952.6,512.1 L953.2,513.5 L953.8,514.9 L954.4,516.2 L955.1,517.6 L955.7,519.0 L956.4,520.3 L957.1,521.6 L957.8,523.0 L958.5,524.3 L959.3,525.5 L960.1,526.8 L961.0,528.0 L961.9,529.2 L962.8,530.4 L963.8,531.5 L964.8,532.6 L965.8,533.8 L966.8,534.9 L967.8,535.9 L968.9,537.0 L969.9,538.1 L971.0,539.1 L972.1,540.1 L973.3,541.1 L974.4,542.0 L975.7,542.9 L976.9,543.6 L978.3,544.3 L979.6,544.9 L981.1,545.3 L982.5,545.7 L984.0,546.1 L985.4,546.4 L986.9,546.7 L988.4,547.0 L989.8,547.4 L991.3,547.7 L992.8,548.0 L994.2,548.3 L995.7,548.6 L997.2,548.8 L998.6,549.1 L1000.1,549.4 L1001.6,549.6 L1003.1,549.9 L1004.6,550.1 L1006.0,550.3 L1007.5,550.5 L1009.0,550.7 L1010.5,550.9 L1012.0,551.0 L1013.5,551.2 L1015.0,551.3 L1016.5,551.4 L1018.0,551.5 L1019.5,551.6 L1021.0,551.7 L1022.5,551.8 L1024.0,551.9 L1025.5,552.0 L1027.0,552.1 L1028.5,552.1 L1030.0,552.2 L1031.5,552.3 L1033.0,552.4 L1034.5,552.5 L1036.0,552.6 L1037.4,552.7 L1038.9,552.7 L1040.4,552.8 L1041.9,552.9 L1043.4,553.0 L1044.9,553.0 L1046.4,553.1 L1047.9,553.2 L1049.4,553.2 L1050.9,553.3 L1052.4,553.3 L1053.9,553.4 L1055.4,553.4 L1056.9,553.5 L1058.4,553.5 L1059.9,553.5 L1061.4,553.6 L1062.9,553.6 L1064.4,553.6 L1065.9,553.7 L1067.4,553.7 L1068.9,553.7 L1070.4,553.8 L1071.9,553.8 L1073.4,553.8 L1074.9,553.9 L1076.4,553.9 L1077.9,553.9 L1079.4,554.0 L1080.9,554.0 L1082.4,554.0 L1083.9,554.0 L1085.4,554.0 L1086.9,554.1 L1088.4,554.1 L1089.9,554.1 L1091.3,554.1 L1092.7,554.1 L1093.1,554.1" fill="none" stroke="#68c060" stroke-width="1.45" stroke-linejoin="round" stroke-linecap="round"/><path d="M805.3,477.6 L806.7,477.0 L808.0,476.3 L809.4,475.7 L810.8,475.1 L812.1,474.5 L813.5,473.9 L814.9,473.3 L816.3,472.8 L817.7,472.2 L819.1,471.7 L820.5,471.2 L821.9,470.7 L823.3,470.2 L824.8,469.8 L826.2,469.3 L827.6,468.9 L829.1,468.4 L830.5,468.0 L831.9,467.6 L833.4,467.2 L834.8,466.8 L836.3,466.4 L837.8,466.1 L839.2,465.9 L840.7,465.7 L842.2,465.6 L843.7,465.5 L845.2,465.6 L846.7,465.7 L848.1,466.0 L849.6,466.3 L851.1,466.7 L852.5,467.0 L854.0,467.4 L855.4,467.8 L856.9,468.1 L858.3,468.3 L859.8,468.5 L861.3,468.6 L862.8,468.5 L864.3,468.4 L865.8,468.2 L867.2,467.9 L868.7,467.5 L870.1,467.1 L871.5,466.6 L873.0,466.1 L874.4,465.6 L875.8,465.1 L877.2,464.5 L878.5,463.9 L879.9,463.2 L881.2,462.5 L882.5,461.8 L883.8,461.0 L885.0,460.1 L886.2,459.3 L887.4,458.4 L888.6,457.5 L889.8,456.6 L891.0,455.7 L892.2,454.8 L893.4,453.8 L894.6,452.9 L895.7,451.9 L896.8,451.0 L898.0,450.0 L899.0,448.9 L900.1,447.9 L901.2,446.8 L902.3,445.8 L903.4,444.8 L904.5,443.7 L905.6,442.7 L906.7,441.7 L907.8,440.8 L909.0,439.8 L910.2,438.9 L911.4,438.1 L912.7,437.2 L913.9,436.5 L915.2,435.7 L916.5,434.9 L917.9,434.2 L919.2,433.6 L920.6,433.0 L922.0,432.5 L923.4,432.1 L924.9,431.8 L926.3,431.7 L927.8,431.8 L929.3,432.0 L930.7,432.3 L932.1,432.8 L933.5,433.3 L934.9,434.0 L936.2,434.7 L937.5,435.4 L938.7,436.3 L939.8,437.2 L940.9,438.2 L942.0,439.3 L943.0,440.4 L944.0,441.5 L945.0,442.6 L946.0,443.8 L946.9,445.0 L947.7,446.2 L948.6,447.4 L949.4,448.7 L950.2,450.0 L951.0,451.3 L951.7,452.6 L952.4,453.9 L953.2,455.2 L953.9,456.5 L954.6,457.8 L955.3,459.2 L956.0,460.5 L956.7,461.8 L957.4,463.1 L958.1,464.5 L958.8,465.8 L959.5,467.1 L960.2,468.4 L960.9,469.8 L961.5,471.1 L962.2,472.5 L962.8,473.8 L963.5,475.2 L964.2,476.5 L964.8,477.9 L965.4,479.2 L966.1,480.6 L966.7,481.9 L967.4,483.3 L968.1,484.6 L968.7,486.0 L969.4,487.3 L970.1,488.7 L970.7,490.0 L971.4,491.3 L972.2,492.6 L972.9,494.0 L973.6,495.3 L974.3,496.6 L975.1,497.9 L975.8,499.2 L976.6,500.5 L977.4,501.7 L978.1,503.0 L978.9,504.3 L979.7,505.6 L980.5,506.9 L981.3,508.1 L982.1,509.4 L982.9,510.7 L983.7,512.0 L984.5,513.2 L985.3,514.5 L986.1,515.8 L986.9,517.0 L987.7,518.3 L988.5,519.6 L989.3,520.8 L990.1,522.1 L990.9,523.4 L991.7,524.7 L992.5,525.9 L993.3,527.1 L994.2,528.3 L995.2,529.5 L996.1,530.7 L997.1,531.8 L998.2,532.9 L999.2,533.9 L1000.3,535.0 L1001.3,536.0 L1002.4,537.1 L1003.6,538.0 L1004.7,539.0 L1005.9,539.9 L1007.1,540.8 L1008.4,541.6 L1009.7,542.3 L1011.0,543.0 L1012.4,543.6 L1013.8,544.2 L1015.2,544.7 L1016.6,545.3 L1018.0,545.8 L1019.4,546.3 L1020.8,546.8 L1022.2,547.2 L1023.7,547.7 L1025.1,548.1 L1026.6,548.4 L1028.0,548.8 L1029.5,549.1 L1031.0,549.4 L1032.4,549.6 L1033.9,549.8 L1035.4,550.0 L1036.9,550.2 L1038.4,550.4 L1039.9,550.6 L1041.4,550.8 L1042.9,551.0 L1044.3,551.2 L1045.8,551.3 L1047.3,551.5 L1048.8,551.7 L1050.3,551.8 L1051.8,552.0 L1053.3,552.1 L1054.8,552.2 L1056.3,552.4 L1057.8,552.5 L1059.3,552.6 L1060.8,552.7 L1062.3,552.8 L1063.8,552.9 L1065.3,553.0 L1066.8,553.1 L1068.3,553.2 L1069.7,553.3 L1071.2,553.4 L1072.7,553.5 L1074.2,553.6 L1075.7,553.7 L1077.2,553.8 L1078.7,553.9 L1080.2,554.0 L1081.7,554.0 L1083.2,554.1 L1084.7,554.2 L1086.2,554.3 L1087.7,554.3 L1089.2,554.4 L1090.7,554.4 L1092.1,554.5 L1093.1,554.5" fill="none" stroke="#34347c" stroke-width="1.45" stroke-linejoin="round" stroke-linecap="round"/><path d="M805.3,444.2 L806.8,444.3 L808.3,444.4 L809.8,444.6 L811.3,444.8 L812.8,445.0 L814.2,445.2 L815.7,445.5 L817.2,445.7 L818.6,446.1 L820.1,446.4 L821.5,446.9 L823.0,447.3 L824.4,447.9 L825.7,448.4 L827.1,449.0 L828.5,449.6 L829.9,450.1 L831.3,450.6 L832.7,451.0 L834.2,451.4 L835.7,451.6 L837.1,451.6 L838.6,451.4 L840.0,451.1 L841.4,450.6 L842.8,450.1 L844.2,449.4 L845.5,448.7 L846.8,448.0 L848.1,447.2 L849.3,446.4 L850.5,445.5 L851.6,444.6 L852.7,443.5 L853.8,442.5 L854.8,441.4 L855.8,440.3 L856.8,439.1 L857.9,438.1 L858.9,437.0 L860.1,436.1 L861.3,435.3 L862.5,434.8 L863.9,434.5 L865.2,434.7 L866.5,435.2 L867.7,436.0 L868.7,437.0 L869.7,438.1 L870.6,439.3 L871.4,440.6 L872.1,441.9 L872.7,443.2 L873.4,444.6 L874.0,446.0 L874.6,447.3 L875.2,448.7 L875.8,450.1 L876.4,451.5 L877.0,452.8 L877.6,454.2 L878.2,455.6 L878.8,456.9 L879.4,458.3 L880.0,459.7 L880.6,461.1 L881.1,462.5 L881.7,463.9 L882.2,465.3 L882.7,466.7 L883.1,468.1 L883.6,469.6 L884.0,471.0 L884.5,472.4 L884.9,473.9 L885.3,475.3 L885.7,476.8 L886.1,478.2 L886.5,479.6 L886.9,481.1 L887.3,482.5 L887.7,484.0 L888.1,485.4 L888.5,486.9 L889.0,488.3 L889.4,489.7 L889.9,491.2 L890.3,492.6 L890.8,494.0 L891.3,495.4 L891.8,496.8 L892.3,498.2 L892.9,499.6 L893.4,501.0 L894.0,502.4 L894.5,503.8 L895.1,505.2 L895.7,506.6 L896.3,508.0 L896.9,509.4 L897.5,510.7 L898.1,512.1 L898.8,513.4 L899.5,514.7 L900.3,516.0 L901.1,517.3 L901.9,518.5 L902.7,519.8 L903.6,521.0 L904.5,522.2 L905.3,523.5 L906.2,524.7 L907.1,525.9 L908.1,527.0 L909.0,528.2 L910.0,529.3 L911.0,530.4 L912.1,531.4 L913.3,532.4 L914.5,533.3 L915.7,534.1 L917.0,534.8 L918.3,535.5 L919.7,536.2 L921.0,536.8 L922.4,537.4 L923.8,538.1 L925.2,538.6 L926.5,539.2 L927.9,539.8 L929.3,540.3 L930.8,540.8 L932.2,541.2 L933.6,541.6 L935.1,542.0 L936.5,542.4 L938.0,542.8 L939.4,543.1 L940.9,543.5 L942.4,543.8 L943.8,544.1 L945.3,544.5 L946.7,544.8 L948.2,545.2 L949.7,545.5 L951.1,545.8 L952.6,546.1 L954.1,546.4 L955.5,546.7 L957.0,547.0 L958.5,547.3 L960.0,547.5 L961.5,547.8 L962.9,548.0 L964.4,548.1 L965.9,548.3 L967.4,548.5 L968.9,548.6 L970.4,548.8 L971.9,548.9 L973.4,549.0 L974.9,549.2 L976.4,549.3 L977.9,549.4 L979.4,549.6 L980.9,549.7 L982.3,549.8 L983.8,549.9 L985.3,550.0 L986.8,550.2 L988.3,550.3 L989.8,550.4 L991.3,550.5 L992.8,550.6 L994.3,550.7 L995.8,550.8 L997.3,550.9 L998.8,551.0 L1000.3,551.1 L1001.8,551.2 L1003.3,551.3 L1004.8,551.4 L1006.3,551.4 L1007.8,551.5 L1009.3,551.6 L1010.8,551.7 L1012.3,551.8 L1013.8,551.9 L1015.3,551.9 L1016.8,552.0 L1018.3,552.1 L1019.8,552.2 L1021.3,552.3 L1022.8,552.4 L1024.3,552.4 L1025.8,552.5 L1027.3,552.6 L1028.8,552.7 L1030.3,552.8 L1031.8,552.8 L1033.2,552.9 L1034.7,553.0 L1036.2,553.1 L1037.7,553.1 L1039.2,553.2 L1040.7,553.2 L1042.2,553.3 L1043.7,553.4 L1045.2,553.4 L1046.7,553.5 L1048.2,553.5 L1049.7,553.6 L1051.2,553.6 L1052.7,553.6 L1054.2,553.7 L1055.7,553.7 L1057.2,553.8 L1058.7,553.8 L1060.2,553.9 L1061.7,553.9 L1063.2,553.9 L1064.7,554.0 L1066.2,554.0 L1067.7,554.1 L1069.2,554.1 L1070.7,554.1 L1072.2,554.2 L1073.7,554.2 L1075.2,554.2 L1076.7,554.3 L1078.2,554.3 L1079.7,554.3 L1081.2,554.4 L1082.7,554.4 L1084.2,554.4 L1085.7,554.4 L1087.2,554.4 L1088.7,554.5 L1090.2,554.5 L1091.7,554.5 L1093.1,554.5 L1093.1,554.5" fill="none" stroke="#6cc6d8" stroke-width="1.45" stroke-linejoin="round" stroke-linecap="round"/><path d="M805.8,493.5 L806.9,492.5 L807.9,491.4 L809.0,490.3 L810.0,489.3 L811.1,488.2 L812.1,487.1 L813.1,486.0 L814.1,484.8 L815.1,483.7 L816.0,482.5 L817.0,481.4 L817.9,480.2 L818.8,479.0 L819.8,477.8 L820.7,476.7 L821.6,475.5 L822.5,474.3 L823.4,473.1 L824.3,471.9 L825.2,470.7 L826.1,469.5 L827.0,468.2 L827.9,467.0 L828.7,465.8 L829.7,464.6 L830.6,463.4 L831.5,462.3 L832.4,461.1 L833.4,459.9 L834.3,458.8 L835.4,457.7 L836.4,456.7 L837.5,455.6 L838.7,454.7 L839.8,453.7 L841.1,452.9 L842.4,452.2 L843.7,451.6 L845.1,451.3 L846.6,451.1 L848.1,451.0 L849.6,451.0 L851.1,451.1 L852.5,451.1 L854.0,451.0 L855.5,450.7 L856.9,450.3 L858.2,449.7 L859.5,448.9 L860.7,448.0 L861.8,447.1 L862.9,446.0 L863.8,444.9 L864.8,443.7 L865.6,442.5 L866.4,441.2 L867.2,439.9 L867.8,438.6 L868.5,437.3 L869.2,435.9 L869.8,434.6 L870.4,433.2 L871.1,431.8 L871.7,430.5 L872.4,429.1 L873.0,427.8 L873.7,426.5 L874.5,425.2 L875.2,423.9 L876.0,422.6 L876.7,421.3 L877.5,420.0 L878.3,418.7 L879.1,417.4 L879.9,416.2 L880.7,414.9 L881.5,413.6 L882.3,412.4 L883.2,411.1 L884.0,409.9 L884.9,408.7 L885.8,407.5 L886.7,406.3 L887.6,405.1 L888.5,403.9 L889.5,402.8 L890.5,401.6 L891.5,400.5 L892.5,399.5 L893.6,398.5 L894.8,397.7 L896.1,397.2 L897.5,397.0 L898.9,397.1 L900.3,397.5 L901.6,398.1 L902.8,398.9 L904.0,399.8 L905.1,400.8 L906.1,401.9 L907.1,403.0 L908.0,404.2 L908.9,405.4 L909.7,406.7 L910.5,407.9 L911.3,409.2 L912.1,410.5 L912.8,411.8 L913.5,413.1 L914.1,414.5 L914.7,415.9 L915.3,417.2 L915.9,418.6 L916.5,420.0 L917.0,421.4 L917.6,422.8 L918.1,424.2 L918.6,425.6 L919.2,427.0 L919.7,428.4 L920.2,429.8 L920.7,431.2 L921.2,432.7 L921.7,434.1 L922.1,435.5 L922.6,436.9 L923.1,438.4 L923.5,439.8 L924.0,441.2 L924.4,442.7 L924.8,444.1 L925.2,445.5 L925.7,447.0 L926.1,448.4 L926.5,449.9 L926.9,451.3 L927.3,452.7 L927.7,454.2 L928.2,455.6 L928.6,457.1 L929.0,458.5 L929.4,459.9 L929.8,461.4 L930.3,462.8 L930.7,464.3 L931.1,465.7 L931.5,467.1 L932.0,468.6 L932.4,470.0 L932.8,471.4 L933.3,472.9 L933.7,474.3 L934.1,475.8 L934.5,477.2 L934.9,478.6 L935.4,480.1 L935.8,481.5 L936.2,483.0 L936.6,484.4 L937.0,485.8 L937.5,487.3 L937.9,488.7 L938.4,490.1 L938.8,491.6 L939.2,493.0 L939.7,494.4 L940.2,495.9 L940.6,497.3 L941.1,498.7 L941.6,500.1 L942.1,501.5 L942.6,503.0 L943.1,504.4 L943.6,505.8 L944.1,507.2 L944.7,508.6 L945.2,510.0 L945.7,511.4 L946.2,512.8 L946.8,514.2 L947.3,515.6 L947.9,517.0 L948.5,518.4 L949.0,519.8 L949.6,521.1 L950.3,522.5 L950.9,523.9 L951.6,525.2 L952.3,526.5 L953.0,527.8 L953.8,529.1 L954.5,530.4 L955.4,531.7 L956.2,532.9 L957.1,534.1 L957.9,535.4 L958.8,536.6 L959.7,537.8 L960.6,539.0 L961.6,540.1 L962.5,541.3 L963.6,542.3 L964.6,543.4 L965.8,544.4 L967.0,545.2 L968.2,546.0 L969.5,546.8 L970.9,547.4 L972.2,548.1 L973.6,548.7 L975.0,549.3 L976.3,549.9 L977.7,550.4 L979.1,551.0 L980.5,551.5 L982.0,551.9 L983.4,552.4 L984.9,552.7 L986.3,553.0 L987.8,553.3 L989.3,553.5 L990.8,553.7 L992.3,553.8 L993.7,554.0 L995.2,554.1 L996.7,554.3 L998.2,554.4 L999.7,554.6 L1001.2,554.7 L1002.7,554.9 L1004.2,555.0 L1005.7,555.1 L1007.2,555.3 L1008.7,555.4 L1010.2,555.5 L1011.7,555.7 L1013.2,555.8 L1014.7,555.9 L1016.2,556.0 L1017.7,556.1 L1019.2,556.2 L1020.7,556.2 L1022.1,556.3 L1023.6,556.4 L1025.1,556.4 L1026.6,556.5 L1028.1,556.5 L1029.6,556.5 L1031.1,556.6 L1032.6,556.6 L1034.1,556.6 L1035.6,556.7 L1037.1,556.7 L1038.6,556.7 L1040.1,556.7 L1041.6,556.8 L1043.1,556.8 L1044.6,556.8 L1046.1,556.9 L1047.6,556.9 L1049.1,556.9 L1050.6,556.9 L1052.1,557.0 L1053.6,557.0 L1055.1,557.0 L1056.6,557.0 L1058.1,557.0 L1059.6,557.1 L1061.1,557.1 L1062.6,557.1 L1064.1,557.1 L1065.6,557.1 L1067.1,557.1 L1068.6,557.1 L1070.1,557.2 L1071.6,557.2 L1073.1,557.2 L1074.6,557.2 L1076.1,557.2 L1077.6,557.2 L1079.1,557.2 L1080.6,557.2 L1082.1,557.1 L1083.6,557.1 L1085.1,557.1 L1086.6,557.1 L1088.1,557.1 L1089.6,557.1 L1091.1,557.0 L1092.6,557.0 L1093.1,557.0" fill="none" stroke="#a03ca6" stroke-width="1.45" stroke-linejoin="round" stroke-linecap="round"/><path d="M805.3,485.2 L806.7,484.6 L808.0,483.9 L809.4,483.3 L810.7,482.7 L812.1,482.0 L813.5,481.4 L814.8,480.8 L816.2,480.1 L817.5,479.5 L818.9,478.9 L820.3,478.3 L821.7,477.7 L823.0,477.1 L824.4,476.5 L825.8,475.8 L827.1,475.2 L828.5,474.6 L829.9,474.0 L831.3,473.4 L832.6,472.8 L834.0,472.2 L835.4,471.6 L836.7,471.0 L838.1,470.4 L839.5,469.8 L840.9,469.2 L842.2,468.6 L843.6,468.0 L845.0,467.5 L846.5,467.1 L847.9,466.7 L849.4,466.4 L850.8,466.2 L852.3,466.1 L853.8,465.8 L855.3,465.5 L856.7,465.2 L858.1,464.7 L859.5,464.2 L860.9,463.6 L862.3,463.0 L863.6,462.3 L864.9,461.5 L866.2,460.7 L867.4,459.9 L868.6,459.0 L869.8,458.1 L870.8,457.1 L871.9,456.0 L872.8,454.8 L873.7,453.6 L874.7,452.4 L875.6,451.2 L876.5,450.1 L877.4,448.9 L878.3,447.7 L879.3,446.6 L880.3,445.4 L881.3,444.3 L882.3,443.2 L883.3,442.1 L884.3,441.0 L885.4,439.9 L886.5,438.9 L887.6,438.0 L888.8,437.1 L890.1,436.3 L891.4,435.6 L892.8,435.1 L894.2,434.6 L895.6,434.3 L897.1,434.1 L898.5,434.2 L900.0,434.4 L901.4,434.8 L902.8,435.4 L904.1,436.0 L905.4,436.8 L906.5,437.7 L907.7,438.7 L908.7,439.8 L909.6,440.9 L910.5,442.1 L911.4,443.3 L912.2,444.6 L913.0,445.9 L913.8,447.1 L914.6,448.4 L915.4,449.7 L916.2,451.0 L916.9,452.2 L917.7,453.5 L918.4,454.8 L919.2,456.2 L919.9,457.5 L920.6,458.8 L921.3,460.1 L921.9,461.5 L922.6,462.8 L923.2,464.2 L923.9,465.5 L924.5,466.9 L925.1,468.3 L925.7,469.6 L926.3,471.0 L926.9,472.4 L927.5,473.8 L928.1,475.1 L928.6,476.5 L929.2,477.9 L929.7,479.4 L930.2,480.8 L930.7,482.2 L931.2,483.6 L931.6,485.0 L932.1,486.4 L932.6,487.9 L933.1,489.3 L933.6,490.7 L934.1,492.1 L934.6,493.5 L935.1,495.0 L935.6,496.4 L936.1,497.8 L936.7,499.2 L937.2,500.6 L937.7,502.0 L938.3,503.4 L938.8,504.7 L939.4,506.1 L940.0,507.5 L940.5,508.9 L941.1,510.3 L941.6,511.7 L942.2,513.1 L942.8,514.5 L943.4,515.9 L944.0,517.2 L944.6,518.6 L945.2,520.0 L945.9,521.3 L946.5,522.7 L947.2,524.0 L947.9,525.3 L948.6,526.7 L949.3,528.0 L950.0,529.3 L950.7,530.6 L951.4,531.9 L952.2,533.3 L952.9,534.6 L953.7,535.8 L954.5,537.1 L955.3,538.4 L956.1,539.6 L957.0,540.8 L958.0,541.9 L959.1,543.0 L960.2,543.9 L961.4,544.8 L962.6,545.6 L963.9,546.4 L965.2,547.2 L966.5,547.9 L967.8,548.6 L969.2,549.2 L970.6,549.8 L972.0,550.3 L973.4,550.7 L974.9,551.1 L976.3,551.4 L977.8,551.6 L979.3,551.7 L980.8,551.9 L982.3,552.0 L983.8,552.2 L985.3,552.3 L986.8,552.4 L988.3,552.6 L989.8,552.7 L991.3,552.8 L992.8,553.0 L994.2,553.1 L995.7,553.2 L997.2,553.3 L998.7,553.5 L1000.2,553.6 L1001.7,553.7 L1003.2,553.8 L1004.7,553.9 L1006.2,554.0 L1007.7,554.1 L1009.2,554.2 L1010.7,554.2 L1012.2,554.3 L1013.7,554.4 L1015.2,554.4 L1016.7,554.5 L1018.2,554.5 L1019.7,554.6 L1021.2,554.6 L1022.7,554.6 L1024.2,554.7 L1025.7,554.7 L1027.2,554.8 L1028.7,554.8 L1030.2,554.9 L1031.7,554.9 L1033.2,554.9 L1034.7,555.0 L1036.2,555.0 L1037.7,555.1 L1039.2,555.1 L1040.7,555.2 L1042.2,555.2 L1043.7,555.3 L1045.2,555.3 L1046.7,555.3 L1048.2,555.4 L1049.7,555.4 L1051.2,555.5 L1052.7,555.5 L1054.2,555.5 L1055.7,555.6 L1057.2,555.6 L1058.7,555.7 L1060.2,555.7 L1061.7,555.7 L1063.2,555.8 L1064.7,555.8 L1066.2,555.8 L1067.7,555.9 L1069.2,555.9 L1070.7,555.9 L1072.2,555.9 L1073.7,556.0 L1075.2,556.0 L1076.7,556.0 L1078.2,556.0 L1079.7,556.0 L1081.2,556.1 L1082.7,556.1 L1084.2,556.1 L1085.7,556.1 L1087.2,556.1 L1088.7,556.1 L1090.2,556.1 L1091.6,556.1 L1093.1,556.1 L1093.1,556.1" fill="none" stroke="#e6de68" stroke-width="1.45" stroke-linejoin="round" stroke-linecap="round"/><path d="M804.7,341.9 V557.4 H1094.0" fill="none" stroke="#383838" stroke-width="1.3"/><path d="M800.2,557.4 h4.5 M802.2,535.9 h2.5 M800.2,514.4 h4.5 M802.2,492.9 h2.5 M800.2,471.4 h4.5 M802.2,449.9 h2.5 M800.2,428.5 h4.5 M802.2,407.0 h2.5 M800.2,385.5 h4.5 M802.2,364.0 h2.5 M800.2,342.5 h4.5 M818.4,557.4 v4.5 M887.1,557.4 v2.5 M955.9,557.4 v4.5 M1024.7,557.4 v2.5 M1093.4,557.4 v4.5" stroke="#383838" stroke-width="1.2" fill="none"/><text x="798.4" y="560.5" font-size="8.5" fill="#222" stroke="#222" stroke-width="0.15" text-anchor="end">0,0</text><text x="798.4" y="517.5" font-size="8.5" fill="#222" stroke="#222" stroke-width="0.15" text-anchor="end">0,2</text><text x="798.4" y="474.5" font-size="8.5" fill="#222" stroke="#222" stroke-width="0.15" text-anchor="end">0,4</text><text x="798.4" y="431.6" font-size="8.5" fill="#222" stroke="#222" stroke-width="0.15" text-anchor="end">0,6</text><text x="798.4" y="388.6" font-size="8.5" fill="#222" stroke="#222" stroke-width="0.15" text-anchor="end">0,8</text><text x="798.4" y="345.6" font-size="8.5" fill="#222" stroke="#222" stroke-width="0.15" text-anchor="end">1,0</text><text x="818.4" y="571.0" font-size="8.5" fill="#222" stroke="#222" stroke-width="0.15" text-anchor="middle">300</text><text x="955.9" y="571.0" font-size="8.5" fill="#222" stroke="#222" stroke-width="0.15" text-anchor="middle">400</text><text x="1093.4" y="571.0" font-size="8.5" fill="#222" stroke="#222" stroke-width="0.15" text-anchor="middle">500</text><text x="949.3" y="587.7" font-size="10.4" fill="#1a1a1a" stroke="#1a1a1a" stroke-width="0.15" text-anchor="middle">Wavelength (nm)</text><text transform="translate(770.8,448.8) rotate(-90)" font-size="10.2" fill="#1a1a1a" stroke="#1a1a1a" stroke-width="0.15" text-anchor="middle">Absorbance</text></g>
<text x="147.3" y="15.5" font-size="17.7" fill="#111">0 days</text>
<text x="514.1" y="18.7" font-size="17.7" fill="#111">7 days</text>
<text x="133.7" y="341.4" font-size="17.7" fill="#111">14 days</text>
<text x="514.3" y="340.5" font-size="17.7" fill="#111">21 days</text>
<text x="883.2" y="340.5" font-size="17.7" fill="#111">28 days</text>
<rect x="778.5" y="23.3" width="257" height="210.4" fill="none" stroke="#454545" stroke-width="1.3"/>
<line x1="801.7" y1="48.4" x2="855.9" y2="48.4" stroke="#141414" stroke-width="2.6"/>
<text x="862" y="56.6" font-size="23.2" fill="#0a0a0a">Arufil</text>
<line x1="801.7" y1="77.0" x2="855.9" y2="77.0" stroke="#b8202c" stroke-width="2.6"/>
<text x="862" y="85.2" font-size="23.2" fill="#0a0a0a">DMSO</text>
<line x1="801.7" y1="105.5" x2="855.9" y2="105.5" stroke="#5cbd4c" stroke-width="2.6"/>
<text x="862" y="113.7" font-size="23.2" fill="#0a0a0a">Hypromelóza-P</text>
<line x1="801.7" y1="134.1" x2="855.9" y2="134.1" stroke="#232378" stroke-width="2.6"/>
<text x="862" y="142.2" font-size="23.2" fill="#0a0a0a">Ocutein</text>
<line x1="801.7" y1="162.6" x2="855.9" y2="162.6" stroke="#66c8dc" stroke-width="2.6"/>
<text x="862" y="170.8" font-size="23.2" fill="#0a0a0a">Refresh</text>
<line x1="801.7" y1="191.2" x2="855.9" y2="191.2" stroke="#a02c9e" stroke-width="2.6"/>
<text x="862" y="199.3" font-size="23.2" fill="#0a0a0a">Water</text>
<line x1="801.7" y1="219.7" x2="855.9" y2="219.7" stroke="#ece24a" stroke-width="2.6"/>
<text x="862" y="227.9" font-size="23.2" fill="#0a0a0a">Saline</text>
</svg></body></html>
